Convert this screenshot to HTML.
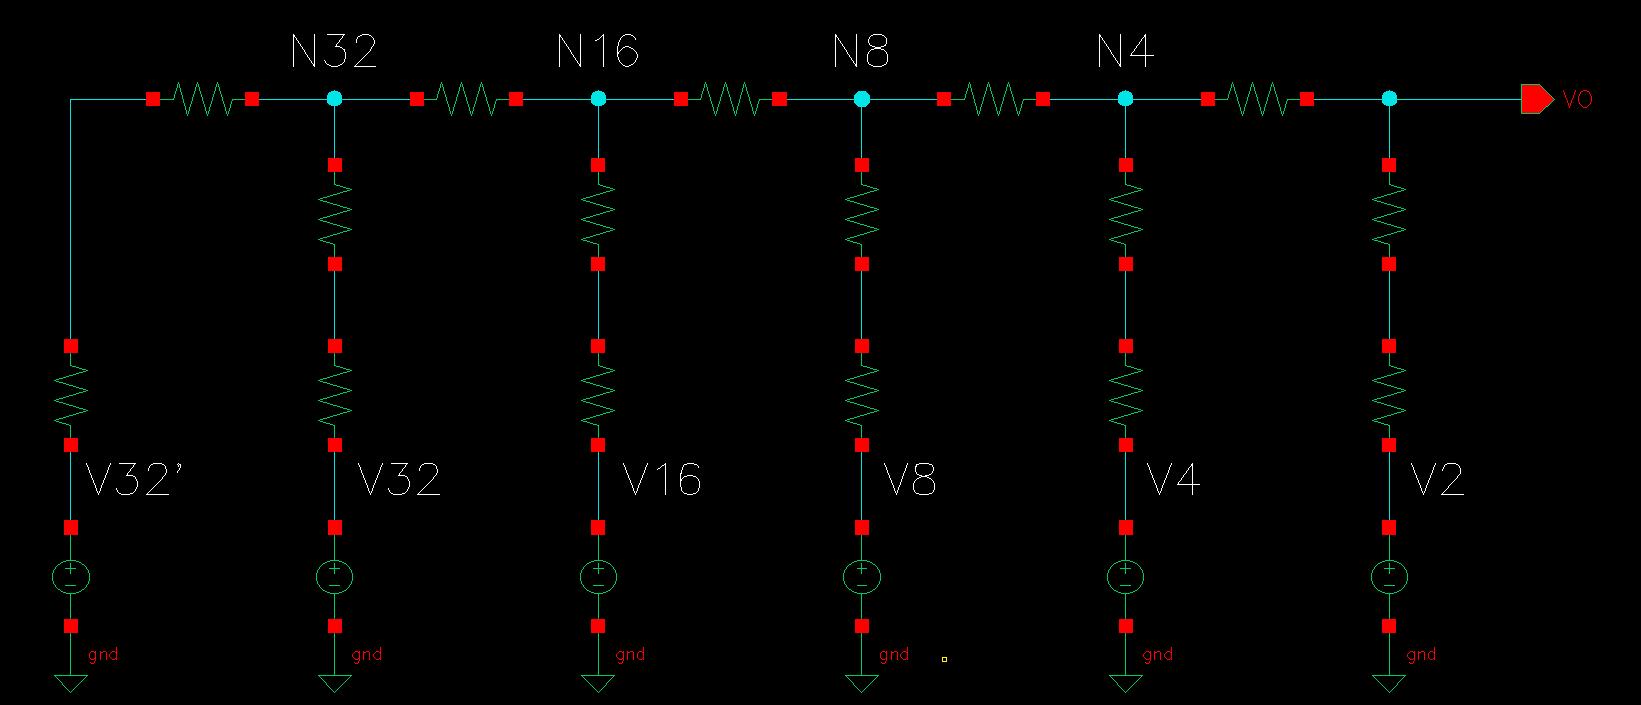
<!DOCTYPE html>
<html><head><meta charset="utf-8"><title>schematic</title>
<style>html,body{margin:0;padding:0;background:#000;overflow:hidden;width:1641px;height:705px}svg{display:block;position:absolute;left:0;top:0}</style></head><body>
<svg width="1641" height="705" viewBox="0 0 1641 705" shape-rendering="crispEdges">
<rect x="0" y="0" width="1641" height="705" fill="#000"/>
<path fill="#00e6e6" d="M334 90h1v1h-1zM598 90h1v1h-1zM1125 90h1v1h-1zM1389 90h1v1h-1zM331 91h7v1h-7zM595 91h7v1h-7zM858 91h8v1h-8zM1122 91h7v1h-7zM1386 91h7v1h-7zM329 92h11v1h-11zM593 92h11v1h-11zM857 92h10v1h-10zM1120 92h11v1h-11zM1384 92h11v1h-11zM328 93h13v1h-13zM592 93h13v1h-13zM856 93h12v1h-12zM1119 93h13v1h-13zM1383 93h13v1h-13zM328 94h13v1h-13zM592 94h13v1h-13zM855 94h14v1h-14zM1119 94h13v1h-13zM1383 94h13v1h-13zM327 95h15v1h-15zM591 95h15v1h-15zM854 95h16v1h-16zM1118 95h15v1h-15zM1382 95h15v1h-15zM327 96h15v1h-15zM591 96h15v1h-15zM854 96h16v1h-16zM1118 96h15v1h-15zM1382 96h15v1h-15zM327 97h15v1h-15zM591 97h15v1h-15zM854 97h16v1h-16zM1118 97h15v1h-15zM1382 97h15v1h-15zM327 98h15v1h-15zM591 98h15v1h-15zM854 98h16v1h-16zM1118 98h15v1h-15zM1382 98h15v1h-15zM70 99h76v1h-76zM259 99h151v1h-151zM523 99h151v1h-151zM787 99h150v1h-150zM1050 99h151v1h-151zM1314 99h207v1h-207zM70 100h1v1h-1zM327 100h15v1h-15zM591 100h15v1h-15zM854 100h16v1h-16zM1118 100h15v1h-15zM1382 100h15v1h-15zM70 101h1v1h-1zM327 101h15v1h-15zM591 101h15v1h-15zM854 101h16v1h-16zM1118 101h15v1h-15zM1382 101h15v1h-15zM70 102h1v1h-1zM327 102h15v1h-15zM591 102h15v1h-15zM854 102h16v1h-16zM1118 102h15v1h-15zM1382 102h15v1h-15zM70 103h1v1h-1zM328 103h13v1h-13zM592 103h13v1h-13zM855 103h14v1h-14zM1119 103h13v1h-13zM1383 103h13v1h-13zM70 104h1v1h-1zM329 104h11v1h-11zM593 104h11v1h-11zM856 104h12v1h-12zM1120 104h11v1h-11zM1384 104h11v1h-11zM70 105h1v1h-1zM331 105h7v1h-7zM595 105h7v1h-7zM857 105h10v1h-10zM1122 105h7v1h-7zM1386 105h7v1h-7zM70 106h1v1h-1zM334 106h1v1h-1zM598 106h1v1h-1zM858 106h8v1h-8zM1125 106h1v1h-1zM1389 106h1v1h-1zM70 107h1v1h-1zM334 107h1v1h-1zM598 107h1v1h-1zM861 107h1v1h-1zM1125 107h1v1h-1zM1389 107h1v1h-1zM70 108h1v1h-1zM334 108h1v1h-1zM598 108h1v1h-1zM861 108h1v1h-1zM1125 108h1v1h-1zM1389 108h1v1h-1zM70 109h1v1h-1zM334 109h1v1h-1zM598 109h1v1h-1zM861 109h1v1h-1zM1125 109h1v1h-1zM1389 109h1v1h-1zM70 110h1v1h-1zM334 110h1v1h-1zM598 110h1v1h-1zM861 110h1v1h-1zM1125 110h1v1h-1zM1389 110h1v1h-1zM70 111h1v1h-1zM334 111h1v1h-1zM598 111h1v1h-1zM861 111h1v1h-1zM1125 111h1v1h-1zM1389 111h1v1h-1zM70 112h1v1h-1zM334 112h1v1h-1zM598 112h1v1h-1zM861 112h1v1h-1zM1125 112h1v1h-1zM1389 112h1v1h-1zM70 113h1v1h-1zM334 113h1v1h-1zM598 113h1v1h-1zM861 113h1v1h-1zM1125 113h1v1h-1zM1389 113h1v1h-1zM70 114h1v1h-1zM334 114h1v1h-1zM598 114h1v1h-1zM861 114h1v1h-1zM1125 114h1v1h-1zM1389 114h1v1h-1zM70 115h1v1h-1zM334 115h1v1h-1zM598 115h1v1h-1zM861 115h1v1h-1zM1125 115h1v1h-1zM1389 115h1v1h-1zM70 116h1v1h-1zM334 116h1v1h-1zM598 116h1v1h-1zM861 116h1v1h-1zM1125 116h1v1h-1zM1389 116h1v1h-1zM70 117h1v1h-1zM334 117h1v1h-1zM598 117h1v1h-1zM861 117h1v1h-1zM1125 117h1v1h-1zM1389 117h1v1h-1zM70 118h1v1h-1zM334 118h1v1h-1zM598 118h1v1h-1zM861 118h1v1h-1zM1125 118h1v1h-1zM1389 118h1v1h-1zM70 119h1v1h-1zM334 119h1v1h-1zM598 119h1v1h-1zM861 119h1v1h-1zM1125 119h1v1h-1zM1389 119h1v1h-1zM70 120h1v1h-1zM334 120h1v1h-1zM598 120h1v1h-1zM861 120h1v1h-1zM1125 120h1v1h-1zM1389 120h1v1h-1zM70 121h1v1h-1zM334 121h1v1h-1zM598 121h1v1h-1zM861 121h1v1h-1zM1125 121h1v1h-1zM1389 121h1v1h-1zM70 122h1v1h-1zM334 122h1v1h-1zM598 122h1v1h-1zM861 122h1v1h-1zM1125 122h1v1h-1zM1389 122h1v1h-1zM70 123h1v1h-1zM334 123h1v1h-1zM598 123h1v1h-1zM861 123h1v1h-1zM1125 123h1v1h-1zM1389 123h1v1h-1zM70 124h1v1h-1zM334 124h1v1h-1zM598 124h1v1h-1zM861 124h1v1h-1zM1125 124h1v1h-1zM1389 124h1v1h-1zM70 125h1v1h-1zM334 125h1v1h-1zM598 125h1v1h-1zM861 125h1v1h-1zM1125 125h1v1h-1zM1389 125h1v1h-1zM70 126h1v1h-1zM334 126h1v1h-1zM598 126h1v1h-1zM861 126h1v1h-1zM1125 126h1v1h-1zM1389 126h1v1h-1zM70 127h1v1h-1zM334 127h1v1h-1zM598 127h1v1h-1zM861 127h1v1h-1zM1125 127h1v1h-1zM1389 127h1v1h-1zM70 128h1v1h-1zM334 128h1v1h-1zM598 128h1v1h-1zM861 128h1v1h-1zM1125 128h1v1h-1zM1389 128h1v1h-1zM70 129h1v1h-1zM334 129h1v1h-1zM598 129h1v1h-1zM861 129h1v1h-1zM1125 129h1v1h-1zM1389 129h1v1h-1zM70 130h1v1h-1zM334 130h1v1h-1zM598 130h1v1h-1zM861 130h1v1h-1zM1125 130h1v1h-1zM1389 130h1v1h-1zM70 131h1v1h-1zM334 131h1v1h-1zM598 131h1v1h-1zM861 131h1v1h-1zM1125 131h1v1h-1zM1389 131h1v1h-1zM70 132h1v1h-1zM334 132h1v1h-1zM598 132h1v1h-1zM861 132h1v1h-1zM1125 132h1v1h-1zM1389 132h1v1h-1zM70 133h1v1h-1zM334 133h1v1h-1zM598 133h1v1h-1zM861 133h1v1h-1zM1125 133h1v1h-1zM1389 133h1v1h-1zM70 134h1v1h-1zM334 134h1v1h-1zM598 134h1v1h-1zM861 134h1v1h-1zM1125 134h1v1h-1zM1389 134h1v1h-1zM70 135h1v1h-1zM334 135h1v1h-1zM598 135h1v1h-1zM861 135h1v1h-1zM1125 135h1v1h-1zM1389 135h1v1h-1zM70 136h1v1h-1zM334 136h1v1h-1zM598 136h1v1h-1zM861 136h1v1h-1zM1125 136h1v1h-1zM1389 136h1v1h-1zM70 137h1v1h-1zM334 137h1v1h-1zM598 137h1v1h-1zM861 137h1v1h-1zM1125 137h1v1h-1zM1389 137h1v1h-1zM70 138h1v1h-1zM334 138h1v1h-1zM598 138h1v1h-1zM861 138h1v1h-1zM1125 138h1v1h-1zM1389 138h1v1h-1zM70 139h1v1h-1zM334 139h1v1h-1zM598 139h1v1h-1zM861 139h1v1h-1zM1125 139h1v1h-1zM1389 139h1v1h-1zM70 140h1v1h-1zM334 140h1v1h-1zM598 140h1v1h-1zM861 140h1v1h-1zM1125 140h1v1h-1zM1389 140h1v1h-1zM70 141h1v1h-1zM334 141h1v1h-1zM598 141h1v1h-1zM861 141h1v1h-1zM1125 141h1v1h-1zM1389 141h1v1h-1zM70 142h1v1h-1zM334 142h1v1h-1zM598 142h1v1h-1zM861 142h1v1h-1zM1125 142h1v1h-1zM1389 142h1v1h-1zM70 143h1v1h-1zM334 143h1v1h-1zM598 143h1v1h-1zM861 143h1v1h-1zM1125 143h1v1h-1zM1389 143h1v1h-1zM70 144h1v1h-1zM334 144h1v1h-1zM598 144h1v1h-1zM861 144h1v1h-1zM1125 144h1v1h-1zM1389 144h1v1h-1zM70 145h1v1h-1zM334 145h1v1h-1zM598 145h1v1h-1zM861 145h1v1h-1zM1125 145h1v1h-1zM1389 145h1v1h-1zM70 146h1v1h-1zM334 146h1v1h-1zM598 146h1v1h-1zM861 146h1v1h-1zM1125 146h1v1h-1zM1389 146h1v1h-1zM70 147h1v1h-1zM334 147h1v1h-1zM598 147h1v1h-1zM861 147h1v1h-1zM1125 147h1v1h-1zM1389 147h1v1h-1zM70 148h1v1h-1zM334 148h1v1h-1zM598 148h1v1h-1zM861 148h1v1h-1zM1125 148h1v1h-1zM1389 148h1v1h-1zM70 149h1v1h-1zM334 149h1v1h-1zM598 149h1v1h-1zM861 149h1v1h-1zM1125 149h1v1h-1zM1389 149h1v1h-1zM70 150h1v1h-1zM334 150h1v1h-1zM598 150h1v1h-1zM861 150h1v1h-1zM1125 150h1v1h-1zM1389 150h1v1h-1zM70 151h1v1h-1zM334 151h1v1h-1zM598 151h1v1h-1zM861 151h1v1h-1zM1125 151h1v1h-1zM1389 151h1v1h-1zM70 152h1v1h-1zM334 152h1v1h-1zM598 152h1v1h-1zM861 152h1v1h-1zM1125 152h1v1h-1zM1389 152h1v1h-1zM70 153h1v1h-1zM334 153h1v1h-1zM598 153h1v1h-1zM861 153h1v1h-1zM1125 153h1v1h-1zM1389 153h1v1h-1zM70 154h1v1h-1zM334 154h1v1h-1zM598 154h1v1h-1zM861 154h1v1h-1zM1125 154h1v1h-1zM1389 154h1v1h-1zM70 155h1v1h-1zM334 155h1v1h-1zM598 155h1v1h-1zM861 155h1v1h-1zM1125 155h1v1h-1zM1389 155h1v1h-1zM70 156h1v1h-1zM334 156h1v1h-1zM598 156h1v1h-1zM861 156h1v1h-1zM1125 156h1v1h-1zM1389 156h1v1h-1zM70 157h1v1h-1zM334 157h1v1h-1zM598 157h1v1h-1zM861 157h1v1h-1zM1125 157h1v1h-1zM1389 157h1v1h-1zM70 158h1v1h-1zM70 159h1v1h-1zM70 160h1v1h-1zM70 161h1v1h-1zM70 162h1v1h-1zM70 163h1v1h-1zM70 164h1v1h-1zM70 165h1v1h-1zM70 166h1v1h-1zM70 167h1v1h-1zM70 168h1v1h-1zM70 169h1v1h-1zM70 170h1v1h-1zM70 171h1v1h-1zM70 172h1v1h-1zM70 173h1v1h-1zM70 174h1v1h-1zM70 175h1v1h-1zM70 176h1v1h-1zM70 177h1v1h-1zM70 178h1v1h-1zM70 179h1v1h-1zM70 180h1v1h-1zM70 181h1v1h-1zM70 182h1v1h-1zM70 183h1v1h-1zM70 184h1v1h-1zM70 185h1v1h-1zM70 186h1v1h-1zM70 187h1v1h-1zM70 188h1v1h-1zM70 189h1v1h-1zM70 190h1v1h-1zM70 191h1v1h-1zM70 192h1v1h-1zM70 193h1v1h-1zM70 194h1v1h-1zM70 195h1v1h-1zM70 196h1v1h-1zM70 197h1v1h-1zM70 198h1v1h-1zM70 199h1v1h-1zM70 200h1v1h-1zM70 201h1v1h-1zM70 202h1v1h-1zM70 203h1v1h-1zM70 204h1v1h-1zM70 205h1v1h-1zM70 206h1v1h-1zM70 207h1v1h-1zM70 208h1v1h-1zM70 209h1v1h-1zM70 210h1v1h-1zM70 211h1v1h-1zM70 212h1v1h-1zM70 213h1v1h-1zM70 214h1v1h-1zM70 215h1v1h-1zM70 216h1v1h-1zM70 217h1v1h-1zM70 218h1v1h-1zM70 219h1v1h-1zM70 220h1v1h-1zM70 221h1v1h-1zM70 222h1v1h-1zM70 223h1v1h-1zM70 224h1v1h-1zM70 225h1v1h-1zM70 226h1v1h-1zM70 227h1v1h-1zM70 228h1v1h-1zM70 229h1v1h-1zM70 230h1v1h-1zM70 231h1v1h-1zM70 232h1v1h-1zM70 233h1v1h-1zM70 234h1v1h-1zM70 235h1v1h-1zM70 236h1v1h-1zM70 237h1v1h-1zM70 238h1v1h-1zM70 239h1v1h-1zM70 240h1v1h-1zM70 241h1v1h-1zM70 242h1v1h-1zM70 243h1v1h-1zM70 244h1v1h-1zM70 245h1v1h-1zM70 246h1v1h-1zM70 247h1v1h-1zM70 248h1v1h-1zM70 249h1v1h-1zM70 250h1v1h-1zM70 251h1v1h-1zM70 252h1v1h-1zM70 253h1v1h-1zM70 254h1v1h-1zM70 255h1v1h-1zM70 256h1v1h-1zM70 257h1v1h-1zM70 258h1v1h-1zM70 259h1v1h-1zM70 260h1v1h-1zM70 261h1v1h-1zM70 262h1v1h-1zM70 263h1v1h-1zM70 264h1v1h-1zM70 265h1v1h-1zM70 266h1v1h-1zM70 267h1v1h-1zM70 268h1v1h-1zM70 269h1v1h-1zM70 270h1v1h-1zM70 271h1v1h-1zM334 271h1v1h-1zM598 271h1v1h-1zM861 271h1v1h-1zM1125 271h1v1h-1zM1389 271h1v1h-1zM70 272h1v1h-1zM334 272h1v1h-1zM598 272h1v1h-1zM861 272h1v1h-1zM1125 272h1v1h-1zM1389 272h1v1h-1zM70 273h1v1h-1zM334 273h1v1h-1zM598 273h1v1h-1zM861 273h1v1h-1zM1125 273h1v1h-1zM1389 273h1v1h-1zM70 274h1v1h-1zM334 274h1v1h-1zM598 274h1v1h-1zM861 274h1v1h-1zM1125 274h1v1h-1zM1389 274h1v1h-1zM70 275h1v1h-1zM334 275h1v1h-1zM598 275h1v1h-1zM861 275h1v1h-1zM1125 275h1v1h-1zM1389 275h1v1h-1zM70 276h1v1h-1zM334 276h1v1h-1zM598 276h1v1h-1zM861 276h1v1h-1zM1125 276h1v1h-1zM1389 276h1v1h-1zM70 277h1v1h-1zM334 277h1v1h-1zM598 277h1v1h-1zM861 277h1v1h-1zM1125 277h1v1h-1zM1389 277h1v1h-1zM70 278h1v1h-1zM334 278h1v1h-1zM598 278h1v1h-1zM861 278h1v1h-1zM1125 278h1v1h-1zM1389 278h1v1h-1zM70 279h1v1h-1zM334 279h1v1h-1zM598 279h1v1h-1zM861 279h1v1h-1zM1125 279h1v1h-1zM1389 279h1v1h-1zM70 280h1v1h-1zM334 280h1v1h-1zM598 280h1v1h-1zM861 280h1v1h-1zM1125 280h1v1h-1zM1389 280h1v1h-1zM70 281h1v1h-1zM334 281h1v1h-1zM598 281h1v1h-1zM861 281h1v1h-1zM1125 281h1v1h-1zM1389 281h1v1h-1zM70 282h1v1h-1zM334 282h1v1h-1zM598 282h1v1h-1zM861 282h1v1h-1zM1125 282h1v1h-1zM1389 282h1v1h-1zM70 283h1v1h-1zM334 283h1v1h-1zM598 283h1v1h-1zM861 283h1v1h-1zM1125 283h1v1h-1zM1389 283h1v1h-1zM70 284h1v1h-1zM334 284h1v1h-1zM598 284h1v1h-1zM861 284h1v1h-1zM1125 284h1v1h-1zM1389 284h1v1h-1zM70 285h1v1h-1zM334 285h1v1h-1zM598 285h1v1h-1zM861 285h1v1h-1zM1125 285h1v1h-1zM1389 285h1v1h-1zM70 286h1v1h-1zM334 286h1v1h-1zM598 286h1v1h-1zM861 286h1v1h-1zM1125 286h1v1h-1zM1389 286h1v1h-1zM70 287h1v1h-1zM334 287h1v1h-1zM598 287h1v1h-1zM861 287h1v1h-1zM1125 287h1v1h-1zM1389 287h1v1h-1zM70 288h1v1h-1zM334 288h1v1h-1zM598 288h1v1h-1zM861 288h1v1h-1zM1125 288h1v1h-1zM1389 288h1v1h-1zM70 289h1v1h-1zM334 289h1v1h-1zM598 289h1v1h-1zM861 289h1v1h-1zM1125 289h1v1h-1zM1389 289h1v1h-1zM70 290h1v1h-1zM334 290h1v1h-1zM598 290h1v1h-1zM861 290h1v1h-1zM1125 290h1v1h-1zM1389 290h1v1h-1zM70 291h1v1h-1zM334 291h1v1h-1zM598 291h1v1h-1zM861 291h1v1h-1zM1125 291h1v1h-1zM1389 291h1v1h-1zM70 292h1v1h-1zM334 292h1v1h-1zM598 292h1v1h-1zM861 292h1v1h-1zM1125 292h1v1h-1zM1389 292h1v1h-1zM70 293h1v1h-1zM334 293h1v1h-1zM598 293h1v1h-1zM861 293h1v1h-1zM1125 293h1v1h-1zM1389 293h1v1h-1zM70 294h1v1h-1zM334 294h1v1h-1zM598 294h1v1h-1zM861 294h1v1h-1zM1125 294h1v1h-1zM1389 294h1v1h-1zM70 295h1v1h-1zM334 295h1v1h-1zM598 295h1v1h-1zM861 295h1v1h-1zM1125 295h1v1h-1zM1389 295h1v1h-1zM70 296h1v1h-1zM334 296h1v1h-1zM598 296h1v1h-1zM861 296h1v1h-1zM1125 296h1v1h-1zM1389 296h1v1h-1zM70 297h1v1h-1zM334 297h1v1h-1zM598 297h1v1h-1zM861 297h1v1h-1zM1125 297h1v1h-1zM1389 297h1v1h-1zM70 298h1v1h-1zM334 298h1v1h-1zM598 298h1v1h-1zM861 298h1v1h-1zM1125 298h1v1h-1zM1389 298h1v1h-1zM70 299h1v1h-1zM334 299h1v1h-1zM598 299h1v1h-1zM861 299h1v1h-1zM1125 299h1v1h-1zM1389 299h1v1h-1zM70 300h1v1h-1zM334 300h1v1h-1zM598 300h1v1h-1zM861 300h1v1h-1zM1125 300h1v1h-1zM1389 300h1v1h-1zM70 301h1v1h-1zM334 301h1v1h-1zM598 301h1v1h-1zM861 301h1v1h-1zM1125 301h1v1h-1zM1389 301h1v1h-1zM70 302h1v1h-1zM334 302h1v1h-1zM598 302h1v1h-1zM861 302h1v1h-1zM1125 302h1v1h-1zM1389 302h1v1h-1zM70 303h1v1h-1zM334 303h1v1h-1zM598 303h1v1h-1zM861 303h1v1h-1zM1125 303h1v1h-1zM1389 303h1v1h-1zM70 304h1v1h-1zM334 304h1v1h-1zM598 304h1v1h-1zM861 304h1v1h-1zM1125 304h1v1h-1zM1389 304h1v1h-1zM70 305h1v1h-1zM334 305h1v1h-1zM598 305h1v1h-1zM861 305h1v1h-1zM1125 305h1v1h-1zM1389 305h1v1h-1zM70 306h1v1h-1zM334 306h1v1h-1zM598 306h1v1h-1zM861 306h1v1h-1zM1125 306h1v1h-1zM1389 306h1v1h-1zM70 307h1v1h-1zM334 307h1v1h-1zM598 307h1v1h-1zM861 307h1v1h-1zM1125 307h1v1h-1zM1389 307h1v1h-1zM70 308h1v1h-1zM334 308h1v1h-1zM598 308h1v1h-1zM861 308h1v1h-1zM1125 308h1v1h-1zM1389 308h1v1h-1zM70 309h1v1h-1zM334 309h1v1h-1zM598 309h1v1h-1zM861 309h1v1h-1zM1125 309h1v1h-1zM1389 309h1v1h-1zM70 310h1v1h-1zM334 310h1v1h-1zM598 310h1v1h-1zM861 310h1v1h-1zM1125 310h1v1h-1zM1389 310h1v1h-1zM70 311h1v1h-1zM334 311h1v1h-1zM598 311h1v1h-1zM861 311h1v1h-1zM1125 311h1v1h-1zM1389 311h1v1h-1zM70 312h1v1h-1zM334 312h1v1h-1zM598 312h1v1h-1zM861 312h1v1h-1zM1125 312h1v1h-1zM1389 312h1v1h-1zM70 313h1v1h-1zM334 313h1v1h-1zM598 313h1v1h-1zM861 313h1v1h-1zM1125 313h1v1h-1zM1389 313h1v1h-1zM70 314h1v1h-1zM334 314h1v1h-1zM598 314h1v1h-1zM861 314h1v1h-1zM1125 314h1v1h-1zM1389 314h1v1h-1zM70 315h1v1h-1zM334 315h1v1h-1zM598 315h1v1h-1zM861 315h1v1h-1zM1125 315h1v1h-1zM1389 315h1v1h-1zM70 316h1v1h-1zM334 316h1v1h-1zM598 316h1v1h-1zM861 316h1v1h-1zM1125 316h1v1h-1zM1389 316h1v1h-1zM70 317h1v1h-1zM334 317h1v1h-1zM598 317h1v1h-1zM861 317h1v1h-1zM1125 317h1v1h-1zM1389 317h1v1h-1zM70 318h1v1h-1zM334 318h1v1h-1zM598 318h1v1h-1zM861 318h1v1h-1zM1125 318h1v1h-1zM1389 318h1v1h-1zM70 319h1v1h-1zM334 319h1v1h-1zM598 319h1v1h-1zM861 319h1v1h-1zM1125 319h1v1h-1zM1389 319h1v1h-1zM70 320h1v1h-1zM334 320h1v1h-1zM598 320h1v1h-1zM861 320h1v1h-1zM1125 320h1v1h-1zM1389 320h1v1h-1zM70 321h1v1h-1zM334 321h1v1h-1zM598 321h1v1h-1zM861 321h1v1h-1zM1125 321h1v1h-1zM1389 321h1v1h-1zM70 322h1v1h-1zM334 322h1v1h-1zM598 322h1v1h-1zM861 322h1v1h-1zM1125 322h1v1h-1zM1389 322h1v1h-1zM70 323h1v1h-1zM334 323h1v1h-1zM598 323h1v1h-1zM861 323h1v1h-1zM1125 323h1v1h-1zM1389 323h1v1h-1zM70 324h1v1h-1zM334 324h1v1h-1zM598 324h1v1h-1zM861 324h1v1h-1zM1125 324h1v1h-1zM1389 324h1v1h-1zM70 325h1v1h-1zM334 325h1v1h-1zM598 325h1v1h-1zM861 325h1v1h-1zM1125 325h1v1h-1zM1389 325h1v1h-1zM70 326h1v1h-1zM334 326h1v1h-1zM598 326h1v1h-1zM861 326h1v1h-1zM1125 326h1v1h-1zM1389 326h1v1h-1zM70 327h1v1h-1zM334 327h1v1h-1zM598 327h1v1h-1zM861 327h1v1h-1zM1125 327h1v1h-1zM1389 327h1v1h-1zM70 328h1v1h-1zM334 328h1v1h-1zM598 328h1v1h-1zM861 328h1v1h-1zM1125 328h1v1h-1zM1389 328h1v1h-1zM70 329h1v1h-1zM334 329h1v1h-1zM598 329h1v1h-1zM861 329h1v1h-1zM1125 329h1v1h-1zM1389 329h1v1h-1zM70 330h1v1h-1zM334 330h1v1h-1zM598 330h1v1h-1zM861 330h1v1h-1zM1125 330h1v1h-1zM1389 330h1v1h-1zM70 331h1v1h-1zM334 331h1v1h-1zM598 331h1v1h-1zM861 331h1v1h-1zM1125 331h1v1h-1zM1389 331h1v1h-1zM70 332h1v1h-1zM334 332h1v1h-1zM598 332h1v1h-1zM861 332h1v1h-1zM1125 332h1v1h-1zM1389 332h1v1h-1zM70 333h1v1h-1zM334 333h1v1h-1zM598 333h1v1h-1zM861 333h1v1h-1zM1125 333h1v1h-1zM1389 333h1v1h-1zM70 334h1v1h-1zM334 334h1v1h-1zM598 334h1v1h-1zM861 334h1v1h-1zM1125 334h1v1h-1zM1389 334h1v1h-1zM70 335h1v1h-1zM334 335h1v1h-1zM598 335h1v1h-1zM861 335h1v1h-1zM1125 335h1v1h-1zM1389 335h1v1h-1zM70 336h1v1h-1zM334 336h1v1h-1zM598 336h1v1h-1zM861 336h1v1h-1zM1125 336h1v1h-1zM1389 336h1v1h-1zM70 337h1v1h-1zM334 337h1v1h-1zM598 337h1v1h-1zM861 337h1v1h-1zM1125 337h1v1h-1zM1389 337h1v1h-1zM70 338h1v1h-1zM334 338h1v1h-1zM598 338h1v1h-1zM861 338h1v1h-1zM1125 338h1v1h-1zM1389 338h1v1h-1zM70 452h1v1h-1zM334 452h1v1h-1zM598 452h1v1h-1zM861 452h1v1h-1zM1125 452h1v1h-1zM1389 452h1v1h-1zM70 453h1v1h-1zM334 453h1v1h-1zM598 453h1v1h-1zM861 453h1v1h-1zM1125 453h1v1h-1zM1389 453h1v1h-1zM70 454h1v1h-1zM334 454h1v1h-1zM598 454h1v1h-1zM861 454h1v1h-1zM1125 454h1v1h-1zM1389 454h1v1h-1zM70 455h1v1h-1zM334 455h1v1h-1zM598 455h1v1h-1zM861 455h1v1h-1zM1125 455h1v1h-1zM1389 455h1v1h-1zM70 456h1v1h-1zM334 456h1v1h-1zM598 456h1v1h-1zM861 456h1v1h-1zM1125 456h1v1h-1zM1389 456h1v1h-1zM70 457h1v1h-1zM334 457h1v1h-1zM598 457h1v1h-1zM861 457h1v1h-1zM1125 457h1v1h-1zM1389 457h1v1h-1zM70 458h1v1h-1zM334 458h1v1h-1zM598 458h1v1h-1zM861 458h1v1h-1zM1125 458h1v1h-1zM1389 458h1v1h-1zM70 459h1v1h-1zM334 459h1v1h-1zM598 459h1v1h-1zM861 459h1v1h-1zM1125 459h1v1h-1zM1389 459h1v1h-1zM70 460h1v1h-1zM334 460h1v1h-1zM598 460h1v1h-1zM861 460h1v1h-1zM1125 460h1v1h-1zM1389 460h1v1h-1zM70 461h1v1h-1zM334 461h1v1h-1zM598 461h1v1h-1zM861 461h1v1h-1zM1125 461h1v1h-1zM1389 461h1v1h-1zM70 462h1v1h-1zM334 462h1v1h-1zM598 462h1v1h-1zM861 462h1v1h-1zM1125 462h1v1h-1zM1389 462h1v1h-1zM70 463h1v1h-1zM334 463h1v1h-1zM598 463h1v1h-1zM861 463h1v1h-1zM1125 463h1v1h-1zM1389 463h1v1h-1zM70 464h1v1h-1zM334 464h1v1h-1zM598 464h1v1h-1zM861 464h1v1h-1zM1125 464h1v1h-1zM1389 464h1v1h-1zM70 465h1v1h-1zM334 465h1v1h-1zM598 465h1v1h-1zM861 465h1v1h-1zM1125 465h1v1h-1zM1389 465h1v1h-1zM70 466h1v1h-1zM334 466h1v1h-1zM598 466h1v1h-1zM861 466h1v1h-1zM1125 466h1v1h-1zM1389 466h1v1h-1zM70 467h1v1h-1zM334 467h1v1h-1zM598 467h1v1h-1zM861 467h1v1h-1zM1125 467h1v1h-1zM1389 467h1v1h-1zM70 468h1v1h-1zM334 468h1v1h-1zM598 468h1v1h-1zM861 468h1v1h-1zM1125 468h1v1h-1zM1389 468h1v1h-1zM70 469h1v1h-1zM334 469h1v1h-1zM598 469h1v1h-1zM861 469h1v1h-1zM1125 469h1v1h-1zM1389 469h1v1h-1zM70 470h1v1h-1zM334 470h1v1h-1zM598 470h1v1h-1zM861 470h1v1h-1zM1125 470h1v1h-1zM1389 470h1v1h-1zM70 471h1v1h-1zM334 471h1v1h-1zM598 471h1v1h-1zM861 471h1v1h-1zM1125 471h1v1h-1zM1389 471h1v1h-1zM70 472h1v1h-1zM334 472h1v1h-1zM598 472h1v1h-1zM861 472h1v1h-1zM1125 472h1v1h-1zM1389 472h1v1h-1zM70 473h1v1h-1zM334 473h1v1h-1zM598 473h1v1h-1zM861 473h1v1h-1zM1125 473h1v1h-1zM1389 473h1v1h-1zM70 474h1v1h-1zM334 474h1v1h-1zM598 474h1v1h-1zM861 474h1v1h-1zM1125 474h1v1h-1zM1389 474h1v1h-1zM70 475h1v1h-1zM334 475h1v1h-1zM598 475h1v1h-1zM861 475h1v1h-1zM1125 475h1v1h-1zM1389 475h1v1h-1zM70 476h1v1h-1zM334 476h1v1h-1zM598 476h1v1h-1zM861 476h1v1h-1zM1125 476h1v1h-1zM1389 476h1v1h-1zM70 477h1v1h-1zM334 477h1v1h-1zM598 477h1v1h-1zM861 477h1v1h-1zM1125 477h1v1h-1zM1389 477h1v1h-1zM70 478h1v1h-1zM334 478h1v1h-1zM598 478h1v1h-1zM861 478h1v1h-1zM1125 478h1v1h-1zM1389 478h1v1h-1zM70 479h1v1h-1zM334 479h1v1h-1zM598 479h1v1h-1zM861 479h1v1h-1zM1125 479h1v1h-1zM1389 479h1v1h-1zM70 480h1v1h-1zM334 480h1v1h-1zM598 480h1v1h-1zM861 480h1v1h-1zM1125 480h1v1h-1zM1389 480h1v1h-1zM70 481h1v1h-1zM334 481h1v1h-1zM598 481h1v1h-1zM861 481h1v1h-1zM1125 481h1v1h-1zM1389 481h1v1h-1zM70 482h1v1h-1zM334 482h1v1h-1zM598 482h1v1h-1zM861 482h1v1h-1zM1125 482h1v1h-1zM1389 482h1v1h-1zM70 483h1v1h-1zM334 483h1v1h-1zM598 483h1v1h-1zM861 483h1v1h-1zM1125 483h1v1h-1zM1389 483h1v1h-1zM70 484h1v1h-1zM334 484h1v1h-1zM598 484h1v1h-1zM861 484h1v1h-1zM1125 484h1v1h-1zM1389 484h1v1h-1zM70 485h1v1h-1zM334 485h1v1h-1zM598 485h1v1h-1zM861 485h1v1h-1zM1125 485h1v1h-1zM1389 485h1v1h-1zM70 486h1v1h-1zM334 486h1v1h-1zM598 486h1v1h-1zM861 486h1v1h-1zM1125 486h1v1h-1zM1389 486h1v1h-1zM70 487h1v1h-1zM334 487h1v1h-1zM598 487h1v1h-1zM861 487h1v1h-1zM1125 487h1v1h-1zM1389 487h1v1h-1zM70 488h1v1h-1zM334 488h1v1h-1zM598 488h1v1h-1zM861 488h1v1h-1zM1125 488h1v1h-1zM1389 488h1v1h-1zM70 489h1v1h-1zM334 489h1v1h-1zM598 489h1v1h-1zM861 489h1v1h-1zM1125 489h1v1h-1zM1389 489h1v1h-1zM70 490h1v1h-1zM334 490h1v1h-1zM598 490h1v1h-1zM861 490h1v1h-1zM1125 490h1v1h-1zM1389 490h1v1h-1zM70 491h1v1h-1zM334 491h1v1h-1zM598 491h1v1h-1zM861 491h1v1h-1zM1125 491h1v1h-1zM1389 491h1v1h-1zM70 492h1v1h-1zM334 492h1v1h-1zM598 492h1v1h-1zM861 492h1v1h-1zM1125 492h1v1h-1zM1389 492h1v1h-1zM70 493h1v1h-1zM334 493h1v1h-1zM598 493h1v1h-1zM861 493h1v1h-1zM1125 493h1v1h-1zM1389 493h1v1h-1zM70 494h1v1h-1zM334 494h1v1h-1zM598 494h1v1h-1zM861 494h1v1h-1zM1125 494h1v1h-1zM1389 494h1v1h-1zM70 495h1v1h-1zM334 495h1v1h-1zM598 495h1v1h-1zM861 495h1v1h-1zM1125 495h1v1h-1zM1389 495h1v1h-1zM70 496h1v1h-1zM334 496h1v1h-1zM598 496h1v1h-1zM861 496h1v1h-1zM1125 496h1v1h-1zM1389 496h1v1h-1zM70 497h1v1h-1zM334 497h1v1h-1zM598 497h1v1h-1zM861 497h1v1h-1zM1125 497h1v1h-1zM1389 497h1v1h-1zM70 498h1v1h-1zM334 498h1v1h-1zM598 498h1v1h-1zM861 498h1v1h-1zM1125 498h1v1h-1zM1389 498h1v1h-1zM70 499h1v1h-1zM334 499h1v1h-1zM598 499h1v1h-1zM861 499h1v1h-1zM1125 499h1v1h-1zM1389 499h1v1h-1zM70 500h1v1h-1zM334 500h1v1h-1zM598 500h1v1h-1zM861 500h1v1h-1zM1125 500h1v1h-1zM1389 500h1v1h-1zM70 501h1v1h-1zM334 501h1v1h-1zM598 501h1v1h-1zM861 501h1v1h-1zM1125 501h1v1h-1zM1389 501h1v1h-1zM70 502h1v1h-1zM334 502h1v1h-1zM598 502h1v1h-1zM861 502h1v1h-1zM1125 502h1v1h-1zM1389 502h1v1h-1zM70 503h1v1h-1zM334 503h1v1h-1zM598 503h1v1h-1zM861 503h1v1h-1zM1125 503h1v1h-1zM1389 503h1v1h-1zM70 504h1v1h-1zM334 504h1v1h-1zM598 504h1v1h-1zM861 504h1v1h-1zM1125 504h1v1h-1zM1389 504h1v1h-1zM70 505h1v1h-1zM334 505h1v1h-1zM598 505h1v1h-1zM861 505h1v1h-1zM1125 505h1v1h-1zM1389 505h1v1h-1zM70 506h1v1h-1zM334 506h1v1h-1zM598 506h1v1h-1zM861 506h1v1h-1zM1125 506h1v1h-1zM1389 506h1v1h-1zM70 507h1v1h-1zM334 507h1v1h-1zM598 507h1v1h-1zM861 507h1v1h-1zM1125 507h1v1h-1zM1389 507h1v1h-1zM70 508h1v1h-1zM334 508h1v1h-1zM598 508h1v1h-1zM861 508h1v1h-1zM1125 508h1v1h-1zM1389 508h1v1h-1zM70 509h1v1h-1zM334 509h1v1h-1zM598 509h1v1h-1zM861 509h1v1h-1zM1125 509h1v1h-1zM1389 509h1v1h-1zM70 510h1v1h-1zM334 510h1v1h-1zM598 510h1v1h-1zM861 510h1v1h-1zM1125 510h1v1h-1zM1389 510h1v1h-1zM70 511h1v1h-1zM334 511h1v1h-1zM598 511h1v1h-1zM861 511h1v1h-1zM1125 511h1v1h-1zM1389 511h1v1h-1zM70 512h1v1h-1zM334 512h1v1h-1zM598 512h1v1h-1zM861 512h1v1h-1zM1125 512h1v1h-1zM1389 512h1v1h-1zM70 513h1v1h-1zM334 513h1v1h-1zM598 513h1v1h-1zM861 513h1v1h-1zM1125 513h1v1h-1zM1389 513h1v1h-1zM70 514h1v1h-1zM334 514h1v1h-1zM598 514h1v1h-1zM861 514h1v1h-1zM1125 514h1v1h-1zM1389 514h1v1h-1zM70 515h1v1h-1zM334 515h1v1h-1zM598 515h1v1h-1zM861 515h1v1h-1zM1125 515h1v1h-1zM1389 515h1v1h-1zM70 516h1v1h-1zM334 516h1v1h-1zM598 516h1v1h-1zM861 516h1v1h-1zM1125 516h1v1h-1zM1389 516h1v1h-1zM70 517h1v1h-1zM334 517h1v1h-1zM598 517h1v1h-1zM861 517h1v1h-1zM1125 517h1v1h-1zM1389 517h1v1h-1zM70 518h1v1h-1zM334 518h1v1h-1zM598 518h1v1h-1zM861 518h1v1h-1zM1125 518h1v1h-1zM1389 518h1v1h-1zM70 519h1v1h-1zM334 519h1v1h-1zM598 519h1v1h-1zM861 519h1v1h-1zM1125 519h1v1h-1zM1389 519h1v1h-1z"/>
<path fill="#ff0000" d="M1522 85h18v1h-18zM1522 86h19v1h-19zM1522 87h20v1h-20zM1522 88h21v1h-21zM1522 89h22v1h-22zM1522 90h23v1h-23zM1563 90h1v1h-1zM1575 90h1v1h-1zM1583 90h4v1h-4zM1522 91h24v1h-24zM1563 91h1v1h-1zM1575 91h1v1h-1zM1581 91h2v1h-2zM1587 91h2v1h-2zM146 92h14v1h-14zM245 92h14v1h-14zM410 92h14v1h-14zM509 92h14v1h-14zM674 92h14v1h-14zM772 92h15v1h-15zM937 92h14v1h-14zM1036 92h14v1h-14zM1201 92h14v1h-14zM1300 92h14v1h-14zM1522 92h25v1h-25zM1564 92h1v1h-1zM1574 92h1v1h-1zM1580 92h1v1h-1zM1589 92h1v1h-1zM146 93h14v1h-14zM245 93h14v1h-14zM410 93h14v1h-14zM509 93h14v1h-14zM674 93h14v1h-14zM772 93h15v1h-15zM937 93h14v1h-14zM1036 93h14v1h-14zM1201 93h14v1h-14zM1300 93h14v1h-14zM1522 93h26v1h-26zM1564 93h1v1h-1zM1574 93h1v1h-1zM1580 93h1v1h-1zM1589 93h1v1h-1zM146 94h14v1h-14zM245 94h14v1h-14zM410 94h14v1h-14zM509 94h14v1h-14zM674 94h14v1h-14zM772 94h15v1h-15zM937 94h14v1h-14zM1036 94h14v1h-14zM1201 94h14v1h-14zM1300 94h14v1h-14zM1522 94h27v1h-27zM1564 94h1v1h-1zM1574 94h1v1h-1zM1579 94h1v1h-1zM1590 94h1v1h-1zM146 95h14v1h-14zM245 95h14v1h-14zM410 95h14v1h-14zM509 95h14v1h-14zM674 95h14v1h-14zM772 95h15v1h-15zM937 95h14v1h-14zM1036 95h14v1h-14zM1201 95h14v1h-14zM1300 95h14v1h-14zM1522 95h28v1h-28zM1565 95h1v1h-1zM1573 95h1v1h-1zM1579 95h1v1h-1zM1590 95h1v1h-1zM146 96h14v1h-14zM245 96h14v1h-14zM410 96h14v1h-14zM509 96h14v1h-14zM674 96h14v1h-14zM772 96h15v1h-15zM937 96h14v1h-14zM1036 96h14v1h-14zM1201 96h14v1h-14zM1300 96h14v1h-14zM1522 96h29v1h-29zM1565 96h1v1h-1zM1573 96h1v1h-1zM1578 96h1v1h-1zM1591 96h1v1h-1zM146 97h14v1h-14zM245 97h14v1h-14zM410 97h14v1h-14zM509 97h14v1h-14zM674 97h14v1h-14zM772 97h15v1h-15zM937 97h14v1h-14zM1036 97h14v1h-14zM1201 97h14v1h-14zM1300 97h14v1h-14zM1522 97h30v1h-30zM1565 97h1v1h-1zM1573 97h1v1h-1zM1578 97h1v1h-1zM1591 97h1v1h-1zM146 98h14v1h-14zM245 98h14v1h-14zM410 98h14v1h-14zM509 98h14v1h-14zM674 98h14v1h-14zM772 98h15v1h-15zM937 98h14v1h-14zM1036 98h14v1h-14zM1201 98h14v1h-14zM1300 98h14v1h-14zM1522 98h31v1h-31zM1566 98h1v1h-1zM1572 98h1v1h-1zM1578 98h1v1h-1zM1591 98h1v1h-1zM146 99h14v1h-14zM245 99h14v1h-14zM410 99h14v1h-14zM509 99h14v1h-14zM674 99h14v1h-14zM772 99h15v1h-15zM937 99h14v1h-14zM1036 99h14v1h-14zM1201 99h14v1h-14zM1300 99h14v1h-14zM1522 99h32v1h-32zM1566 99h1v1h-1zM1572 99h1v1h-1zM1578 99h1v1h-1zM1591 99h1v1h-1zM146 100h14v1h-14zM245 100h14v1h-14zM410 100h14v1h-14zM509 100h14v1h-14zM674 100h14v1h-14zM772 100h15v1h-15zM937 100h14v1h-14zM1036 100h14v1h-14zM1201 100h14v1h-14zM1300 100h14v1h-14zM1522 100h31v1h-31zM1567 100h1v1h-1zM1571 100h1v1h-1zM1578 100h1v1h-1zM1591 100h1v1h-1zM146 101h14v1h-14zM245 101h14v1h-14zM410 101h14v1h-14zM509 101h14v1h-14zM674 101h14v1h-14zM772 101h15v1h-15zM937 101h14v1h-14zM1036 101h14v1h-14zM1201 101h14v1h-14zM1300 101h14v1h-14zM1522 101h30v1h-30zM1567 101h1v1h-1zM1571 101h1v1h-1zM1578 101h1v1h-1zM1591 101h1v1h-1zM146 102h14v1h-14zM245 102h14v1h-14zM410 102h14v1h-14zM509 102h14v1h-14zM674 102h14v1h-14zM772 102h15v1h-15zM937 102h14v1h-14zM1036 102h14v1h-14zM1201 102h14v1h-14zM1300 102h14v1h-14zM1522 102h29v1h-29zM1567 102h1v1h-1zM1571 102h1v1h-1zM1579 102h1v1h-1zM1590 102h1v1h-1zM146 103h14v1h-14zM245 103h14v1h-14zM410 103h14v1h-14zM509 103h14v1h-14zM674 103h14v1h-14zM772 103h15v1h-15zM937 103h14v1h-14zM1036 103h14v1h-14zM1201 103h14v1h-14zM1300 103h14v1h-14zM1522 103h28v1h-28zM1568 103h1v1h-1zM1570 103h1v1h-1zM1579 103h1v1h-1zM1590 103h1v1h-1zM146 104h14v1h-14zM245 104h14v1h-14zM410 104h14v1h-14zM509 104h14v1h-14zM674 104h14v1h-14zM772 104h15v1h-15zM937 104h14v1h-14zM1036 104h14v1h-14zM1201 104h14v1h-14zM1300 104h14v1h-14zM1522 104h27v1h-27zM1568 104h1v1h-1zM1570 104h1v1h-1zM1580 104h1v1h-1zM1589 104h1v1h-1zM146 105h14v1h-14zM245 105h14v1h-14zM410 105h14v1h-14zM509 105h14v1h-14zM674 105h14v1h-14zM772 105h15v1h-15zM937 105h14v1h-14zM1036 105h14v1h-14zM1201 105h14v1h-14zM1300 105h14v1h-14zM1522 105h26v1h-26zM1568 105h1v1h-1zM1570 105h1v1h-1zM1581 105h1v1h-1zM1588 105h1v1h-1zM1522 106h24v1h-24zM1569 106h1v1h-1zM1582 106h1v1h-1zM1587 106h1v1h-1zM1522 107h23v1h-23zM1569 107h1v1h-1zM1583 107h4v1h-4zM1522 108h22v1h-22zM1522 109h21v1h-21zM1522 110h20v1h-20zM1522 111h19v1h-19zM1522 112h18v1h-18zM328 158h14v1h-14zM591 158h14v1h-14zM855 158h14v1h-14zM1119 158h14v1h-14zM1382 158h14v1h-14zM328 159h14v1h-14zM591 159h14v1h-14zM855 159h14v1h-14zM1119 159h14v1h-14zM1382 159h14v1h-14zM328 160h14v1h-14zM591 160h14v1h-14zM855 160h14v1h-14zM1119 160h14v1h-14zM1382 160h14v1h-14zM328 161h14v1h-14zM591 161h14v1h-14zM855 161h14v1h-14zM1119 161h14v1h-14zM1382 161h14v1h-14zM328 162h14v1h-14zM591 162h14v1h-14zM855 162h14v1h-14zM1119 162h14v1h-14zM1382 162h14v1h-14zM328 163h14v1h-14zM591 163h14v1h-14zM855 163h14v1h-14zM1119 163h14v1h-14zM1382 163h14v1h-14zM328 164h14v1h-14zM591 164h14v1h-14zM855 164h14v1h-14zM1119 164h14v1h-14zM1382 164h14v1h-14zM328 165h14v1h-14zM591 165h14v1h-14zM855 165h14v1h-14zM1119 165h14v1h-14zM1382 165h14v1h-14zM328 166h14v1h-14zM591 166h14v1h-14zM855 166h14v1h-14zM1119 166h14v1h-14zM1382 166h14v1h-14zM328 167h14v1h-14zM591 167h14v1h-14zM855 167h14v1h-14zM1119 167h14v1h-14zM1382 167h14v1h-14zM328 168h14v1h-14zM591 168h14v1h-14zM855 168h14v1h-14zM1119 168h14v1h-14zM1382 168h14v1h-14zM328 169h14v1h-14zM591 169h14v1h-14zM855 169h14v1h-14zM1119 169h14v1h-14zM1382 169h14v1h-14zM328 170h14v1h-14zM591 170h14v1h-14zM855 170h14v1h-14zM1119 170h14v1h-14zM1382 170h14v1h-14zM328 171h14v1h-14zM591 171h14v1h-14zM855 171h14v1h-14zM1119 171h14v1h-14zM1382 171h14v1h-14zM328 257h14v1h-14zM591 257h14v1h-14zM855 257h14v1h-14zM1119 257h14v1h-14zM1382 257h14v1h-14zM328 258h14v1h-14zM591 258h14v1h-14zM855 258h14v1h-14zM1119 258h14v1h-14zM1382 258h14v1h-14zM328 259h14v1h-14zM591 259h14v1h-14zM855 259h14v1h-14zM1119 259h14v1h-14zM1382 259h14v1h-14zM328 260h14v1h-14zM591 260h14v1h-14zM855 260h14v1h-14zM1119 260h14v1h-14zM1382 260h14v1h-14zM328 261h14v1h-14zM591 261h14v1h-14zM855 261h14v1h-14zM1119 261h14v1h-14zM1382 261h14v1h-14zM328 262h14v1h-14zM591 262h14v1h-14zM855 262h14v1h-14zM1119 262h14v1h-14zM1382 262h14v1h-14zM328 263h14v1h-14zM591 263h14v1h-14zM855 263h14v1h-14zM1119 263h14v1h-14zM1382 263h14v1h-14zM328 264h14v1h-14zM591 264h14v1h-14zM855 264h14v1h-14zM1119 264h14v1h-14zM1382 264h14v1h-14zM328 265h14v1h-14zM591 265h14v1h-14zM855 265h14v1h-14zM1119 265h14v1h-14zM1382 265h14v1h-14zM328 266h14v1h-14zM591 266h14v1h-14zM855 266h14v1h-14zM1119 266h14v1h-14zM1382 266h14v1h-14zM328 267h14v1h-14zM591 267h14v1h-14zM855 267h14v1h-14zM1119 267h14v1h-14zM1382 267h14v1h-14zM328 268h14v1h-14zM591 268h14v1h-14zM855 268h14v1h-14zM1119 268h14v1h-14zM1382 268h14v1h-14zM328 269h14v1h-14zM591 269h14v1h-14zM855 269h14v1h-14zM1119 269h14v1h-14zM1382 269h14v1h-14zM328 270h14v1h-14zM591 270h14v1h-14zM855 270h14v1h-14zM1119 270h14v1h-14zM1382 270h14v1h-14zM64 339h14v1h-14zM328 339h14v1h-14zM591 339h14v1h-14zM855 339h14v1h-14zM1119 339h14v1h-14zM1382 339h14v1h-14zM64 340h14v1h-14zM328 340h14v1h-14zM591 340h14v1h-14zM855 340h14v1h-14zM1119 340h14v1h-14zM1382 340h14v1h-14zM64 341h14v1h-14zM328 341h14v1h-14zM591 341h14v1h-14zM855 341h14v1h-14zM1119 341h14v1h-14zM1382 341h14v1h-14zM64 342h14v1h-14zM328 342h14v1h-14zM591 342h14v1h-14zM855 342h14v1h-14zM1119 342h14v1h-14zM1382 342h14v1h-14zM64 343h14v1h-14zM328 343h14v1h-14zM591 343h14v1h-14zM855 343h14v1h-14zM1119 343h14v1h-14zM1382 343h14v1h-14zM64 344h14v1h-14zM328 344h14v1h-14zM591 344h14v1h-14zM855 344h14v1h-14zM1119 344h14v1h-14zM1382 344h14v1h-14zM64 345h14v1h-14zM328 345h14v1h-14zM591 345h14v1h-14zM855 345h14v1h-14zM1119 345h14v1h-14zM1382 345h14v1h-14zM64 346h14v1h-14zM328 346h14v1h-14zM591 346h14v1h-14zM855 346h14v1h-14zM1119 346h14v1h-14zM1382 346h14v1h-14zM64 347h14v1h-14zM328 347h14v1h-14zM591 347h14v1h-14zM855 347h14v1h-14zM1119 347h14v1h-14zM1382 347h14v1h-14zM64 348h14v1h-14zM328 348h14v1h-14zM591 348h14v1h-14zM855 348h14v1h-14zM1119 348h14v1h-14zM1382 348h14v1h-14zM64 349h14v1h-14zM328 349h14v1h-14zM591 349h14v1h-14zM855 349h14v1h-14zM1119 349h14v1h-14zM1382 349h14v1h-14zM64 350h14v1h-14zM328 350h14v1h-14zM591 350h14v1h-14zM855 350h14v1h-14zM1119 350h14v1h-14zM1382 350h14v1h-14zM64 351h14v1h-14zM328 351h14v1h-14zM591 351h14v1h-14zM855 351h14v1h-14zM1119 351h14v1h-14zM1382 351h14v1h-14zM64 352h14v1h-14zM328 352h14v1h-14zM591 352h14v1h-14zM855 352h14v1h-14zM1119 352h14v1h-14zM1382 352h14v1h-14zM64 438h14v1h-14zM328 438h14v1h-14zM591 438h14v1h-14zM855 438h14v1h-14zM1119 438h14v1h-14zM1382 438h14v1h-14zM64 439h14v1h-14zM328 439h14v1h-14zM591 439h14v1h-14zM855 439h14v1h-14zM1119 439h14v1h-14zM1382 439h14v1h-14zM64 440h14v1h-14zM328 440h14v1h-14zM591 440h14v1h-14zM855 440h14v1h-14zM1119 440h14v1h-14zM1382 440h14v1h-14zM64 441h14v1h-14zM328 441h14v1h-14zM591 441h14v1h-14zM855 441h14v1h-14zM1119 441h14v1h-14zM1382 441h14v1h-14zM64 442h14v1h-14zM328 442h14v1h-14zM591 442h14v1h-14zM855 442h14v1h-14zM1119 442h14v1h-14zM1382 442h14v1h-14zM64 443h14v1h-14zM328 443h14v1h-14zM591 443h14v1h-14zM855 443h14v1h-14zM1119 443h14v1h-14zM1382 443h14v1h-14zM64 444h14v1h-14zM328 444h14v1h-14zM591 444h14v1h-14zM855 444h14v1h-14zM1119 444h14v1h-14zM1382 444h14v1h-14zM64 445h14v1h-14zM328 445h14v1h-14zM591 445h14v1h-14zM855 445h14v1h-14zM1119 445h14v1h-14zM1382 445h14v1h-14zM64 446h14v1h-14zM328 446h14v1h-14zM591 446h14v1h-14zM855 446h14v1h-14zM1119 446h14v1h-14zM1382 446h14v1h-14zM64 447h14v1h-14zM328 447h14v1h-14zM591 447h14v1h-14zM855 447h14v1h-14zM1119 447h14v1h-14zM1382 447h14v1h-14zM64 448h14v1h-14zM328 448h14v1h-14zM591 448h14v1h-14zM855 448h14v1h-14zM1119 448h14v1h-14zM1382 448h14v1h-14zM64 449h14v1h-14zM328 449h14v1h-14zM591 449h14v1h-14zM855 449h14v1h-14zM1119 449h14v1h-14zM1382 449h14v1h-14zM64 450h14v1h-14zM328 450h14v1h-14zM591 450h14v1h-14zM855 450h14v1h-14zM1119 450h14v1h-14zM1382 450h14v1h-14zM64 451h14v1h-14zM328 451h14v1h-14zM591 451h14v1h-14zM855 451h14v1h-14zM1119 451h14v1h-14zM1382 451h14v1h-14zM64 520h14v1h-14zM328 520h14v1h-14zM591 520h14v1h-14zM855 520h14v1h-14zM1119 520h14v1h-14zM1382 520h14v1h-14zM64 521h14v1h-14zM328 521h14v1h-14zM591 521h14v1h-14zM855 521h14v1h-14zM1119 521h14v1h-14zM1382 521h14v1h-14zM64 522h14v1h-14zM328 522h14v1h-14zM591 522h14v1h-14zM855 522h14v1h-14zM1119 522h14v1h-14zM1382 522h14v1h-14zM64 523h14v1h-14zM328 523h14v1h-14zM591 523h14v1h-14zM855 523h14v1h-14zM1119 523h14v1h-14zM1382 523h14v1h-14zM64 524h14v1h-14zM328 524h14v1h-14zM591 524h14v1h-14zM855 524h14v1h-14zM1119 524h14v1h-14zM1382 524h14v1h-14zM64 525h14v1h-14zM328 525h14v1h-14zM591 525h14v1h-14zM855 525h14v1h-14zM1119 525h14v1h-14zM1382 525h14v1h-14zM64 526h14v1h-14zM328 526h14v1h-14zM591 526h14v1h-14zM855 526h14v1h-14zM1119 526h14v1h-14zM1382 526h14v1h-14zM64 527h14v1h-14zM328 527h14v1h-14zM591 527h14v1h-14zM855 527h14v1h-14zM1119 527h14v1h-14zM1382 527h14v1h-14zM64 528h14v1h-14zM328 528h14v1h-14zM591 528h14v1h-14zM855 528h14v1h-14zM1119 528h14v1h-14zM1382 528h14v1h-14zM64 529h14v1h-14zM328 529h14v1h-14zM591 529h14v1h-14zM855 529h14v1h-14zM1119 529h14v1h-14zM1382 529h14v1h-14zM64 530h14v1h-14zM328 530h14v1h-14zM591 530h14v1h-14zM855 530h14v1h-14zM1119 530h14v1h-14zM1382 530h14v1h-14zM64 531h14v1h-14zM328 531h14v1h-14zM591 531h14v1h-14zM855 531h14v1h-14zM1119 531h14v1h-14zM1382 531h14v1h-14zM64 532h14v1h-14zM328 532h14v1h-14zM591 532h14v1h-14zM855 532h14v1h-14zM1119 532h14v1h-14zM1382 532h14v1h-14zM64 533h14v1h-14zM328 533h14v1h-14zM591 533h14v1h-14zM855 533h14v1h-14zM1119 533h14v1h-14zM1382 533h14v1h-14zM64 534h14v1h-14zM328 534h14v1h-14zM591 534h14v1h-14zM855 534h14v1h-14zM1119 534h14v1h-14zM1382 534h14v1h-14zM64 619h14v1h-14zM328 619h14v1h-14zM591 619h14v1h-14zM855 619h14v1h-14zM1119 619h14v1h-14zM1382 619h14v1h-14zM64 620h14v1h-14zM328 620h14v1h-14zM591 620h14v1h-14zM855 620h14v1h-14zM1119 620h14v1h-14zM1382 620h14v1h-14zM64 621h14v1h-14zM328 621h14v1h-14zM591 621h14v1h-14zM855 621h14v1h-14zM1119 621h14v1h-14zM1382 621h14v1h-14zM64 622h14v1h-14zM328 622h14v1h-14zM591 622h14v1h-14zM855 622h14v1h-14zM1119 622h14v1h-14zM1382 622h14v1h-14zM64 623h14v1h-14zM328 623h14v1h-14zM591 623h14v1h-14zM855 623h14v1h-14zM1119 623h14v1h-14zM1382 623h14v1h-14zM64 624h14v1h-14zM328 624h14v1h-14zM591 624h14v1h-14zM855 624h14v1h-14zM1119 624h14v1h-14zM1382 624h14v1h-14zM64 625h14v1h-14zM328 625h14v1h-14zM591 625h14v1h-14zM855 625h14v1h-14zM1119 625h14v1h-14zM1382 625h14v1h-14zM64 626h14v1h-14zM328 626h14v1h-14zM591 626h14v1h-14zM855 626h14v1h-14zM1119 626h14v1h-14zM1382 626h14v1h-14zM64 627h14v1h-14zM328 627h14v1h-14zM591 627h14v1h-14zM855 627h14v1h-14zM1119 627h14v1h-14zM1382 627h14v1h-14zM64 628h14v1h-14zM328 628h14v1h-14zM591 628h14v1h-14zM855 628h14v1h-14zM1119 628h14v1h-14zM1382 628h14v1h-14zM64 629h14v1h-14zM328 629h14v1h-14zM591 629h14v1h-14zM855 629h14v1h-14zM1119 629h14v1h-14zM1382 629h14v1h-14zM64 630h14v1h-14zM328 630h14v1h-14zM591 630h14v1h-14zM855 630h14v1h-14zM1119 630h14v1h-14zM1382 630h14v1h-14zM64 631h14v1h-14zM328 631h14v1h-14zM591 631h14v1h-14zM855 631h14v1h-14zM1119 631h14v1h-14zM1382 631h14v1h-14zM64 632h14v1h-14zM328 632h14v1h-14zM591 632h14v1h-14zM855 632h14v1h-14zM1119 632h14v1h-14zM1382 632h14v1h-14zM116 647h1v1h-1zM380 647h1v1h-1zM643 647h1v1h-1zM907 647h1v1h-1zM1171 647h1v1h-1zM1434 647h1v1h-1zM116 648h1v1h-1zM380 648h1v1h-1zM643 648h1v1h-1zM907 648h1v1h-1zM1171 648h1v1h-1zM1434 648h1v1h-1zM116 649h1v1h-1zM380 649h1v1h-1zM643 649h1v1h-1zM907 649h1v1h-1zM1171 649h1v1h-1zM1434 649h1v1h-1zM116 650h1v1h-1zM380 650h1v1h-1zM643 650h1v1h-1zM907 650h1v1h-1zM1171 650h1v1h-1zM1434 650h1v1h-1zM91 651h3v1h-3zM95 651h1v1h-1zM100 651h1v1h-1zM103 651h3v1h-3zM112 651h3v1h-3zM116 651h1v1h-1zM355 651h3v1h-3zM359 651h1v1h-1zM363 651h1v1h-1zM366 651h3v1h-3zM376 651h3v1h-3zM380 651h1v1h-1zM619 651h3v1h-3zM623 651h1v1h-1zM627 651h1v1h-1zM630 651h3v1h-3zM639 651h3v1h-3zM643 651h1v1h-1zM882 651h3v1h-3zM886 651h1v1h-1zM891 651h1v1h-1zM894 651h3v1h-3zM903 651h3v1h-3zM907 651h1v1h-1zM1146 651h3v1h-3zM1150 651h1v1h-1zM1154 651h1v1h-1zM1157 651h3v1h-3zM1167 651h3v1h-3zM1171 651h1v1h-1zM1410 651h3v1h-3zM1414 651h1v1h-1zM1418 651h1v1h-1zM1421 651h3v1h-3zM1430 651h3v1h-3zM1434 651h1v1h-1zM90 652h1v1h-1zM94 652h2v1h-2zM100 652h3v1h-3zM106 652h1v1h-1zM111 652h1v1h-1zM115 652h2v1h-2zM354 652h1v1h-1zM358 652h2v1h-2zM363 652h3v1h-3zM369 652h1v1h-1zM375 652h1v1h-1zM379 652h2v1h-2zM618 652h1v1h-1zM622 652h2v1h-2zM627 652h3v1h-3zM633 652h1v1h-1zM638 652h1v1h-1zM642 652h2v1h-2zM881 652h1v1h-1zM885 652h2v1h-2zM891 652h3v1h-3zM897 652h1v1h-1zM902 652h1v1h-1zM906 652h2v1h-2zM1145 652h1v1h-1zM1149 652h2v1h-2zM1154 652h3v1h-3zM1160 652h1v1h-1zM1166 652h1v1h-1zM1170 652h2v1h-2zM1409 652h1v1h-1zM1413 652h2v1h-2zM1418 652h3v1h-3zM1424 652h1v1h-1zM1429 652h1v1h-1zM1433 652h2v1h-2zM89 653h1v1h-1zM95 653h1v1h-1zM100 653h1v1h-1zM106 653h1v1h-1zM110 653h1v1h-1zM116 653h1v1h-1zM353 653h1v1h-1zM359 653h1v1h-1zM363 653h1v1h-1zM369 653h1v1h-1zM374 653h1v1h-1zM380 653h1v1h-1zM617 653h1v1h-1zM623 653h1v1h-1zM627 653h1v1h-1zM633 653h1v1h-1zM637 653h1v1h-1zM643 653h1v1h-1zM880 653h1v1h-1zM886 653h1v1h-1zM891 653h1v1h-1zM897 653h1v1h-1zM901 653h1v1h-1zM907 653h1v1h-1zM1144 653h1v1h-1zM1150 653h1v1h-1zM1154 653h1v1h-1zM1160 653h1v1h-1zM1165 653h1v1h-1zM1171 653h1v1h-1zM1408 653h1v1h-1zM1414 653h1v1h-1zM1418 653h1v1h-1zM1424 653h1v1h-1zM1428 653h1v1h-1zM1434 653h1v1h-1zM89 654h1v1h-1zM95 654h1v1h-1zM100 654h1v1h-1zM106 654h1v1h-1zM109 654h1v1h-1zM116 654h1v1h-1zM352 654h1v1h-1zM359 654h1v1h-1zM363 654h1v1h-1zM369 654h1v1h-1zM373 654h1v1h-1zM380 654h1v1h-1zM616 654h1v1h-1zM623 654h1v1h-1zM627 654h1v1h-1zM633 654h1v1h-1zM637 654h1v1h-1zM643 654h1v1h-1zM880 654h1v1h-1zM886 654h1v1h-1zM891 654h1v1h-1zM897 654h1v1h-1zM900 654h1v1h-1zM907 654h1v1h-1zM1143 654h1v1h-1zM1150 654h1v1h-1zM1154 654h1v1h-1zM1160 654h1v1h-1zM1164 654h1v1h-1zM1171 654h1v1h-1zM1407 654h1v1h-1zM1414 654h1v1h-1zM1418 654h1v1h-1zM1424 654h1v1h-1zM1428 654h1v1h-1zM1434 654h1v1h-1zM89 655h1v1h-1zM95 655h1v1h-1zM100 655h1v1h-1zM106 655h1v1h-1zM109 655h1v1h-1zM116 655h1v1h-1zM352 655h1v1h-1zM359 655h1v1h-1zM363 655h1v1h-1zM369 655h1v1h-1zM373 655h1v1h-1zM380 655h1v1h-1zM616 655h1v1h-1zM623 655h1v1h-1zM627 655h1v1h-1zM633 655h1v1h-1zM637 655h1v1h-1zM643 655h1v1h-1zM880 655h1v1h-1zM886 655h1v1h-1zM891 655h1v1h-1zM897 655h1v1h-1zM900 655h1v1h-1zM907 655h1v1h-1zM1143 655h1v1h-1zM1150 655h1v1h-1zM1154 655h1v1h-1zM1160 655h1v1h-1zM1164 655h1v1h-1zM1171 655h1v1h-1zM1407 655h1v1h-1zM1414 655h1v1h-1zM1418 655h1v1h-1zM1424 655h1v1h-1zM1428 655h1v1h-1zM1434 655h1v1h-1zM89 656h1v1h-1zM95 656h1v1h-1zM100 656h1v1h-1zM106 656h1v1h-1zM109 656h1v1h-1zM116 656h1v1h-1zM352 656h1v1h-1zM359 656h1v1h-1zM363 656h1v1h-1zM369 656h1v1h-1zM373 656h1v1h-1zM380 656h1v1h-1zM616 656h1v1h-1zM623 656h1v1h-1zM627 656h1v1h-1zM633 656h1v1h-1zM637 656h1v1h-1zM643 656h1v1h-1zM880 656h1v1h-1zM886 656h1v1h-1zM891 656h1v1h-1zM897 656h1v1h-1zM900 656h1v1h-1zM907 656h1v1h-1zM1143 656h1v1h-1zM1150 656h1v1h-1zM1154 656h1v1h-1zM1160 656h1v1h-1zM1164 656h1v1h-1zM1171 656h1v1h-1zM1407 656h1v1h-1zM1414 656h1v1h-1zM1418 656h1v1h-1zM1424 656h1v1h-1zM1428 656h1v1h-1zM1434 656h1v1h-1zM89 657h1v1h-1zM95 657h1v1h-1zM100 657h1v1h-1zM106 657h1v1h-1zM110 657h1v1h-1zM116 657h1v1h-1zM353 657h1v1h-1zM359 657h1v1h-1zM363 657h1v1h-1zM369 657h1v1h-1zM374 657h1v1h-1zM380 657h1v1h-1zM617 657h1v1h-1zM623 657h1v1h-1zM627 657h1v1h-1zM633 657h1v1h-1zM637 657h1v1h-1zM643 657h1v1h-1zM880 657h1v1h-1zM886 657h1v1h-1zM891 657h1v1h-1zM897 657h1v1h-1zM901 657h1v1h-1zM907 657h1v1h-1zM1144 657h1v1h-1zM1150 657h1v1h-1zM1154 657h1v1h-1zM1160 657h1v1h-1zM1165 657h1v1h-1zM1171 657h1v1h-1zM1408 657h1v1h-1zM1414 657h1v1h-1zM1418 657h1v1h-1zM1424 657h1v1h-1zM1428 657h1v1h-1zM1434 657h1v1h-1zM90 658h1v1h-1zM94 658h2v1h-2zM100 658h1v1h-1zM106 658h1v1h-1zM111 658h1v1h-1zM115 658h2v1h-2zM354 658h1v1h-1zM358 658h2v1h-2zM363 658h1v1h-1zM369 658h1v1h-1zM375 658h1v1h-1zM379 658h2v1h-2zM618 658h1v1h-1zM622 658h2v1h-2zM627 658h1v1h-1zM633 658h1v1h-1zM638 658h1v1h-1zM642 658h2v1h-2zM881 658h1v1h-1zM885 658h2v1h-2zM891 658h1v1h-1zM897 658h1v1h-1zM902 658h1v1h-1zM906 658h2v1h-2zM1145 658h1v1h-1zM1149 658h2v1h-2zM1154 658h1v1h-1zM1160 658h1v1h-1zM1166 658h1v1h-1zM1170 658h2v1h-2zM1409 658h1v1h-1zM1413 658h2v1h-2zM1418 658h1v1h-1zM1424 658h1v1h-1zM1429 658h1v1h-1zM1433 658h2v1h-2zM91 659h3v1h-3zM95 659h1v1h-1zM100 659h1v1h-1zM106 659h1v1h-1zM112 659h3v1h-3zM116 659h1v1h-1zM355 659h3v1h-3zM359 659h1v1h-1zM363 659h1v1h-1zM369 659h1v1h-1zM376 659h3v1h-3zM380 659h1v1h-1zM619 659h3v1h-3zM623 659h1v1h-1zM627 659h1v1h-1zM633 659h1v1h-1zM639 659h3v1h-3zM643 659h1v1h-1zM882 659h3v1h-3zM886 659h1v1h-1zM891 659h1v1h-1zM897 659h1v1h-1zM903 659h3v1h-3zM907 659h1v1h-1zM1146 659h3v1h-3zM1150 659h1v1h-1zM1154 659h1v1h-1zM1160 659h1v1h-1zM1167 659h3v1h-3zM1171 659h1v1h-1zM1410 659h3v1h-3zM1414 659h1v1h-1zM1418 659h1v1h-1zM1424 659h1v1h-1zM1430 659h3v1h-3zM1434 659h1v1h-1zM95 660h1v1h-1zM359 660h1v1h-1zM623 660h1v1h-1zM886 660h1v1h-1zM1150 660h1v1h-1zM1414 660h1v1h-1zM94 661h1v1h-1zM358 661h1v1h-1zM622 661h1v1h-1zM885 661h1v1h-1zM1149 661h1v1h-1zM1413 661h1v1h-1zM90 662h1v1h-1zM94 662h1v1h-1zM354 662h1v1h-1zM358 662h1v1h-1zM618 662h1v1h-1zM622 662h1v1h-1zM881 662h1v1h-1zM885 662h1v1h-1zM1145 662h1v1h-1zM1149 662h1v1h-1zM1409 662h1v1h-1zM1413 662h1v1h-1zM91 663h3v1h-3zM355 663h3v1h-3zM619 663h3v1h-3zM882 663h3v1h-3zM1146 663h3v1h-3zM1410 663h3v1h-3z"/>
<path fill="#00cc66" d="M178 82h1v1h-1zM197 82h1v1h-1zM217 82h1v1h-1zM441 82h1v1h-1zM461 82h1v1h-1zM481 82h1v1h-1zM705 82h1v1h-1zM725 82h1v1h-1zM744 82h1v1h-1zM969 82h1v1h-1zM988 82h1v1h-1zM1008 82h1v1h-1zM1232 82h1v1h-1zM1252 82h1v1h-1zM1272 82h1v1h-1zM178 83h1v1h-1zM197 83h1v1h-1zM217 83h1v1h-1zM441 83h1v1h-1zM461 83h1v1h-1zM481 83h1v1h-1zM705 83h1v1h-1zM725 83h1v1h-1zM744 83h1v1h-1zM969 83h1v1h-1zM988 83h1v1h-1zM1008 83h1v1h-1zM1232 83h1v1h-1zM1252 83h1v1h-1zM1272 83h1v1h-1zM177 84h1v1h-1zM179 84h1v1h-1zM196 84h1v1h-1zM198 84h1v1h-1zM216 84h1v1h-1zM218 84h1v1h-1zM440 84h1v1h-1zM442 84h1v1h-1zM460 84h1v1h-1zM462 84h1v1h-1zM480 84h1v1h-1zM482 84h1v1h-1zM704 84h1v1h-1zM706 84h1v1h-1zM724 84h1v1h-1zM726 84h1v1h-1zM743 84h1v1h-1zM745 84h1v1h-1zM968 84h1v1h-1zM970 84h1v1h-1zM987 84h1v1h-1zM989 84h1v1h-1zM1007 84h1v1h-1zM1009 84h1v1h-1zM1231 84h1v1h-1zM1233 84h1v1h-1zM1251 84h1v1h-1zM1253 84h1v1h-1zM1271 84h1v1h-1zM1273 84h1v1h-1zM1521 84h19v1h-19zM177 85h1v1h-1zM179 85h1v1h-1zM196 85h1v1h-1zM198 85h1v1h-1zM216 85h1v1h-1zM218 85h1v1h-1zM440 85h1v1h-1zM442 85h1v1h-1zM460 85h1v1h-1zM462 85h1v1h-1zM480 85h1v1h-1zM482 85h1v1h-1zM704 85h1v1h-1zM706 85h1v1h-1zM724 85h1v1h-1zM726 85h1v1h-1zM743 85h1v1h-1zM745 85h1v1h-1zM968 85h1v1h-1zM970 85h1v1h-1zM987 85h1v1h-1zM989 85h1v1h-1zM1007 85h1v1h-1zM1009 85h1v1h-1zM1231 85h1v1h-1zM1233 85h1v1h-1zM1251 85h1v1h-1zM1253 85h1v1h-1zM1271 85h1v1h-1zM1273 85h1v1h-1zM1521 85h1v1h-1zM1540 85h1v1h-1zM177 86h1v1h-1zM179 86h1v1h-1zM196 86h1v1h-1zM198 86h1v1h-1zM216 86h1v1h-1zM218 86h1v1h-1zM440 86h1v1h-1zM442 86h1v1h-1zM460 86h1v1h-1zM462 86h1v1h-1zM480 86h1v1h-1zM482 86h1v1h-1zM704 86h1v1h-1zM706 86h1v1h-1zM724 86h1v1h-1zM726 86h1v1h-1zM743 86h1v1h-1zM745 86h1v1h-1zM968 86h1v1h-1zM970 86h1v1h-1zM987 86h1v1h-1zM989 86h1v1h-1zM1007 86h1v1h-1zM1009 86h1v1h-1zM1231 86h1v1h-1zM1233 86h1v1h-1zM1251 86h1v1h-1zM1253 86h1v1h-1zM1271 86h1v1h-1zM1273 86h1v1h-1zM1521 86h1v1h-1zM1541 86h1v1h-1zM177 87h1v1h-1zM179 87h1v1h-1zM195 87h1v1h-1zM199 87h1v1h-1zM215 87h1v1h-1zM219 87h1v1h-1zM440 87h1v1h-1zM443 87h1v1h-1zM459 87h1v1h-1zM463 87h1v1h-1zM479 87h1v1h-1zM483 87h1v1h-1zM704 87h1v1h-1zM707 87h1v1h-1zM723 87h1v1h-1zM727 87h1v1h-1zM743 87h1v1h-1zM746 87h1v1h-1zM968 87h1v1h-1zM970 87h1v1h-1zM986 87h1v1h-1zM990 87h1v1h-1zM1006 87h1v1h-1zM1010 87h1v1h-1zM1231 87h1v1h-1zM1234 87h1v1h-1zM1250 87h1v1h-1zM1254 87h1v1h-1zM1270 87h1v1h-1zM1274 87h1v1h-1zM1521 87h1v1h-1zM1542 87h1v1h-1zM176 88h1v1h-1zM180 88h1v1h-1zM195 88h1v1h-1zM199 88h1v1h-1zM215 88h1v1h-1zM219 88h1v1h-1zM439 88h1v1h-1zM443 88h1v1h-1zM459 88h1v1h-1zM463 88h1v1h-1zM479 88h1v1h-1zM483 88h1v1h-1zM703 88h1v1h-1zM707 88h1v1h-1zM723 88h1v1h-1zM727 88h1v1h-1zM742 88h1v1h-1zM746 88h1v1h-1zM967 88h1v1h-1zM971 88h1v1h-1zM986 88h1v1h-1zM990 88h1v1h-1zM1006 88h1v1h-1zM1010 88h1v1h-1zM1230 88h1v1h-1zM1234 88h1v1h-1zM1250 88h1v1h-1zM1254 88h1v1h-1zM1270 88h1v1h-1zM1274 88h1v1h-1zM1521 88h1v1h-1zM1543 88h1v1h-1zM176 89h1v1h-1zM180 89h1v1h-1zM195 89h1v1h-1zM199 89h1v1h-1zM215 89h1v1h-1zM219 89h1v1h-1zM439 89h1v1h-1zM443 89h1v1h-1zM459 89h1v1h-1zM463 89h1v1h-1zM479 89h1v1h-1zM483 89h1v1h-1zM703 89h1v1h-1zM707 89h1v1h-1zM723 89h1v1h-1zM727 89h1v1h-1zM742 89h1v1h-1zM746 89h1v1h-1zM967 89h1v1h-1zM971 89h1v1h-1zM986 89h1v1h-1zM990 89h1v1h-1zM1006 89h1v1h-1zM1010 89h1v1h-1zM1230 89h1v1h-1zM1234 89h1v1h-1zM1250 89h1v1h-1zM1254 89h1v1h-1zM1270 89h1v1h-1zM1274 89h1v1h-1zM1521 89h1v1h-1zM1544 89h1v1h-1zM176 90h1v1h-1zM180 90h1v1h-1zM195 90h1v1h-1zM199 90h1v1h-1zM215 90h1v1h-1zM219 90h1v1h-1zM439 90h1v1h-1zM443 90h1v1h-1zM459 90h1v1h-1zM463 90h1v1h-1zM479 90h1v1h-1zM483 90h1v1h-1zM703 90h1v1h-1zM707 90h1v1h-1zM723 90h1v1h-1zM727 90h1v1h-1zM742 90h1v1h-1zM746 90h1v1h-1zM967 90h1v1h-1zM971 90h1v1h-1zM986 90h1v1h-1zM990 90h1v1h-1zM1006 90h1v1h-1zM1010 90h1v1h-1zM1230 90h1v1h-1zM1234 90h1v1h-1zM1250 90h1v1h-1zM1254 90h1v1h-1zM1270 90h1v1h-1zM1274 90h1v1h-1zM1521 90h1v1h-1zM1545 90h1v1h-1zM175 91h1v1h-1zM180 91h1v1h-1zM194 91h1v1h-1zM200 91h1v1h-1zM214 91h1v1h-1zM220 91h1v1h-1zM438 91h1v1h-1zM444 91h1v1h-1zM458 91h1v1h-1zM464 91h1v1h-1zM478 91h1v1h-1zM484 91h1v1h-1zM702 91h1v1h-1zM708 91h1v1h-1zM722 91h1v1h-1zM728 91h1v1h-1zM742 91h1v1h-1zM747 91h1v1h-1zM966 91h1v1h-1zM971 91h1v1h-1zM985 91h1v1h-1zM991 91h1v1h-1zM1005 91h1v1h-1zM1011 91h1v1h-1zM1229 91h1v1h-1zM1235 91h1v1h-1zM1249 91h1v1h-1zM1255 91h1v1h-1zM1269 91h1v1h-1zM1275 91h1v1h-1zM1521 91h1v1h-1zM1546 91h1v1h-1zM175 92h1v1h-1zM181 92h1v1h-1zM194 92h1v1h-1zM200 92h1v1h-1zM214 92h1v1h-1zM220 92h1v1h-1zM438 92h1v1h-1zM444 92h1v1h-1zM458 92h1v1h-1zM464 92h1v1h-1zM478 92h1v1h-1zM484 92h1v1h-1zM702 92h1v1h-1zM708 92h1v1h-1zM722 92h1v1h-1zM728 92h1v1h-1zM741 92h1v1h-1zM747 92h1v1h-1zM966 92h1v1h-1zM972 92h1v1h-1zM985 92h1v1h-1zM991 92h1v1h-1zM1005 92h1v1h-1zM1011 92h1v1h-1zM1229 92h1v1h-1zM1235 92h1v1h-1zM1249 92h1v1h-1zM1255 92h1v1h-1zM1269 92h1v1h-1zM1275 92h1v1h-1zM1521 92h1v1h-1zM1547 92h1v1h-1zM175 93h1v1h-1zM181 93h1v1h-1zM194 93h1v1h-1zM200 93h1v1h-1zM214 93h1v1h-1zM220 93h1v1h-1zM438 93h1v1h-1zM444 93h1v1h-1zM458 93h1v1h-1zM464 93h1v1h-1zM478 93h1v1h-1zM484 93h1v1h-1zM702 93h1v1h-1zM708 93h1v1h-1zM722 93h1v1h-1zM728 93h1v1h-1zM741 93h1v1h-1zM747 93h1v1h-1zM966 93h1v1h-1zM972 93h1v1h-1zM985 93h1v1h-1zM991 93h1v1h-1zM1005 93h1v1h-1zM1011 93h1v1h-1zM1229 93h1v1h-1zM1235 93h1v1h-1zM1249 93h1v1h-1zM1255 93h1v1h-1zM1269 93h1v1h-1zM1275 93h1v1h-1zM1521 93h1v1h-1zM1548 93h1v1h-1zM174 94h1v1h-1zM181 94h1v1h-1zM193 94h1v1h-1zM201 94h1v1h-1zM213 94h1v1h-1zM221 94h1v1h-1zM437 94h1v1h-1zM445 94h1v1h-1zM457 94h1v1h-1zM465 94h1v1h-1zM477 94h1v1h-1zM485 94h1v1h-1zM701 94h1v1h-1zM709 94h1v1h-1zM721 94h1v1h-1zM729 94h1v1h-1zM741 94h1v1h-1zM748 94h1v1h-1zM965 94h1v1h-1zM972 94h1v1h-1zM984 94h1v1h-1zM992 94h1v1h-1zM1004 94h1v1h-1zM1012 94h1v1h-1zM1228 94h1v1h-1zM1236 94h1v1h-1zM1248 94h1v1h-1zM1256 94h1v1h-1zM1268 94h1v1h-1zM1276 94h1v1h-1zM1521 94h1v1h-1zM1549 94h1v1h-1zM174 95h1v1h-1zM182 95h1v1h-1zM193 95h1v1h-1zM201 95h1v1h-1zM213 95h1v1h-1zM221 95h1v1h-1zM437 95h1v1h-1zM445 95h1v1h-1zM457 95h1v1h-1zM465 95h1v1h-1zM477 95h1v1h-1zM485 95h1v1h-1zM701 95h1v1h-1zM709 95h1v1h-1zM721 95h1v1h-1zM729 95h1v1h-1zM740 95h1v1h-1zM748 95h1v1h-1zM965 95h1v1h-1zM973 95h1v1h-1zM984 95h1v1h-1zM992 95h1v1h-1zM1004 95h1v1h-1zM1012 95h1v1h-1zM1228 95h1v1h-1zM1236 95h1v1h-1zM1248 95h1v1h-1zM1256 95h1v1h-1zM1268 95h1v1h-1zM1276 95h1v1h-1zM1521 95h1v1h-1zM1550 95h1v1h-1zM174 96h1v1h-1zM182 96h1v1h-1zM193 96h1v1h-1zM201 96h1v1h-1zM213 96h1v1h-1zM221 96h1v1h-1zM437 96h1v1h-1zM445 96h1v1h-1zM457 96h1v1h-1zM465 96h1v1h-1zM477 96h1v1h-1zM485 96h1v1h-1zM701 96h1v1h-1zM709 96h1v1h-1zM721 96h1v1h-1zM729 96h1v1h-1zM740 96h1v1h-1zM748 96h1v1h-1zM965 96h1v1h-1zM973 96h1v1h-1zM984 96h1v1h-1zM992 96h1v1h-1zM1004 96h1v1h-1zM1012 96h1v1h-1zM1228 96h1v1h-1zM1236 96h1v1h-1zM1248 96h1v1h-1zM1256 96h1v1h-1zM1268 96h1v1h-1zM1276 96h1v1h-1zM1521 96h1v1h-1zM1551 96h1v1h-1zM174 97h1v1h-1zM182 97h1v1h-1zM192 97h1v1h-1zM202 97h1v1h-1zM212 97h1v1h-1zM222 97h1v1h-1zM437 97h1v1h-1zM446 97h1v1h-1zM456 97h1v1h-1zM466 97h1v1h-1zM476 97h1v1h-1zM486 97h1v1h-1zM701 97h1v1h-1zM710 97h1v1h-1zM720 97h1v1h-1zM730 97h1v1h-1zM740 97h1v1h-1zM749 97h1v1h-1zM965 97h1v1h-1zM973 97h1v1h-1zM983 97h1v1h-1zM993 97h1v1h-1zM1003 97h1v1h-1zM1013 97h1v1h-1zM1228 97h1v1h-1zM1237 97h1v1h-1zM1247 97h1v1h-1zM1257 97h1v1h-1zM1267 97h1v1h-1zM1277 97h1v1h-1zM1521 97h1v1h-1zM1552 97h1v1h-1zM173 98h1v1h-1zM182 98h1v1h-1zM192 98h1v1h-1zM202 98h1v1h-1zM212 98h1v1h-1zM222 98h1v1h-1zM436 98h1v1h-1zM446 98h1v1h-1zM456 98h1v1h-1zM466 98h1v1h-1zM476 98h1v1h-1zM486 98h1v1h-1zM700 98h1v1h-1zM710 98h1v1h-1zM720 98h1v1h-1zM730 98h1v1h-1zM740 98h1v1h-1zM749 98h1v1h-1zM964 98h1v1h-1zM973 98h1v1h-1zM983 98h1v1h-1zM993 98h1v1h-1zM1003 98h1v1h-1zM1013 98h1v1h-1zM1227 98h1v1h-1zM1237 98h1v1h-1zM1247 98h1v1h-1zM1257 98h1v1h-1zM1267 98h1v1h-1zM1277 98h1v1h-1zM1521 98h1v1h-1zM1553 98h1v1h-1zM160 99h14v1h-14zM183 99h1v1h-1zM192 99h1v1h-1zM202 99h1v1h-1zM212 99h1v1h-1zM222 99h1v1h-1zM232 99h13v1h-13zM424 99h13v1h-13zM446 99h1v1h-1zM456 99h1v1h-1zM466 99h1v1h-1zM476 99h1v1h-1zM486 99h1v1h-1zM496 99h13v1h-13zM688 99h13v1h-13zM710 99h1v1h-1zM720 99h1v1h-1zM730 99h1v1h-1zM739 99h1v1h-1zM749 99h1v1h-1zM759 99h13v1h-13zM951 99h14v1h-14zM974 99h1v1h-1zM983 99h1v1h-1zM993 99h1v1h-1zM1003 99h1v1h-1zM1013 99h1v1h-1zM1023 99h13v1h-13zM1215 99h13v1h-13zM1237 99h1v1h-1zM1247 99h1v1h-1zM1257 99h1v1h-1zM1267 99h1v1h-1zM1277 99h1v1h-1zM1287 99h13v1h-13zM1521 99h1v1h-1zM1554 99h1v1h-1zM183 100h1v1h-1zM192 100h1v1h-1zM202 100h1v1h-1zM212 100h1v1h-1zM222 100h1v1h-1zM232 100h1v1h-1zM446 100h1v1h-1zM456 100h1v1h-1zM466 100h1v1h-1zM476 100h1v1h-1zM486 100h1v1h-1zM496 100h1v1h-1zM710 100h1v1h-1zM720 100h1v1h-1zM730 100h1v1h-1zM739 100h1v1h-1zM749 100h1v1h-1zM759 100h1v1h-1zM974 100h1v1h-1zM983 100h1v1h-1zM993 100h1v1h-1zM1003 100h1v1h-1zM1013 100h1v1h-1zM1023 100h1v1h-1zM1237 100h1v1h-1zM1247 100h1v1h-1zM1257 100h1v1h-1zM1267 100h1v1h-1zM1277 100h1v1h-1zM1287 100h1v1h-1zM1521 100h1v1h-1zM1553 100h1v1h-1zM183 101h1v1h-1zM191 101h1v1h-1zM203 101h1v1h-1zM211 101h1v1h-1zM223 101h1v1h-1zM231 101h1v1h-1zM447 101h1v1h-1zM455 101h1v1h-1zM467 101h1v1h-1zM475 101h1v1h-1zM487 101h1v1h-1zM495 101h1v1h-1zM711 101h1v1h-1zM719 101h1v1h-1zM731 101h1v1h-1zM739 101h1v1h-1zM750 101h1v1h-1zM758 101h1v1h-1zM974 101h1v1h-1zM982 101h1v1h-1zM994 101h1v1h-1zM1002 101h1v1h-1zM1014 101h1v1h-1zM1022 101h1v1h-1zM1238 101h1v1h-1zM1246 101h1v1h-1zM1258 101h1v1h-1zM1266 101h1v1h-1zM1278 101h1v1h-1zM1286 101h1v1h-1zM1521 101h1v1h-1zM1552 101h1v1h-1zM183 102h1v1h-1zM191 102h1v1h-1zM203 102h1v1h-1zM211 102h1v1h-1zM223 102h1v1h-1zM231 102h1v1h-1zM447 102h1v1h-1zM455 102h1v1h-1zM467 102h1v1h-1zM475 102h1v1h-1zM487 102h1v1h-1zM495 102h1v1h-1zM711 102h1v1h-1zM719 102h1v1h-1zM731 102h1v1h-1zM739 102h1v1h-1zM750 102h1v1h-1zM758 102h1v1h-1zM974 102h1v1h-1zM982 102h1v1h-1zM994 102h1v1h-1zM1002 102h1v1h-1zM1014 102h1v1h-1zM1022 102h1v1h-1zM1238 102h1v1h-1zM1246 102h1v1h-1zM1258 102h1v1h-1zM1266 102h1v1h-1zM1278 102h1v1h-1zM1286 102h1v1h-1zM1521 102h1v1h-1zM1551 102h1v1h-1zM184 103h1v1h-1zM191 103h1v1h-1zM203 103h1v1h-1zM211 103h1v1h-1zM223 103h1v1h-1zM231 103h1v1h-1zM447 103h1v1h-1zM455 103h1v1h-1zM467 103h1v1h-1zM475 103h1v1h-1zM487 103h1v1h-1zM495 103h1v1h-1zM711 103h1v1h-1zM719 103h1v1h-1zM731 103h1v1h-1zM738 103h1v1h-1zM750 103h1v1h-1zM758 103h1v1h-1zM975 103h1v1h-1zM982 103h1v1h-1zM994 103h1v1h-1zM1002 103h1v1h-1zM1014 103h1v1h-1zM1022 103h1v1h-1zM1238 103h1v1h-1zM1246 103h1v1h-1zM1258 103h1v1h-1zM1266 103h1v1h-1zM1278 103h1v1h-1zM1286 103h1v1h-1zM1521 103h1v1h-1zM1550 103h1v1h-1zM184 104h1v1h-1zM190 104h1v1h-1zM204 104h1v1h-1zM210 104h1v1h-1zM224 104h1v1h-1zM230 104h1v1h-1zM448 104h1v1h-1zM454 104h1v1h-1zM468 104h1v1h-1zM474 104h1v1h-1zM488 104h1v1h-1zM494 104h1v1h-1zM712 104h1v1h-1zM718 104h1v1h-1zM732 104h1v1h-1zM738 104h1v1h-1zM751 104h1v1h-1zM757 104h1v1h-1zM975 104h1v1h-1zM981 104h1v1h-1zM995 104h1v1h-1zM1001 104h1v1h-1zM1015 104h1v1h-1zM1021 104h1v1h-1zM1239 104h1v1h-1zM1245 104h1v1h-1zM1259 104h1v1h-1zM1265 104h1v1h-1zM1279 104h1v1h-1zM1285 104h1v1h-1zM1521 104h1v1h-1zM1549 104h1v1h-1zM184 105h1v1h-1zM190 105h1v1h-1zM204 105h1v1h-1zM210 105h1v1h-1zM224 105h1v1h-1zM230 105h1v1h-1zM448 105h1v1h-1zM454 105h1v1h-1zM468 105h1v1h-1zM474 105h1v1h-1zM488 105h1v1h-1zM494 105h1v1h-1zM712 105h1v1h-1zM718 105h1v1h-1zM732 105h1v1h-1zM738 105h1v1h-1zM751 105h1v1h-1zM757 105h1v1h-1zM975 105h1v1h-1zM981 105h1v1h-1zM995 105h1v1h-1zM1001 105h1v1h-1zM1015 105h1v1h-1zM1021 105h1v1h-1zM1239 105h1v1h-1zM1245 105h1v1h-1zM1259 105h1v1h-1zM1265 105h1v1h-1zM1279 105h1v1h-1zM1285 105h1v1h-1zM1521 105h1v1h-1zM1548 105h1v1h-1zM185 106h1v1h-1zM190 106h1v1h-1zM204 106h1v1h-1zM210 106h1v1h-1zM224 106h1v1h-1zM230 106h1v1h-1zM448 106h1v1h-1zM454 106h1v1h-1zM468 106h1v1h-1zM474 106h1v1h-1zM488 106h1v1h-1zM494 106h1v1h-1zM712 106h1v1h-1zM718 106h1v1h-1zM732 106h1v1h-1zM737 106h1v1h-1zM751 106h1v1h-1zM757 106h1v1h-1zM976 106h1v1h-1zM981 106h1v1h-1zM995 106h1v1h-1zM1001 106h1v1h-1zM1015 106h1v1h-1zM1021 106h1v1h-1zM1239 106h1v1h-1zM1245 106h1v1h-1zM1259 106h1v1h-1zM1265 106h1v1h-1zM1279 106h1v1h-1zM1285 106h1v1h-1zM1521 106h1v1h-1zM1546 106h2v1h-2zM185 107h1v1h-1zM189 107h1v1h-1zM205 107h1v1h-1zM209 107h1v1h-1zM225 107h1v1h-1zM230 107h1v1h-1zM449 107h1v1h-1zM453 107h1v1h-1zM469 107h1v1h-1zM473 107h1v1h-1zM489 107h1v1h-1zM494 107h1v1h-1zM713 107h1v1h-1zM717 107h1v1h-1zM733 107h1v1h-1zM737 107h1v1h-1zM752 107h1v1h-1zM757 107h1v1h-1zM976 107h1v1h-1zM980 107h1v1h-1zM996 107h1v1h-1zM1000 107h1v1h-1zM1016 107h1v1h-1zM1021 107h1v1h-1zM1240 107h1v1h-1zM1244 107h1v1h-1zM1260 107h1v1h-1zM1264 107h1v1h-1zM1280 107h1v1h-1zM1285 107h1v1h-1zM1521 107h1v1h-1zM1545 107h1v1h-1zM185 108h1v1h-1zM189 108h1v1h-1zM205 108h1v1h-1zM209 108h1v1h-1zM225 108h1v1h-1zM229 108h1v1h-1zM449 108h1v1h-1zM453 108h1v1h-1zM469 108h1v1h-1zM473 108h1v1h-1zM489 108h1v1h-1zM493 108h1v1h-1zM713 108h1v1h-1zM717 108h1v1h-1zM733 108h1v1h-1zM737 108h1v1h-1zM752 108h1v1h-1zM756 108h1v1h-1zM976 108h1v1h-1zM980 108h1v1h-1zM996 108h1v1h-1zM1000 108h1v1h-1zM1016 108h1v1h-1zM1020 108h1v1h-1zM1240 108h1v1h-1zM1244 108h1v1h-1zM1260 108h1v1h-1zM1264 108h1v1h-1zM1280 108h1v1h-1zM1284 108h1v1h-1zM1521 108h1v1h-1zM1544 108h1v1h-1zM185 109h1v1h-1zM189 109h1v1h-1zM205 109h1v1h-1zM209 109h1v1h-1zM225 109h1v1h-1zM229 109h1v1h-1zM449 109h1v1h-1zM453 109h1v1h-1zM469 109h1v1h-1zM473 109h1v1h-1zM489 109h1v1h-1zM493 109h1v1h-1zM713 109h1v1h-1zM717 109h1v1h-1zM733 109h1v1h-1zM737 109h1v1h-1zM752 109h1v1h-1zM756 109h1v1h-1zM976 109h1v1h-1zM980 109h1v1h-1zM996 109h1v1h-1zM1000 109h1v1h-1zM1016 109h1v1h-1zM1020 109h1v1h-1zM1240 109h1v1h-1zM1244 109h1v1h-1zM1260 109h1v1h-1zM1264 109h1v1h-1zM1280 109h1v1h-1zM1284 109h1v1h-1zM1521 109h1v1h-1zM1543 109h1v1h-1zM186 110h1v1h-1zM189 110h1v1h-1zM205 110h1v1h-1zM209 110h1v1h-1zM225 110h1v1h-1zM229 110h1v1h-1zM449 110h1v1h-1zM453 110h1v1h-1zM469 110h1v1h-1zM473 110h1v1h-1zM489 110h1v1h-1zM493 110h1v1h-1zM713 110h1v1h-1zM717 110h1v1h-1zM733 110h1v1h-1zM736 110h1v1h-1zM752 110h1v1h-1zM756 110h1v1h-1zM977 110h1v1h-1zM980 110h1v1h-1zM996 110h1v1h-1zM1000 110h1v1h-1zM1016 110h1v1h-1zM1020 110h1v1h-1zM1240 110h1v1h-1zM1244 110h1v1h-1zM1260 110h1v1h-1zM1264 110h1v1h-1zM1280 110h1v1h-1zM1284 110h1v1h-1zM1521 110h1v1h-1zM1542 110h1v1h-1zM186 111h1v1h-1zM188 111h1v1h-1zM206 111h1v1h-1zM208 111h1v1h-1zM226 111h1v1h-1zM228 111h1v1h-1zM450 111h1v1h-1zM452 111h1v1h-1zM470 111h1v1h-1zM472 111h1v1h-1zM490 111h1v1h-1zM492 111h1v1h-1zM714 111h1v1h-1zM716 111h1v1h-1zM734 111h1v1h-1zM736 111h1v1h-1zM753 111h1v1h-1zM755 111h1v1h-1zM977 111h1v1h-1zM979 111h1v1h-1zM997 111h1v1h-1zM999 111h1v1h-1zM1017 111h1v1h-1zM1019 111h1v1h-1zM1241 111h1v1h-1zM1243 111h1v1h-1zM1261 111h1v1h-1zM1263 111h1v1h-1zM1281 111h1v1h-1zM1283 111h1v1h-1zM1521 111h1v1h-1zM1541 111h1v1h-1zM186 112h1v1h-1zM188 112h1v1h-1zM206 112h1v1h-1zM208 112h1v1h-1zM226 112h1v1h-1zM228 112h1v1h-1zM450 112h1v1h-1zM452 112h1v1h-1zM470 112h1v1h-1zM472 112h1v1h-1zM490 112h1v1h-1zM492 112h1v1h-1zM714 112h1v1h-1zM716 112h1v1h-1zM734 112h1v1h-1zM736 112h1v1h-1zM753 112h1v1h-1zM755 112h1v1h-1zM977 112h1v1h-1zM979 112h1v1h-1zM997 112h1v1h-1zM999 112h1v1h-1zM1017 112h1v1h-1zM1019 112h1v1h-1zM1241 112h1v1h-1zM1243 112h1v1h-1zM1261 112h1v1h-1zM1263 112h1v1h-1zM1281 112h1v1h-1zM1283 112h1v1h-1zM1521 112h1v1h-1zM1540 112h1v1h-1zM186 113h1v1h-1zM188 113h1v1h-1zM206 113h1v1h-1zM208 113h1v1h-1zM226 113h1v1h-1zM228 113h1v1h-1zM450 113h1v1h-1zM452 113h1v1h-1zM470 113h1v1h-1zM472 113h1v1h-1zM490 113h1v1h-1zM492 113h1v1h-1zM714 113h1v1h-1zM716 113h1v1h-1zM734 113h1v1h-1zM736 113h1v1h-1zM753 113h1v1h-1zM755 113h1v1h-1zM977 113h1v1h-1zM979 113h1v1h-1zM997 113h1v1h-1zM999 113h1v1h-1zM1017 113h1v1h-1zM1019 113h1v1h-1zM1241 113h1v1h-1zM1243 113h1v1h-1zM1261 113h1v1h-1zM1263 113h1v1h-1zM1281 113h1v1h-1zM1283 113h1v1h-1zM1521 113h19v1h-19zM187 114h1v1h-1zM207 114h1v1h-1zM227 114h1v1h-1zM451 114h1v1h-1zM471 114h1v1h-1zM491 114h1v1h-1zM715 114h1v1h-1zM735 114h1v1h-1zM754 114h1v1h-1zM978 114h1v1h-1zM998 114h1v1h-1zM1018 114h1v1h-1zM1242 114h1v1h-1zM1262 114h1v1h-1zM1282 114h1v1h-1zM187 115h1v1h-1zM207 115h1v1h-1zM227 115h1v1h-1zM451 115h1v1h-1zM471 115h1v1h-1zM491 115h1v1h-1zM715 115h1v1h-1zM735 115h1v1h-1zM754 115h1v1h-1zM978 115h1v1h-1zM998 115h1v1h-1zM1018 115h1v1h-1zM1242 115h1v1h-1zM1262 115h1v1h-1zM1282 115h1v1h-1zM334 172h1v1h-1zM598 172h1v1h-1zM861 172h1v1h-1zM1125 172h1v1h-1zM1389 172h1v1h-1zM334 173h1v1h-1zM598 173h1v1h-1zM861 173h1v1h-1zM1125 173h1v1h-1zM1389 173h1v1h-1zM334 174h1v1h-1zM598 174h1v1h-1zM861 174h1v1h-1zM1125 174h1v1h-1zM1389 174h1v1h-1zM334 175h1v1h-1zM598 175h1v1h-1zM861 175h1v1h-1zM1125 175h1v1h-1zM1389 175h1v1h-1zM334 176h1v1h-1zM598 176h1v1h-1zM861 176h1v1h-1zM1125 176h1v1h-1zM1389 176h1v1h-1zM334 177h1v1h-1zM598 177h1v1h-1zM861 177h1v1h-1zM1125 177h1v1h-1zM1389 177h1v1h-1zM334 178h1v1h-1zM598 178h1v1h-1zM861 178h1v1h-1zM1125 178h1v1h-1zM1389 178h1v1h-1zM334 179h1v1h-1zM598 179h1v1h-1zM861 179h1v1h-1zM1125 179h1v1h-1zM1389 179h1v1h-1zM334 180h1v1h-1zM598 180h1v1h-1zM861 180h1v1h-1zM1125 180h1v1h-1zM1389 180h1v1h-1zM334 181h1v1h-1zM598 181h1v1h-1zM861 181h1v1h-1zM1125 181h1v1h-1zM1389 181h1v1h-1zM334 182h1v1h-1zM598 182h1v1h-1zM861 182h1v1h-1zM1125 182h1v1h-1zM1389 182h1v1h-1zM334 183h1v1h-1zM598 183h1v1h-1zM861 183h1v1h-1zM1125 183h1v1h-1zM1389 183h1v1h-1zM334 184h2v1h-2zM598 184h2v1h-2zM861 184h2v1h-2zM1125 184h2v1h-2zM1389 184h2v1h-2zM336 185h4v1h-4zM600 185h3v1h-3zM863 185h4v1h-4zM1127 185h4v1h-4zM1391 185h3v1h-3zM340 186h3v1h-3zM603 186h3v1h-3zM867 186h3v1h-3zM1131 186h3v1h-3zM1394 186h3v1h-3zM343 187h3v1h-3zM606 187h4v1h-4zM870 187h3v1h-3zM1134 187h3v1h-3zM1397 187h4v1h-4zM346 188h4v1h-4zM610 188h3v1h-3zM873 188h4v1h-4zM1137 188h4v1h-4zM1401 188h3v1h-3zM350 189h2v1h-2zM613 189h2v1h-2zM877 189h2v1h-2zM1141 189h2v1h-2zM1404 189h2v1h-2zM347 190h3v1h-3zM610 190h3v1h-3zM874 190h3v1h-3zM1138 190h3v1h-3zM1401 190h3v1h-3zM343 191h4v1h-4zM606 191h4v1h-4zM870 191h4v1h-4zM1134 191h4v1h-4zM1397 191h4v1h-4zM340 192h3v1h-3zM603 192h3v1h-3zM867 192h3v1h-3zM1131 192h3v1h-3zM1394 192h3v1h-3zM337 193h3v1h-3zM600 193h3v1h-3zM864 193h3v1h-3zM1128 193h3v1h-3zM1391 193h3v1h-3zM333 194h4v1h-4zM596 194h4v1h-4zM860 194h4v1h-4zM1124 194h4v1h-4zM1387 194h4v1h-4zM330 195h3v1h-3zM593 195h3v1h-3zM857 195h3v1h-3zM1121 195h3v1h-3zM1384 195h3v1h-3zM327 196h3v1h-3zM590 196h3v1h-3zM854 196h3v1h-3zM1118 196h3v1h-3zM1381 196h3v1h-3zM323 197h4v1h-4zM586 197h4v1h-4zM850 197h4v1h-4zM1114 197h4v1h-4zM1377 197h4v1h-4zM320 198h3v1h-3zM583 198h3v1h-3zM847 198h3v1h-3zM1111 198h3v1h-3zM1374 198h3v1h-3zM318 199h2v1h-2zM581 199h2v1h-2zM845 199h2v1h-2zM1109 199h2v1h-2zM1372 199h2v1h-2zM320 200h3v1h-3zM583 200h3v1h-3zM847 200h3v1h-3zM1111 200h3v1h-3zM1374 200h3v1h-3zM323 201h4v1h-4zM586 201h4v1h-4zM850 201h4v1h-4zM1114 201h4v1h-4zM1377 201h4v1h-4zM327 202h3v1h-3zM590 202h3v1h-3zM854 202h3v1h-3zM1118 202h3v1h-3zM1381 202h3v1h-3zM330 203h3v1h-3zM593 203h3v1h-3zM857 203h3v1h-3zM1121 203h3v1h-3zM1384 203h3v1h-3zM333 204h4v1h-4zM596 204h4v1h-4zM860 204h4v1h-4zM1124 204h4v1h-4zM1387 204h4v1h-4zM337 205h3v1h-3zM600 205h3v1h-3zM864 205h3v1h-3zM1128 205h3v1h-3zM1391 205h3v1h-3zM340 206h3v1h-3zM603 206h3v1h-3zM867 206h3v1h-3zM1131 206h3v1h-3zM1394 206h3v1h-3zM343 207h4v1h-4zM606 207h4v1h-4zM870 207h4v1h-4zM1134 207h4v1h-4zM1397 207h4v1h-4zM347 208h3v1h-3zM610 208h3v1h-3zM874 208h3v1h-3zM1138 208h3v1h-3zM1401 208h3v1h-3zM350 209h2v1h-2zM613 209h2v1h-2zM877 209h2v1h-2zM1141 209h2v1h-2zM1404 209h2v1h-2zM347 210h3v1h-3zM610 210h3v1h-3zM874 210h3v1h-3zM1138 210h3v1h-3zM1401 210h3v1h-3zM343 211h4v1h-4zM606 211h4v1h-4zM870 211h4v1h-4zM1134 211h4v1h-4zM1397 211h4v1h-4zM340 212h3v1h-3zM603 212h3v1h-3zM867 212h3v1h-3zM1131 212h3v1h-3zM1394 212h3v1h-3zM337 213h3v1h-3zM600 213h3v1h-3zM864 213h3v1h-3zM1128 213h3v1h-3zM1391 213h3v1h-3zM333 214h4v1h-4zM596 214h4v1h-4zM860 214h4v1h-4zM1124 214h4v1h-4zM1387 214h4v1h-4zM330 215h3v1h-3zM593 215h3v1h-3zM857 215h3v1h-3zM1121 215h3v1h-3zM1384 215h3v1h-3zM327 216h3v1h-3zM590 216h3v1h-3zM854 216h3v1h-3zM1118 216h3v1h-3zM1381 216h3v1h-3zM323 217h4v1h-4zM586 217h4v1h-4zM850 217h4v1h-4zM1114 217h4v1h-4zM1377 217h4v1h-4zM320 218h3v1h-3zM583 218h3v1h-3zM847 218h3v1h-3zM1111 218h3v1h-3zM1374 218h3v1h-3zM318 219h2v1h-2zM581 219h2v1h-2zM845 219h2v1h-2zM1109 219h2v1h-2zM1372 219h2v1h-2zM320 220h3v1h-3zM583 220h3v1h-3zM847 220h3v1h-3zM1111 220h3v1h-3zM1374 220h3v1h-3zM323 221h4v1h-4zM586 221h4v1h-4zM850 221h4v1h-4zM1114 221h4v1h-4zM1377 221h4v1h-4zM327 222h3v1h-3zM590 222h3v1h-3zM854 222h3v1h-3zM1118 222h3v1h-3zM1381 222h3v1h-3zM330 223h3v1h-3zM593 223h3v1h-3zM857 223h3v1h-3zM1121 223h3v1h-3zM1384 223h3v1h-3zM333 224h4v1h-4zM596 224h4v1h-4zM860 224h4v1h-4zM1124 224h4v1h-4zM1387 224h4v1h-4zM337 225h3v1h-3zM600 225h3v1h-3zM864 225h3v1h-3zM1128 225h3v1h-3zM1391 225h3v1h-3zM340 226h3v1h-3zM603 226h3v1h-3zM867 226h3v1h-3zM1131 226h3v1h-3zM1394 226h3v1h-3zM343 227h4v1h-4zM606 227h4v1h-4zM870 227h4v1h-4zM1134 227h4v1h-4zM1397 227h4v1h-4zM347 228h3v1h-3zM610 228h3v1h-3zM874 228h3v1h-3zM1138 228h3v1h-3zM1401 228h3v1h-3zM350 229h2v1h-2zM613 229h2v1h-2zM877 229h2v1h-2zM1141 229h2v1h-2zM1404 229h2v1h-2zM347 230h3v1h-3zM610 230h3v1h-3zM874 230h3v1h-3zM1138 230h3v1h-3zM1401 230h3v1h-3zM343 231h4v1h-4zM606 231h4v1h-4zM870 231h4v1h-4zM1134 231h4v1h-4zM1397 231h4v1h-4zM340 232h3v1h-3zM603 232h3v1h-3zM867 232h3v1h-3zM1131 232h3v1h-3zM1394 232h3v1h-3zM337 233h3v1h-3zM600 233h3v1h-3zM864 233h3v1h-3zM1128 233h3v1h-3zM1391 233h3v1h-3zM333 234h4v1h-4zM596 234h4v1h-4zM860 234h4v1h-4zM1124 234h4v1h-4zM1387 234h4v1h-4zM330 235h3v1h-3zM593 235h3v1h-3zM857 235h3v1h-3zM1121 235h3v1h-3zM1384 235h3v1h-3zM327 236h3v1h-3zM590 236h3v1h-3zM854 236h3v1h-3zM1118 236h3v1h-3zM1381 236h3v1h-3zM323 237h4v1h-4zM586 237h4v1h-4zM850 237h4v1h-4zM1114 237h4v1h-4zM1377 237h4v1h-4zM320 238h3v1h-3zM583 238h3v1h-3zM847 238h3v1h-3zM1111 238h3v1h-3zM1374 238h3v1h-3zM318 239h2v1h-2zM581 239h2v1h-2zM845 239h2v1h-2zM1109 239h2v1h-2zM1372 239h2v1h-2zM320 240h3v1h-3zM583 240h4v1h-4zM847 240h3v1h-3zM1111 240h3v1h-3zM1374 240h4v1h-4zM323 241h3v1h-3zM587 241h3v1h-3zM850 241h3v1h-3zM1114 241h3v1h-3zM1378 241h3v1h-3zM326 242h4v1h-4zM590 242h3v1h-3zM853 242h4v1h-4zM1117 242h4v1h-4zM1381 242h3v1h-3zM330 243h3v1h-3zM593 243h4v1h-4zM857 243h3v1h-3zM1121 243h3v1h-3zM1384 243h4v1h-4zM333 244h2v1h-2zM597 244h2v1h-2zM860 244h2v1h-2zM1124 244h2v1h-2zM1388 244h2v1h-2zM334 245h1v1h-1zM598 245h1v1h-1zM861 245h1v1h-1zM1125 245h1v1h-1zM1389 245h1v1h-1zM334 246h1v1h-1zM598 246h1v1h-1zM861 246h1v1h-1zM1125 246h1v1h-1zM1389 246h1v1h-1zM334 247h1v1h-1zM598 247h1v1h-1zM861 247h1v1h-1zM1125 247h1v1h-1zM1389 247h1v1h-1zM334 248h1v1h-1zM598 248h1v1h-1zM861 248h1v1h-1zM1125 248h1v1h-1zM1389 248h1v1h-1zM334 249h1v1h-1zM598 249h1v1h-1zM861 249h1v1h-1zM1125 249h1v1h-1zM1389 249h1v1h-1zM334 250h1v1h-1zM598 250h1v1h-1zM861 250h1v1h-1zM1125 250h1v1h-1zM1389 250h1v1h-1zM334 251h1v1h-1zM598 251h1v1h-1zM861 251h1v1h-1zM1125 251h1v1h-1zM1389 251h1v1h-1zM334 252h1v1h-1zM598 252h1v1h-1zM861 252h1v1h-1zM1125 252h1v1h-1zM1389 252h1v1h-1zM334 253h1v1h-1zM598 253h1v1h-1zM861 253h1v1h-1zM1125 253h1v1h-1zM1389 253h1v1h-1zM334 254h1v1h-1zM598 254h1v1h-1zM861 254h1v1h-1zM1125 254h1v1h-1zM1389 254h1v1h-1zM334 255h1v1h-1zM598 255h1v1h-1zM861 255h1v1h-1zM1125 255h1v1h-1zM1389 255h1v1h-1zM334 256h1v1h-1zM598 256h1v1h-1zM861 256h1v1h-1zM1125 256h1v1h-1zM1389 256h1v1h-1zM70 353h1v1h-1zM334 353h1v1h-1zM598 353h1v1h-1zM861 353h1v1h-1zM1125 353h1v1h-1zM1389 353h1v1h-1zM70 354h1v1h-1zM334 354h1v1h-1zM598 354h1v1h-1zM861 354h1v1h-1zM1125 354h1v1h-1zM1389 354h1v1h-1zM70 355h1v1h-1zM334 355h1v1h-1zM598 355h1v1h-1zM861 355h1v1h-1zM1125 355h1v1h-1zM1389 355h1v1h-1zM70 356h1v1h-1zM334 356h1v1h-1zM598 356h1v1h-1zM861 356h1v1h-1zM1125 356h1v1h-1zM1389 356h1v1h-1zM70 357h1v1h-1zM334 357h1v1h-1zM598 357h1v1h-1zM861 357h1v1h-1zM1125 357h1v1h-1zM1389 357h1v1h-1zM70 358h1v1h-1zM334 358h1v1h-1zM598 358h1v1h-1zM861 358h1v1h-1zM1125 358h1v1h-1zM1389 358h1v1h-1zM70 359h1v1h-1zM334 359h1v1h-1zM598 359h1v1h-1zM861 359h1v1h-1zM1125 359h1v1h-1zM1389 359h1v1h-1zM70 360h1v1h-1zM334 360h1v1h-1zM598 360h1v1h-1zM861 360h1v1h-1zM1125 360h1v1h-1zM1389 360h1v1h-1zM70 361h1v1h-1zM334 361h1v1h-1zM598 361h1v1h-1zM861 361h1v1h-1zM1125 361h1v1h-1zM1389 361h1v1h-1zM70 362h1v1h-1zM334 362h1v1h-1zM598 362h1v1h-1zM861 362h1v1h-1zM1125 362h1v1h-1zM1389 362h1v1h-1zM70 363h1v1h-1zM334 363h1v1h-1zM598 363h1v1h-1zM861 363h1v1h-1zM1125 363h1v1h-1zM1389 363h1v1h-1zM70 364h1v1h-1zM334 364h1v1h-1zM598 364h1v1h-1zM861 364h1v1h-1zM1125 364h1v1h-1zM1389 364h1v1h-1zM70 365h2v1h-2zM334 365h2v1h-2zM598 365h2v1h-2zM861 365h2v1h-2zM1125 365h2v1h-2zM1389 365h2v1h-2zM72 366h4v1h-4zM336 366h4v1h-4zM600 366h3v1h-3zM863 366h4v1h-4zM1127 366h4v1h-4zM1391 366h3v1h-3zM76 367h3v1h-3zM340 367h3v1h-3zM603 367h3v1h-3zM867 367h3v1h-3zM1131 367h3v1h-3zM1394 367h3v1h-3zM79 368h3v1h-3zM343 368h3v1h-3zM606 368h4v1h-4zM870 368h3v1h-3zM1134 368h3v1h-3zM1397 368h4v1h-4zM82 369h4v1h-4zM346 369h4v1h-4zM610 369h3v1h-3zM873 369h4v1h-4zM1137 369h4v1h-4zM1401 369h3v1h-3zM86 370h2v1h-2zM350 370h2v1h-2zM613 370h2v1h-2zM877 370h2v1h-2zM1141 370h2v1h-2zM1404 370h2v1h-2zM83 371h3v1h-3zM347 371h3v1h-3zM610 371h3v1h-3zM874 371h3v1h-3zM1138 371h3v1h-3zM1401 371h3v1h-3zM79 372h4v1h-4zM343 372h4v1h-4zM606 372h4v1h-4zM870 372h4v1h-4zM1134 372h4v1h-4zM1397 372h4v1h-4zM76 373h3v1h-3zM340 373h3v1h-3zM603 373h3v1h-3zM867 373h3v1h-3zM1131 373h3v1h-3zM1394 373h3v1h-3zM73 374h3v1h-3zM337 374h3v1h-3zM600 374h3v1h-3zM864 374h3v1h-3zM1128 374h3v1h-3zM1391 374h3v1h-3zM69 375h4v1h-4zM333 375h4v1h-4zM596 375h4v1h-4zM860 375h4v1h-4zM1124 375h4v1h-4zM1387 375h4v1h-4zM66 376h3v1h-3zM330 376h3v1h-3zM593 376h3v1h-3zM857 376h3v1h-3zM1121 376h3v1h-3zM1384 376h3v1h-3zM63 377h3v1h-3zM327 377h3v1h-3zM590 377h3v1h-3zM854 377h3v1h-3zM1118 377h3v1h-3zM1381 377h3v1h-3zM59 378h4v1h-4zM323 378h4v1h-4zM586 378h4v1h-4zM850 378h4v1h-4zM1114 378h4v1h-4zM1377 378h4v1h-4zM56 379h3v1h-3zM320 379h3v1h-3zM583 379h3v1h-3zM847 379h3v1h-3zM1111 379h3v1h-3zM1374 379h3v1h-3zM54 380h2v1h-2zM318 380h2v1h-2zM581 380h2v1h-2zM845 380h2v1h-2zM1109 380h2v1h-2zM1372 380h2v1h-2zM56 381h3v1h-3zM320 381h3v1h-3zM583 381h3v1h-3zM847 381h3v1h-3zM1111 381h3v1h-3zM1374 381h3v1h-3zM59 382h4v1h-4zM323 382h4v1h-4zM586 382h4v1h-4zM850 382h4v1h-4zM1114 382h4v1h-4zM1377 382h4v1h-4zM63 383h3v1h-3zM327 383h3v1h-3zM590 383h3v1h-3zM854 383h3v1h-3zM1118 383h3v1h-3zM1381 383h3v1h-3zM66 384h3v1h-3zM330 384h3v1h-3zM593 384h3v1h-3zM857 384h3v1h-3zM1121 384h3v1h-3zM1384 384h3v1h-3zM69 385h4v1h-4zM333 385h4v1h-4zM596 385h4v1h-4zM860 385h4v1h-4zM1124 385h4v1h-4zM1387 385h4v1h-4zM73 386h3v1h-3zM337 386h3v1h-3zM600 386h3v1h-3zM864 386h3v1h-3zM1128 386h3v1h-3zM1391 386h3v1h-3zM76 387h3v1h-3zM340 387h3v1h-3zM603 387h3v1h-3zM867 387h3v1h-3zM1131 387h3v1h-3zM1394 387h3v1h-3zM79 388h4v1h-4zM343 388h4v1h-4zM606 388h4v1h-4zM870 388h4v1h-4zM1134 388h4v1h-4zM1397 388h4v1h-4zM83 389h3v1h-3zM347 389h3v1h-3zM610 389h3v1h-3zM874 389h3v1h-3zM1138 389h3v1h-3zM1401 389h3v1h-3zM86 390h2v1h-2zM350 390h2v1h-2zM613 390h2v1h-2zM877 390h2v1h-2zM1141 390h2v1h-2zM1404 390h2v1h-2zM83 391h3v1h-3zM347 391h3v1h-3zM610 391h3v1h-3zM874 391h3v1h-3zM1138 391h3v1h-3zM1401 391h3v1h-3zM79 392h4v1h-4zM343 392h4v1h-4zM606 392h4v1h-4zM870 392h4v1h-4zM1134 392h4v1h-4zM1397 392h4v1h-4zM76 393h3v1h-3zM340 393h3v1h-3zM603 393h3v1h-3zM867 393h3v1h-3zM1131 393h3v1h-3zM1394 393h3v1h-3zM73 394h3v1h-3zM337 394h3v1h-3zM600 394h3v1h-3zM864 394h3v1h-3zM1128 394h3v1h-3zM1391 394h3v1h-3zM69 395h4v1h-4zM333 395h4v1h-4zM596 395h4v1h-4zM860 395h4v1h-4zM1124 395h4v1h-4zM1387 395h4v1h-4zM66 396h3v1h-3zM330 396h3v1h-3zM593 396h3v1h-3zM857 396h3v1h-3zM1121 396h3v1h-3zM1384 396h3v1h-3zM63 397h3v1h-3zM327 397h3v1h-3zM590 397h3v1h-3zM854 397h3v1h-3zM1118 397h3v1h-3zM1381 397h3v1h-3zM59 398h4v1h-4zM323 398h4v1h-4zM586 398h4v1h-4zM850 398h4v1h-4zM1114 398h4v1h-4zM1377 398h4v1h-4zM56 399h3v1h-3zM320 399h3v1h-3zM583 399h3v1h-3zM847 399h3v1h-3zM1111 399h3v1h-3zM1374 399h3v1h-3zM54 400h2v1h-2zM318 400h2v1h-2zM581 400h2v1h-2zM845 400h2v1h-2zM1109 400h2v1h-2zM1372 400h2v1h-2zM56 401h3v1h-3zM320 401h3v1h-3zM583 401h3v1h-3zM847 401h3v1h-3zM1111 401h3v1h-3zM1374 401h3v1h-3zM59 402h4v1h-4zM323 402h4v1h-4zM586 402h4v1h-4zM850 402h4v1h-4zM1114 402h4v1h-4zM1377 402h4v1h-4zM63 403h3v1h-3zM327 403h3v1h-3zM590 403h3v1h-3zM854 403h3v1h-3zM1118 403h3v1h-3zM1381 403h3v1h-3zM66 404h3v1h-3zM330 404h3v1h-3zM593 404h3v1h-3zM857 404h3v1h-3zM1121 404h3v1h-3zM1384 404h3v1h-3zM69 405h4v1h-4zM333 405h4v1h-4zM596 405h4v1h-4zM860 405h4v1h-4zM1124 405h4v1h-4zM1387 405h4v1h-4zM73 406h3v1h-3zM337 406h3v1h-3zM600 406h3v1h-3zM864 406h3v1h-3zM1128 406h3v1h-3zM1391 406h3v1h-3zM76 407h3v1h-3zM340 407h3v1h-3zM603 407h3v1h-3zM867 407h3v1h-3zM1131 407h3v1h-3zM1394 407h3v1h-3zM79 408h4v1h-4zM343 408h4v1h-4zM606 408h4v1h-4zM870 408h4v1h-4zM1134 408h4v1h-4zM1397 408h4v1h-4zM83 409h3v1h-3zM347 409h3v1h-3zM610 409h3v1h-3zM874 409h3v1h-3zM1138 409h3v1h-3zM1401 409h3v1h-3zM86 410h2v1h-2zM350 410h2v1h-2zM613 410h2v1h-2zM877 410h2v1h-2zM1141 410h2v1h-2zM1404 410h2v1h-2zM83 411h3v1h-3zM347 411h3v1h-3zM610 411h3v1h-3zM874 411h3v1h-3zM1138 411h3v1h-3zM1401 411h3v1h-3zM79 412h4v1h-4zM343 412h4v1h-4zM606 412h4v1h-4zM870 412h4v1h-4zM1134 412h4v1h-4zM1397 412h4v1h-4zM76 413h3v1h-3zM340 413h3v1h-3zM603 413h3v1h-3zM867 413h3v1h-3zM1131 413h3v1h-3zM1394 413h3v1h-3zM73 414h3v1h-3zM337 414h3v1h-3zM600 414h3v1h-3zM864 414h3v1h-3zM1128 414h3v1h-3zM1391 414h3v1h-3zM69 415h4v1h-4zM333 415h4v1h-4zM596 415h4v1h-4zM860 415h4v1h-4zM1124 415h4v1h-4zM1387 415h4v1h-4zM66 416h3v1h-3zM330 416h3v1h-3zM593 416h3v1h-3zM857 416h3v1h-3zM1121 416h3v1h-3zM1384 416h3v1h-3zM63 417h3v1h-3zM327 417h3v1h-3zM590 417h3v1h-3zM854 417h3v1h-3zM1118 417h3v1h-3zM1381 417h3v1h-3zM59 418h4v1h-4zM323 418h4v1h-4zM586 418h4v1h-4zM850 418h4v1h-4zM1114 418h4v1h-4zM1377 418h4v1h-4zM56 419h3v1h-3zM320 419h3v1h-3zM583 419h3v1h-3zM847 419h3v1h-3zM1111 419h3v1h-3zM1374 419h3v1h-3zM54 420h2v1h-2zM318 420h2v1h-2zM581 420h2v1h-2zM845 420h2v1h-2zM1109 420h2v1h-2zM1372 420h2v1h-2zM56 421h3v1h-3zM320 421h3v1h-3zM583 421h4v1h-4zM847 421h3v1h-3zM1111 421h3v1h-3zM1374 421h4v1h-4zM59 422h3v1h-3zM323 422h3v1h-3zM587 422h3v1h-3zM850 422h3v1h-3zM1114 422h3v1h-3zM1378 422h3v1h-3zM62 423h4v1h-4zM326 423h4v1h-4zM590 423h3v1h-3zM853 423h4v1h-4zM1117 423h4v1h-4zM1381 423h3v1h-3zM66 424h3v1h-3zM330 424h3v1h-3zM593 424h4v1h-4zM857 424h3v1h-3zM1121 424h3v1h-3zM1384 424h4v1h-4zM69 425h2v1h-2zM333 425h2v1h-2zM597 425h2v1h-2zM860 425h2v1h-2zM1124 425h2v1h-2zM1388 425h2v1h-2zM70 426h1v1h-1zM334 426h1v1h-1zM598 426h1v1h-1zM861 426h1v1h-1zM1125 426h1v1h-1zM1389 426h1v1h-1zM70 427h1v1h-1zM334 427h1v1h-1zM598 427h1v1h-1zM861 427h1v1h-1zM1125 427h1v1h-1zM1389 427h1v1h-1zM70 428h1v1h-1zM334 428h1v1h-1zM598 428h1v1h-1zM861 428h1v1h-1zM1125 428h1v1h-1zM1389 428h1v1h-1zM70 429h1v1h-1zM334 429h1v1h-1zM598 429h1v1h-1zM861 429h1v1h-1zM1125 429h1v1h-1zM1389 429h1v1h-1zM70 430h1v1h-1zM334 430h1v1h-1zM598 430h1v1h-1zM861 430h1v1h-1zM1125 430h1v1h-1zM1389 430h1v1h-1zM70 431h1v1h-1zM334 431h1v1h-1zM598 431h1v1h-1zM861 431h1v1h-1zM1125 431h1v1h-1zM1389 431h1v1h-1zM70 432h1v1h-1zM334 432h1v1h-1zM598 432h1v1h-1zM861 432h1v1h-1zM1125 432h1v1h-1zM1389 432h1v1h-1zM70 433h1v1h-1zM334 433h1v1h-1zM598 433h1v1h-1zM861 433h1v1h-1zM1125 433h1v1h-1zM1389 433h1v1h-1zM70 434h1v1h-1zM334 434h1v1h-1zM598 434h1v1h-1zM861 434h1v1h-1zM1125 434h1v1h-1zM1389 434h1v1h-1zM70 435h1v1h-1zM334 435h1v1h-1zM598 435h1v1h-1zM861 435h1v1h-1zM1125 435h1v1h-1zM1389 435h1v1h-1zM70 436h1v1h-1zM334 436h1v1h-1zM598 436h1v1h-1zM861 436h1v1h-1zM1125 436h1v1h-1zM1389 436h1v1h-1zM70 437h1v1h-1zM334 437h1v1h-1zM598 437h1v1h-1zM861 437h1v1h-1zM1125 437h1v1h-1zM1389 437h1v1h-1zM70 535h1v1h-1zM334 535h1v1h-1zM598 535h1v1h-1zM861 535h1v1h-1zM1125 535h1v1h-1zM1389 535h1v1h-1zM70 536h1v1h-1zM334 536h1v1h-1zM598 536h1v1h-1zM861 536h1v1h-1zM1125 536h1v1h-1zM1389 536h1v1h-1zM70 537h1v1h-1zM334 537h1v1h-1zM598 537h1v1h-1zM861 537h1v1h-1zM1125 537h1v1h-1zM1389 537h1v1h-1zM70 538h1v1h-1zM334 538h1v1h-1zM598 538h1v1h-1zM861 538h1v1h-1zM1125 538h1v1h-1zM1389 538h1v1h-1zM70 539h1v1h-1zM334 539h1v1h-1zM598 539h1v1h-1zM861 539h1v1h-1zM1125 539h1v1h-1zM1389 539h1v1h-1zM70 540h1v1h-1zM334 540h1v1h-1zM598 540h1v1h-1zM861 540h1v1h-1zM1125 540h1v1h-1zM1389 540h1v1h-1zM70 541h1v1h-1zM334 541h1v1h-1zM598 541h1v1h-1zM861 541h1v1h-1zM1125 541h1v1h-1zM1389 541h1v1h-1zM70 542h1v1h-1zM334 542h1v1h-1zM598 542h1v1h-1zM861 542h1v1h-1zM1125 542h1v1h-1zM1389 542h1v1h-1zM70 543h1v1h-1zM334 543h1v1h-1zM598 543h1v1h-1zM861 543h1v1h-1zM1125 543h1v1h-1zM1389 543h1v1h-1zM70 544h1v1h-1zM334 544h1v1h-1zM598 544h1v1h-1zM861 544h1v1h-1zM1125 544h1v1h-1zM1389 544h1v1h-1zM70 545h1v1h-1zM334 545h1v1h-1zM598 545h1v1h-1zM861 545h1v1h-1zM1125 545h1v1h-1zM1389 545h1v1h-1zM70 546h1v1h-1zM334 546h1v1h-1zM598 546h1v1h-1zM861 546h1v1h-1zM1125 546h1v1h-1zM1389 546h1v1h-1zM70 547h1v1h-1zM334 547h1v1h-1zM598 547h1v1h-1zM861 547h1v1h-1zM1125 547h1v1h-1zM1389 547h1v1h-1zM70 548h1v1h-1zM334 548h1v1h-1zM598 548h1v1h-1zM861 548h1v1h-1zM1125 548h1v1h-1zM1389 548h1v1h-1zM70 549h1v1h-1zM334 549h1v1h-1zM598 549h1v1h-1zM861 549h1v1h-1zM1125 549h1v1h-1zM1389 549h1v1h-1zM70 550h1v1h-1zM334 550h1v1h-1zM598 550h1v1h-1zM861 550h1v1h-1zM1125 550h1v1h-1zM1389 550h1v1h-1zM70 551h1v1h-1zM334 551h1v1h-1zM598 551h1v1h-1zM861 551h1v1h-1zM1125 551h1v1h-1zM1389 551h1v1h-1zM70 552h1v1h-1zM334 552h1v1h-1zM598 552h1v1h-1zM861 552h1v1h-1zM1125 552h1v1h-1zM1389 552h1v1h-1zM70 553h1v1h-1zM334 553h1v1h-1zM598 553h1v1h-1zM861 553h1v1h-1zM1125 553h1v1h-1zM1389 553h1v1h-1zM70 554h1v1h-1zM334 554h1v1h-1zM598 554h1v1h-1zM861 554h1v1h-1zM1125 554h1v1h-1zM1389 554h1v1h-1zM70 555h1v1h-1zM334 555h1v1h-1zM598 555h1v1h-1zM861 555h1v1h-1zM1125 555h1v1h-1zM1389 555h1v1h-1zM70 556h1v1h-1zM334 556h1v1h-1zM598 556h1v1h-1zM861 556h1v1h-1zM1125 556h1v1h-1zM1389 556h1v1h-1zM70 557h1v1h-1zM334 557h1v1h-1zM598 557h1v1h-1zM861 557h1v1h-1zM1125 557h1v1h-1zM1389 557h1v1h-1zM70 558h1v1h-1zM334 558h1v1h-1zM598 558h1v1h-1zM861 558h1v1h-1zM1125 558h1v1h-1zM1389 558h1v1h-1zM70 559h1v1h-1zM334 559h1v1h-1zM598 559h1v1h-1zM861 559h1v1h-1zM1125 559h1v1h-1zM1389 559h1v1h-1zM66 560h10v1h-10zM330 560h9v1h-9zM594 560h9v1h-9zM857 560h10v1h-10zM1121 560h9v1h-9zM1385 560h9v1h-9zM63 561h3v1h-3zM76 561h3v1h-3zM327 561h3v1h-3zM339 561h3v1h-3zM591 561h3v1h-3zM603 561h3v1h-3zM854 561h3v1h-3zM867 561h3v1h-3zM1118 561h3v1h-3zM1130 561h3v1h-3zM1382 561h3v1h-3zM1394 561h3v1h-3zM61 562h2v1h-2zM79 562h2v1h-2zM325 562h2v1h-2zM342 562h2v1h-2zM589 562h2v1h-2zM606 562h2v1h-2zM852 562h2v1h-2zM870 562h2v1h-2zM1116 562h2v1h-2zM1133 562h2v1h-2zM1380 562h2v1h-2zM1397 562h2v1h-2zM60 563h1v1h-1zM70 563h1v1h-1zM81 563h1v1h-1zM323 563h2v1h-2zM334 563h1v1h-1zM344 563h2v1h-2zM587 563h2v1h-2zM598 563h1v1h-1zM608 563h2v1h-2zM851 563h1v1h-1zM861 563h1v1h-1zM872 563h1v1h-1zM1114 563h2v1h-2zM1125 563h1v1h-1zM1135 563h2v1h-2zM1378 563h2v1h-2zM1389 563h1v1h-1zM1399 563h2v1h-2zM58 564h2v1h-2zM70 564h1v1h-1zM82 564h2v1h-2zM322 564h1v1h-1zM334 564h1v1h-1zM346 564h1v1h-1zM586 564h1v1h-1zM598 564h1v1h-1zM610 564h1v1h-1zM849 564h2v1h-2zM861 564h1v1h-1zM873 564h2v1h-2zM1113 564h1v1h-1zM1125 564h1v1h-1zM1137 564h1v1h-1zM1377 564h1v1h-1zM1389 564h1v1h-1zM1401 564h1v1h-1zM57 565h1v1h-1zM70 565h1v1h-1zM84 565h1v1h-1zM321 565h1v1h-1zM334 565h1v1h-1zM347 565h1v1h-1zM585 565h1v1h-1zM598 565h1v1h-1zM611 565h1v1h-1zM848 565h1v1h-1zM861 565h1v1h-1zM875 565h1v1h-1zM1112 565h1v1h-1zM1125 565h1v1h-1zM1138 565h1v1h-1zM1376 565h1v1h-1zM1389 565h1v1h-1zM1402 565h1v1h-1zM56 566h1v1h-1zM70 566h1v1h-1zM85 566h1v1h-1zM320 566h1v1h-1zM334 566h1v1h-1zM348 566h1v1h-1zM584 566h1v1h-1zM598 566h1v1h-1zM612 566h1v1h-1zM847 566h1v1h-1zM861 566h1v1h-1zM876 566h1v1h-1zM1111 566h1v1h-1zM1125 566h1v1h-1zM1139 566h1v1h-1zM1375 566h1v1h-1zM1389 566h1v1h-1zM1403 566h1v1h-1zM55 567h1v1h-1zM70 567h1v1h-1zM86 567h1v1h-1zM319 567h1v1h-1zM334 567h1v1h-1zM349 567h1v1h-1zM583 567h1v1h-1zM598 567h1v1h-1zM613 567h1v1h-1zM846 567h1v1h-1zM861 567h1v1h-1zM877 567h1v1h-1zM1110 567h1v1h-1zM1125 567h1v1h-1zM1140 567h1v1h-1zM1374 567h1v1h-1zM1389 567h1v1h-1zM1404 567h1v1h-1zM55 568h1v1h-1zM65 568h11v1h-11zM86 568h1v1h-1zM319 568h1v1h-1zM329 568h11v1h-11zM349 568h1v1h-1zM583 568h1v1h-1zM593 568h11v1h-11zM613 568h1v1h-1zM846 568h1v1h-1zM857 568h10v1h-10zM877 568h1v1h-1zM1110 568h1v1h-1zM1120 568h11v1h-11zM1140 568h1v1h-1zM1374 568h1v1h-1zM1384 568h11v1h-11zM1404 568h1v1h-1zM54 569h1v1h-1zM70 569h1v1h-1zM87 569h1v1h-1zM318 569h1v1h-1zM334 569h1v1h-1zM350 569h1v1h-1zM582 569h1v1h-1zM598 569h1v1h-1zM614 569h1v1h-1zM845 569h1v1h-1zM861 569h1v1h-1zM878 569h1v1h-1zM1109 569h1v1h-1zM1125 569h1v1h-1zM1141 569h1v1h-1zM1373 569h1v1h-1zM1389 569h1v1h-1zM1405 569h1v1h-1zM53 570h1v1h-1zM70 570h1v1h-1zM88 570h1v1h-1zM317 570h1v1h-1zM334 570h1v1h-1zM351 570h1v1h-1zM581 570h1v1h-1zM598 570h1v1h-1zM615 570h1v1h-1zM844 570h1v1h-1zM861 570h1v1h-1zM879 570h1v1h-1zM1108 570h1v1h-1zM1125 570h1v1h-1zM1142 570h1v1h-1zM1372 570h1v1h-1zM1389 570h1v1h-1zM1406 570h1v1h-1zM53 571h1v1h-1zM70 571h1v1h-1zM88 571h1v1h-1zM317 571h1v1h-1zM334 571h1v1h-1zM351 571h1v1h-1zM581 571h1v1h-1zM598 571h1v1h-1zM615 571h1v1h-1zM844 571h1v1h-1zM861 571h1v1h-1zM879 571h1v1h-1zM1108 571h1v1h-1zM1125 571h1v1h-1zM1142 571h1v1h-1zM1372 571h1v1h-1zM1389 571h1v1h-1zM1406 571h1v1h-1zM53 572h1v1h-1zM70 572h1v1h-1zM88 572h1v1h-1zM317 572h1v1h-1zM334 572h1v1h-1zM351 572h1v1h-1zM581 572h1v1h-1zM598 572h1v1h-1zM615 572h1v1h-1zM844 572h1v1h-1zM861 572h1v1h-1zM879 572h1v1h-1zM1108 572h1v1h-1zM1125 572h1v1h-1zM1142 572h1v1h-1zM1372 572h1v1h-1zM1389 572h1v1h-1zM1406 572h1v1h-1zM52 573h1v1h-1zM70 573h1v1h-1zM89 573h1v1h-1zM316 573h1v1h-1zM334 573h1v1h-1zM352 573h1v1h-1zM580 573h1v1h-1zM598 573h1v1h-1zM616 573h1v1h-1zM843 573h1v1h-1zM861 573h1v1h-1zM880 573h1v1h-1zM1107 573h1v1h-1zM1125 573h1v1h-1zM1143 573h1v1h-1zM1371 573h1v1h-1zM1389 573h1v1h-1zM1407 573h1v1h-1zM52 574h1v1h-1zM89 574h1v1h-1zM316 574h1v1h-1zM352 574h1v1h-1zM580 574h1v1h-1zM616 574h1v1h-1zM843 574h1v1h-1zM880 574h1v1h-1zM1107 574h1v1h-1zM1143 574h1v1h-1zM1371 574h1v1h-1zM1407 574h1v1h-1zM52 575h1v1h-1zM89 575h1v1h-1zM316 575h1v1h-1zM352 575h1v1h-1zM580 575h1v1h-1zM616 575h1v1h-1zM843 575h1v1h-1zM880 575h1v1h-1zM1107 575h1v1h-1zM1143 575h1v1h-1zM1371 575h1v1h-1zM1407 575h1v1h-1zM52 576h1v1h-1zM89 576h1v1h-1zM316 576h1v1h-1zM352 576h1v1h-1zM580 576h1v1h-1zM616 576h1v1h-1zM843 576h1v1h-1zM880 576h1v1h-1zM1107 576h1v1h-1zM1143 576h1v1h-1zM1371 576h1v1h-1zM1407 576h1v1h-1zM52 577h1v1h-1zM89 577h1v1h-1zM316 577h1v1h-1zM352 577h1v1h-1zM580 577h1v1h-1zM616 577h1v1h-1zM843 577h1v1h-1zM880 577h1v1h-1zM1107 577h1v1h-1zM1143 577h1v1h-1zM1371 577h1v1h-1zM1407 577h1v1h-1zM52 578h1v1h-1zM89 578h1v1h-1zM316 578h1v1h-1zM352 578h1v1h-1zM580 578h1v1h-1zM616 578h1v1h-1zM843 578h1v1h-1zM880 578h1v1h-1zM1107 578h1v1h-1zM1143 578h1v1h-1zM1371 578h1v1h-1zM1407 578h1v1h-1zM52 579h1v1h-1zM89 579h1v1h-1zM316 579h1v1h-1zM352 579h1v1h-1zM580 579h1v1h-1zM616 579h1v1h-1zM843 579h1v1h-1zM880 579h1v1h-1zM1107 579h1v1h-1zM1143 579h1v1h-1zM1371 579h1v1h-1zM1407 579h1v1h-1zM52 580h1v1h-1zM89 580h1v1h-1zM316 580h1v1h-1zM352 580h1v1h-1zM580 580h1v1h-1zM616 580h1v1h-1zM843 580h1v1h-1zM880 580h1v1h-1zM1107 580h1v1h-1zM1143 580h1v1h-1zM1371 580h1v1h-1zM1407 580h1v1h-1zM53 581h1v1h-1zM88 581h1v1h-1zM317 581h1v1h-1zM351 581h1v1h-1zM581 581h1v1h-1zM615 581h1v1h-1zM844 581h1v1h-1zM879 581h1v1h-1zM1108 581h1v1h-1zM1142 581h1v1h-1zM1372 581h1v1h-1zM1406 581h1v1h-1zM53 582h1v1h-1zM88 582h1v1h-1zM317 582h1v1h-1zM351 582h1v1h-1zM581 582h1v1h-1zM615 582h1v1h-1zM844 582h1v1h-1zM879 582h1v1h-1zM1108 582h1v1h-1zM1142 582h1v1h-1zM1372 582h1v1h-1zM1406 582h1v1h-1zM53 583h1v1h-1zM88 583h1v1h-1zM317 583h1v1h-1zM351 583h1v1h-1zM581 583h1v1h-1zM615 583h1v1h-1zM844 583h1v1h-1zM879 583h1v1h-1zM1108 583h1v1h-1zM1142 583h1v1h-1zM1372 583h1v1h-1zM1406 583h1v1h-1zM54 584h1v1h-1zM87 584h1v1h-1zM318 584h1v1h-1zM350 584h1v1h-1zM582 584h1v1h-1zM614 584h1v1h-1zM845 584h1v1h-1zM878 584h1v1h-1zM1109 584h1v1h-1zM1141 584h1v1h-1zM1373 584h1v1h-1zM1405 584h1v1h-1zM55 585h1v1h-1zM65 585h11v1h-11zM86 585h1v1h-1zM319 585h1v1h-1zM329 585h11v1h-11zM349 585h1v1h-1zM583 585h1v1h-1zM593 585h11v1h-11zM613 585h1v1h-1zM846 585h1v1h-1zM857 585h10v1h-10zM877 585h1v1h-1zM1110 585h1v1h-1zM1120 585h11v1h-11zM1140 585h1v1h-1zM1374 585h1v1h-1zM1384 585h11v1h-11zM1404 585h1v1h-1zM55 586h1v1h-1zM86 586h1v1h-1zM319 586h1v1h-1zM349 586h1v1h-1zM583 586h1v1h-1zM613 586h1v1h-1zM846 586h1v1h-1zM877 586h1v1h-1zM1110 586h1v1h-1zM1140 586h1v1h-1zM1374 586h1v1h-1zM1404 586h1v1h-1zM56 587h1v1h-1zM85 587h1v1h-1zM320 587h1v1h-1zM348 587h1v1h-1zM584 587h1v1h-1zM612 587h1v1h-1zM847 587h1v1h-1zM876 587h1v1h-1zM1111 587h1v1h-1zM1139 587h1v1h-1zM1375 587h1v1h-1zM1403 587h1v1h-1zM57 588h1v1h-1zM84 588h1v1h-1zM321 588h1v1h-1zM347 588h1v1h-1zM585 588h1v1h-1zM611 588h1v1h-1zM848 588h1v1h-1zM875 588h1v1h-1zM1112 588h1v1h-1zM1138 588h1v1h-1zM1376 588h1v1h-1zM1402 588h1v1h-1zM58 589h2v1h-2zM82 589h2v1h-2zM322 589h1v1h-1zM346 589h1v1h-1zM586 589h1v1h-1zM610 589h1v1h-1zM849 589h2v1h-2zM873 589h2v1h-2zM1113 589h1v1h-1zM1137 589h1v1h-1zM1377 589h1v1h-1zM1401 589h1v1h-1zM60 590h1v1h-1zM81 590h1v1h-1zM323 590h2v1h-2zM344 590h2v1h-2zM587 590h2v1h-2zM608 590h2v1h-2zM851 590h1v1h-1zM872 590h1v1h-1zM1114 590h2v1h-2zM1135 590h2v1h-2zM1378 590h2v1h-2zM1399 590h2v1h-2zM61 591h2v1h-2zM79 591h2v1h-2zM325 591h2v1h-2zM342 591h2v1h-2zM589 591h2v1h-2zM606 591h2v1h-2zM852 591h2v1h-2zM870 591h2v1h-2zM1116 591h2v1h-2zM1133 591h2v1h-2zM1380 591h2v1h-2zM1397 591h2v1h-2zM63 592h3v1h-3zM76 592h3v1h-3zM327 592h3v1h-3zM339 592h3v1h-3zM591 592h3v1h-3zM603 592h3v1h-3zM854 592h3v1h-3zM867 592h3v1h-3zM1118 592h3v1h-3zM1130 592h3v1h-3zM1382 592h3v1h-3zM1394 592h3v1h-3zM66 593h10v1h-10zM330 593h9v1h-9zM594 593h9v1h-9zM857 593h10v1h-10zM1121 593h9v1h-9zM1385 593h9v1h-9zM70 594h1v1h-1zM334 594h1v1h-1zM598 594h1v1h-1zM861 594h1v1h-1zM1125 594h1v1h-1zM1389 594h1v1h-1zM70 595h1v1h-1zM334 595h1v1h-1zM598 595h1v1h-1zM861 595h1v1h-1zM1125 595h1v1h-1zM1389 595h1v1h-1zM70 596h1v1h-1zM334 596h1v1h-1zM598 596h1v1h-1zM861 596h1v1h-1zM1125 596h1v1h-1zM1389 596h1v1h-1zM70 597h1v1h-1zM334 597h1v1h-1zM598 597h1v1h-1zM861 597h1v1h-1zM1125 597h1v1h-1zM1389 597h1v1h-1zM70 598h1v1h-1zM334 598h1v1h-1zM598 598h1v1h-1zM861 598h1v1h-1zM1125 598h1v1h-1zM1389 598h1v1h-1zM70 599h1v1h-1zM334 599h1v1h-1zM598 599h1v1h-1zM861 599h1v1h-1zM1125 599h1v1h-1zM1389 599h1v1h-1zM70 600h1v1h-1zM334 600h1v1h-1zM598 600h1v1h-1zM861 600h1v1h-1zM1125 600h1v1h-1zM1389 600h1v1h-1zM70 601h1v1h-1zM334 601h1v1h-1zM598 601h1v1h-1zM861 601h1v1h-1zM1125 601h1v1h-1zM1389 601h1v1h-1zM70 602h1v1h-1zM334 602h1v1h-1zM598 602h1v1h-1zM861 602h1v1h-1zM1125 602h1v1h-1zM1389 602h1v1h-1zM70 603h1v1h-1zM334 603h1v1h-1zM598 603h1v1h-1zM861 603h1v1h-1zM1125 603h1v1h-1zM1389 603h1v1h-1zM70 604h1v1h-1zM334 604h1v1h-1zM598 604h1v1h-1zM861 604h1v1h-1zM1125 604h1v1h-1zM1389 604h1v1h-1zM70 605h1v1h-1zM334 605h1v1h-1zM598 605h1v1h-1zM861 605h1v1h-1zM1125 605h1v1h-1zM1389 605h1v1h-1zM70 606h1v1h-1zM334 606h1v1h-1zM598 606h1v1h-1zM861 606h1v1h-1zM1125 606h1v1h-1zM1389 606h1v1h-1zM70 607h1v1h-1zM334 607h1v1h-1zM598 607h1v1h-1zM861 607h1v1h-1zM1125 607h1v1h-1zM1389 607h1v1h-1zM70 608h1v1h-1zM334 608h1v1h-1zM598 608h1v1h-1zM861 608h1v1h-1zM1125 608h1v1h-1zM1389 608h1v1h-1zM70 609h1v1h-1zM334 609h1v1h-1zM598 609h1v1h-1zM861 609h1v1h-1zM1125 609h1v1h-1zM1389 609h1v1h-1zM70 610h1v1h-1zM334 610h1v1h-1zM598 610h1v1h-1zM861 610h1v1h-1zM1125 610h1v1h-1zM1389 610h1v1h-1zM70 611h1v1h-1zM334 611h1v1h-1zM598 611h1v1h-1zM861 611h1v1h-1zM1125 611h1v1h-1zM1389 611h1v1h-1zM70 612h1v1h-1zM334 612h1v1h-1zM598 612h1v1h-1zM861 612h1v1h-1zM1125 612h1v1h-1zM1389 612h1v1h-1zM70 613h1v1h-1zM334 613h1v1h-1zM598 613h1v1h-1zM861 613h1v1h-1zM1125 613h1v1h-1zM1389 613h1v1h-1zM70 614h1v1h-1zM334 614h1v1h-1zM598 614h1v1h-1zM861 614h1v1h-1zM1125 614h1v1h-1zM1389 614h1v1h-1zM70 615h1v1h-1zM334 615h1v1h-1zM598 615h1v1h-1zM861 615h1v1h-1zM1125 615h1v1h-1zM1389 615h1v1h-1zM70 616h1v1h-1zM334 616h1v1h-1zM598 616h1v1h-1zM861 616h1v1h-1zM1125 616h1v1h-1zM1389 616h1v1h-1zM70 617h1v1h-1zM334 617h1v1h-1zM598 617h1v1h-1zM861 617h1v1h-1zM1125 617h1v1h-1zM1389 617h1v1h-1zM70 618h1v1h-1zM334 618h1v1h-1zM598 618h1v1h-1zM861 618h1v1h-1zM1125 618h1v1h-1zM1389 618h1v1h-1zM70 633h1v1h-1zM334 633h1v1h-1zM598 633h1v1h-1zM861 633h1v1h-1zM1125 633h1v1h-1zM1389 633h1v1h-1zM70 634h1v1h-1zM334 634h1v1h-1zM598 634h1v1h-1zM861 634h1v1h-1zM1125 634h1v1h-1zM1389 634h1v1h-1zM70 635h1v1h-1zM334 635h1v1h-1zM598 635h1v1h-1zM861 635h1v1h-1zM1125 635h1v1h-1zM1389 635h1v1h-1zM70 636h1v1h-1zM334 636h1v1h-1zM598 636h1v1h-1zM861 636h1v1h-1zM1125 636h1v1h-1zM1389 636h1v1h-1zM70 637h1v1h-1zM334 637h1v1h-1zM598 637h1v1h-1zM861 637h1v1h-1zM1125 637h1v1h-1zM1389 637h1v1h-1zM70 638h1v1h-1zM334 638h1v1h-1zM598 638h1v1h-1zM861 638h1v1h-1zM1125 638h1v1h-1zM1389 638h1v1h-1zM70 639h1v1h-1zM334 639h1v1h-1zM598 639h1v1h-1zM861 639h1v1h-1zM1125 639h1v1h-1zM1389 639h1v1h-1zM70 640h1v1h-1zM334 640h1v1h-1zM598 640h1v1h-1zM861 640h1v1h-1zM1125 640h1v1h-1zM1389 640h1v1h-1zM70 641h1v1h-1zM334 641h1v1h-1zM598 641h1v1h-1zM861 641h1v1h-1zM1125 641h1v1h-1zM1389 641h1v1h-1zM70 642h1v1h-1zM334 642h1v1h-1zM598 642h1v1h-1zM861 642h1v1h-1zM1125 642h1v1h-1zM1389 642h1v1h-1zM70 643h1v1h-1zM334 643h1v1h-1zM598 643h1v1h-1zM861 643h1v1h-1zM1125 643h1v1h-1zM1389 643h1v1h-1zM70 644h1v1h-1zM334 644h1v1h-1zM598 644h1v1h-1zM861 644h1v1h-1zM1125 644h1v1h-1zM1389 644h1v1h-1zM70 645h1v1h-1zM334 645h1v1h-1zM598 645h1v1h-1zM861 645h1v1h-1zM1125 645h1v1h-1zM1389 645h1v1h-1zM70 646h1v1h-1zM334 646h1v1h-1zM598 646h1v1h-1zM861 646h1v1h-1zM1125 646h1v1h-1zM1389 646h1v1h-1zM70 647h1v1h-1zM334 647h1v1h-1zM598 647h1v1h-1zM861 647h1v1h-1zM1125 647h1v1h-1zM1389 647h1v1h-1zM70 648h1v1h-1zM334 648h1v1h-1zM598 648h1v1h-1zM861 648h1v1h-1zM1125 648h1v1h-1zM1389 648h1v1h-1zM70 649h1v1h-1zM334 649h1v1h-1zM598 649h1v1h-1zM861 649h1v1h-1zM1125 649h1v1h-1zM1389 649h1v1h-1zM70 650h1v1h-1zM334 650h1v1h-1zM598 650h1v1h-1zM861 650h1v1h-1zM1125 650h1v1h-1zM1389 650h1v1h-1zM70 651h1v1h-1zM334 651h1v1h-1zM598 651h1v1h-1zM861 651h1v1h-1zM1125 651h1v1h-1zM1389 651h1v1h-1zM70 652h1v1h-1zM334 652h1v1h-1zM598 652h1v1h-1zM861 652h1v1h-1zM1125 652h1v1h-1zM1389 652h1v1h-1zM70 653h1v1h-1zM334 653h1v1h-1zM598 653h1v1h-1zM861 653h1v1h-1zM1125 653h1v1h-1zM1389 653h1v1h-1zM70 654h1v1h-1zM334 654h1v1h-1zM598 654h1v1h-1zM861 654h1v1h-1zM1125 654h1v1h-1zM1389 654h1v1h-1zM70 655h1v1h-1zM334 655h1v1h-1zM598 655h1v1h-1zM861 655h1v1h-1zM1125 655h1v1h-1zM1389 655h1v1h-1zM70 656h1v1h-1zM334 656h1v1h-1zM598 656h1v1h-1zM861 656h1v1h-1zM1125 656h1v1h-1zM1389 656h1v1h-1zM70 657h1v1h-1zM334 657h1v1h-1zM598 657h1v1h-1zM861 657h1v1h-1zM1125 657h1v1h-1zM1389 657h1v1h-1zM70 658h1v1h-1zM334 658h1v1h-1zM598 658h1v1h-1zM861 658h1v1h-1zM1125 658h1v1h-1zM1389 658h1v1h-1zM70 659h1v1h-1zM334 659h1v1h-1zM598 659h1v1h-1zM861 659h1v1h-1zM1125 659h1v1h-1zM1389 659h1v1h-1zM70 660h1v1h-1zM334 660h1v1h-1zM598 660h1v1h-1zM861 660h1v1h-1zM1125 660h1v1h-1zM1389 660h1v1h-1zM70 661h1v1h-1zM334 661h1v1h-1zM598 661h1v1h-1zM861 661h1v1h-1zM1125 661h1v1h-1zM1389 661h1v1h-1zM70 662h1v1h-1zM334 662h1v1h-1zM598 662h1v1h-1zM861 662h1v1h-1zM1125 662h1v1h-1zM1389 662h1v1h-1zM70 663h1v1h-1zM334 663h1v1h-1zM598 663h1v1h-1zM861 663h1v1h-1zM1125 663h1v1h-1zM1389 663h1v1h-1zM70 664h1v1h-1zM334 664h1v1h-1zM598 664h1v1h-1zM861 664h1v1h-1zM1125 664h1v1h-1zM1389 664h1v1h-1zM70 665h1v1h-1zM334 665h1v1h-1zM598 665h1v1h-1zM861 665h1v1h-1zM1125 665h1v1h-1zM1389 665h1v1h-1zM70 666h1v1h-1zM334 666h1v1h-1zM598 666h1v1h-1zM861 666h1v1h-1zM1125 666h1v1h-1zM1389 666h1v1h-1zM70 667h1v1h-1zM334 667h1v1h-1zM598 667h1v1h-1zM861 667h1v1h-1zM1125 667h1v1h-1zM1389 667h1v1h-1zM70 668h1v1h-1zM334 668h1v1h-1zM598 668h1v1h-1zM861 668h1v1h-1zM1125 668h1v1h-1zM1389 668h1v1h-1zM70 669h1v1h-1zM334 669h1v1h-1zM598 669h1v1h-1zM861 669h1v1h-1zM1125 669h1v1h-1zM1389 669h1v1h-1zM70 670h1v1h-1zM334 670h1v1h-1zM598 670h1v1h-1zM861 670h1v1h-1zM1125 670h1v1h-1zM1389 670h1v1h-1zM70 671h1v1h-1zM334 671h1v1h-1zM598 671h1v1h-1zM861 671h1v1h-1zM1125 671h1v1h-1zM1389 671h1v1h-1zM70 672h1v1h-1zM334 672h1v1h-1zM598 672h1v1h-1zM861 672h1v1h-1zM1125 672h1v1h-1zM1389 672h1v1h-1zM70 673h1v1h-1zM334 673h1v1h-1zM598 673h1v1h-1zM861 673h1v1h-1zM1125 673h1v1h-1zM1389 673h1v1h-1zM70 674h1v1h-1zM334 674h1v1h-1zM598 674h1v1h-1zM861 674h1v1h-1zM1125 674h1v1h-1zM1389 674h1v1h-1zM54 675h34v1h-34zM318 675h34v1h-34zM581 675h34v1h-34zM845 675h34v1h-34zM1109 675h34v1h-34zM1372 675h34v1h-34zM55 676h1v1h-1zM86 676h1v1h-1zM319 676h1v1h-1zM350 676h1v1h-1zM582 676h1v1h-1zM613 676h1v1h-1zM846 676h1v1h-1zM877 676h1v1h-1zM1110 676h1v1h-1zM1141 676h1v1h-1zM1373 676h1v1h-1zM1404 676h1v1h-1zM56 677h1v1h-1zM85 677h1v1h-1zM320 677h1v1h-1zM349 677h1v1h-1zM583 677h1v1h-1zM612 677h1v1h-1zM847 677h1v1h-1zM876 677h1v1h-1zM1111 677h1v1h-1zM1140 677h1v1h-1zM1374 677h1v1h-1zM1403 677h1v1h-1zM57 678h1v1h-1zM84 678h1v1h-1zM321 678h1v1h-1zM348 678h1v1h-1zM584 678h1v1h-1zM611 678h1v1h-1zM848 678h1v1h-1zM875 678h1v1h-1zM1112 678h1v1h-1zM1139 678h1v1h-1zM1375 678h1v1h-1zM1402 678h1v1h-1zM58 679h1v1h-1zM83 679h1v1h-1zM322 679h1v1h-1zM347 679h1v1h-1zM585 679h1v1h-1zM610 679h1v1h-1zM849 679h1v1h-1zM874 679h1v1h-1zM1113 679h1v1h-1zM1138 679h1v1h-1zM1376 679h1v1h-1zM1401 679h1v1h-1zM59 680h1v1h-1zM82 680h1v1h-1zM323 680h1v1h-1zM346 680h1v1h-1zM586 680h1v1h-1zM609 680h1v1h-1zM850 680h1v1h-1zM873 680h1v1h-1zM1114 680h1v1h-1zM1137 680h1v1h-1zM1377 680h1v1h-1zM1400 680h1v1h-1zM60 681h1v1h-1zM81 681h1v1h-1zM324 681h1v1h-1zM345 681h1v1h-1zM587 681h1v1h-1zM608 681h1v1h-1zM851 681h1v1h-1zM872 681h1v1h-1zM1115 681h1v1h-1zM1136 681h1v1h-1zM1378 681h1v1h-1zM1399 681h1v1h-1zM61 682h1v1h-1zM80 682h1v1h-1zM325 682h1v1h-1zM344 682h1v1h-1zM588 682h1v1h-1zM607 682h1v1h-1zM852 682h1v1h-1zM871 682h1v1h-1zM1116 682h1v1h-1zM1135 682h1v1h-1zM1379 682h1v1h-1zM1398 682h1v1h-1zM62 683h1v1h-1zM79 683h1v1h-1zM326 683h1v1h-1zM343 683h1v1h-1zM589 683h1v1h-1zM606 683h1v1h-1zM853 683h1v1h-1zM870 683h1v1h-1zM1117 683h1v1h-1zM1134 683h1v1h-1zM1380 683h1v1h-1zM1397 683h1v1h-1zM62 684h1v1h-1zM78 684h1v1h-1zM326 684h1v1h-1zM342 684h1v1h-1zM590 684h1v1h-1zM606 684h1v1h-1zM853 684h1v1h-1zM869 684h1v1h-1zM1117 684h1v1h-1zM1133 684h1v1h-1zM1381 684h1v1h-1zM1397 684h1v1h-1zM63 685h1v1h-1zM77 685h1v1h-1zM327 685h1v1h-1zM341 685h1v1h-1zM591 685h1v1h-1zM605 685h1v1h-1zM854 685h1v1h-1zM868 685h1v1h-1zM1118 685h1v1h-1zM1132 685h1v1h-1zM1382 685h1v1h-1zM1396 685h1v1h-1zM64 686h1v1h-1zM76 686h1v1h-1zM328 686h1v1h-1zM340 686h1v1h-1zM592 686h1v1h-1zM604 686h1v1h-1zM855 686h1v1h-1zM867 686h1v1h-1zM1119 686h1v1h-1zM1131 686h1v1h-1zM1383 686h1v1h-1zM1395 686h1v1h-1zM65 687h1v1h-1zM75 687h1v1h-1zM329 687h1v1h-1zM339 687h1v1h-1zM593 687h1v1h-1zM603 687h1v1h-1zM856 687h1v1h-1zM866 687h1v1h-1zM1120 687h1v1h-1zM1130 687h1v1h-1zM1384 687h1v1h-1zM1394 687h1v1h-1zM66 688h1v1h-1zM74 688h1v1h-1zM330 688h1v1h-1zM338 688h1v1h-1zM594 688h1v1h-1zM602 688h1v1h-1zM857 688h1v1h-1zM865 688h1v1h-1zM1121 688h1v1h-1zM1129 688h1v1h-1zM1385 688h1v1h-1zM1393 688h1v1h-1zM67 689h1v1h-1zM73 689h1v1h-1zM331 689h1v1h-1zM337 689h1v1h-1zM595 689h1v1h-1zM601 689h1v1h-1zM858 689h1v1h-1zM864 689h1v1h-1zM1122 689h1v1h-1zM1128 689h1v1h-1zM1386 689h1v1h-1zM1392 689h1v1h-1zM68 690h1v1h-1zM72 690h1v1h-1zM332 690h1v1h-1zM336 690h1v1h-1zM596 690h1v1h-1zM600 690h1v1h-1zM859 690h1v1h-1zM863 690h1v1h-1zM1123 690h1v1h-1zM1127 690h1v1h-1zM1387 690h1v1h-1zM1391 690h1v1h-1zM69 691h1v1h-1zM71 691h1v1h-1zM333 691h1v1h-1zM335 691h1v1h-1zM597 691h1v1h-1zM599 691h1v1h-1zM860 691h1v1h-1zM862 691h1v1h-1zM1124 691h1v1h-1zM1126 691h1v1h-1zM1388 691h1v1h-1zM1390 691h1v1h-1zM70 692h1v1h-1zM334 692h1v1h-1zM598 692h1v1h-1zM861 692h1v1h-1zM1125 692h1v1h-1zM1389 692h1v1h-1z"/>
<path fill="#ffff00" d="M942 657h5v1h-5zM942 658h1v1h-1zM946 658h1v1h-1zM942 659h1v1h-1zM946 659h1v1h-1zM942 660h1v1h-1zM946 660h1v1h-1zM942 661h5v1h-5z"/>
<path fill="#ffffff" d="M293 34h1v1h-1zM314 34h1v1h-1zM327 34h18v1h-18zM362 34h7v1h-7zM559 34h1v1h-1zM580 34h1v1h-1zM603 34h1v1h-1zM625 34h6v1h-6zM835 34h1v1h-1zM856 34h1v1h-1zM873 34h9v1h-9zM1099 34h1v1h-1zM1120 34h1v1h-1zM1145 34h1v1h-1zM293 35h2v1h-2zM314 35h1v1h-1zM343 35h1v1h-1zM360 35h2v1h-2zM369 35h2v1h-2zM559 35h2v1h-2zM580 35h1v1h-1zM602 35h2v1h-2zM623 35h2v1h-2zM631 35h2v1h-2zM835 35h2v1h-2zM856 35h1v1h-1zM871 35h2v1h-2zM882 35h2v1h-2zM1099 35h2v1h-2zM1120 35h1v1h-1zM1144 35h2v1h-2zM293 36h2v1h-2zM314 36h1v1h-1zM342 36h1v1h-1zM358 36h2v1h-2zM371 36h1v1h-1zM559 36h2v1h-2zM580 36h1v1h-1zM601 36h1v1h-1zM603 36h1v1h-1zM622 36h1v1h-1zM633 36h1v1h-1zM835 36h2v1h-2zM856 36h1v1h-1zM870 36h1v1h-1zM884 36h1v1h-1zM1099 36h2v1h-2zM1120 36h1v1h-1zM1144 36h2v1h-2zM293 37h1v1h-1zM295 37h1v1h-1zM314 37h1v1h-1zM342 37h1v1h-1zM357 37h1v1h-1zM372 37h1v1h-1zM559 37h1v1h-1zM561 37h1v1h-1zM580 37h1v1h-1zM600 37h1v1h-1zM603 37h1v1h-1zM621 37h1v1h-1zM634 37h1v1h-1zM835 37h1v1h-1zM837 37h1v1h-1zM856 37h1v1h-1zM869 37h1v1h-1zM885 37h1v1h-1zM1099 37h1v1h-1zM1101 37h1v1h-1zM1120 37h1v1h-1zM1143 37h1v1h-1zM1145 37h1v1h-1zM293 38h1v1h-1zM296 38h1v1h-1zM314 38h1v1h-1zM341 38h1v1h-1zM357 38h1v1h-1zM373 38h1v1h-1zM559 38h1v1h-1zM562 38h1v1h-1zM580 38h1v1h-1zM599 38h1v1h-1zM603 38h1v1h-1zM620 38h1v1h-1zM635 38h1v1h-1zM835 38h1v1h-1zM838 38h1v1h-1zM856 38h1v1h-1zM869 38h1v1h-1zM886 38h1v1h-1zM1099 38h1v1h-1zM1102 38h1v1h-1zM1120 38h1v1h-1zM1142 38h1v1h-1zM1145 38h1v1h-1zM293 39h1v1h-1zM296 39h1v1h-1zM314 39h1v1h-1zM340 39h1v1h-1zM356 39h1v1h-1zM373 39h1v1h-1zM559 39h1v1h-1zM562 39h1v1h-1zM580 39h1v1h-1zM597 39h2v1h-2zM603 39h1v1h-1zM620 39h1v1h-1zM635 39h1v1h-1zM835 39h1v1h-1zM838 39h1v1h-1zM856 39h1v1h-1zM868 39h1v1h-1zM886 39h1v1h-1zM1099 39h1v1h-1zM1102 39h1v1h-1zM1120 39h1v1h-1zM1141 39h1v1h-1zM1145 39h1v1h-1zM293 40h1v1h-1zM297 40h1v1h-1zM314 40h1v1h-1zM339 40h1v1h-1zM356 40h1v1h-1zM374 40h1v1h-1zM559 40h1v1h-1zM563 40h1v1h-1zM580 40h1v1h-1zM595 40h2v1h-2zM603 40h1v1h-1zM619 40h1v1h-1zM835 40h1v1h-1zM839 40h1v1h-1zM856 40h1v1h-1zM868 40h1v1h-1zM886 40h1v1h-1zM1099 40h1v1h-1zM1103 40h1v1h-1zM1120 40h1v1h-1zM1141 40h1v1h-1zM1145 40h1v1h-1zM293 41h1v1h-1zM298 41h1v1h-1zM314 41h1v1h-1zM339 41h1v1h-1zM356 41h1v1h-1zM374 41h1v1h-1zM559 41h1v1h-1zM564 41h1v1h-1zM580 41h1v1h-1zM603 41h1v1h-1zM619 41h1v1h-1zM835 41h1v1h-1zM840 41h1v1h-1zM856 41h1v1h-1zM868 41h1v1h-1zM886 41h1v1h-1zM1099 41h1v1h-1zM1104 41h1v1h-1zM1120 41h1v1h-1zM1140 41h1v1h-1zM1145 41h1v1h-1zM293 42h1v1h-1zM298 42h1v1h-1zM314 42h1v1h-1zM338 42h1v1h-1zM356 42h1v1h-1zM374 42h1v1h-1zM559 42h1v1h-1zM564 42h1v1h-1zM580 42h1v1h-1zM603 42h1v1h-1zM618 42h1v1h-1zM835 42h1v1h-1zM840 42h1v1h-1zM856 42h1v1h-1zM868 42h1v1h-1zM886 42h1v1h-1zM1099 42h1v1h-1zM1104 42h1v1h-1zM1120 42h1v1h-1zM1139 42h1v1h-1zM1145 42h1v1h-1zM293 43h1v1h-1zM299 43h1v1h-1zM314 43h1v1h-1zM337 43h1v1h-1zM374 43h1v1h-1zM559 43h1v1h-1zM565 43h1v1h-1zM580 43h1v1h-1zM603 43h1v1h-1zM618 43h1v1h-1zM835 43h1v1h-1zM841 43h1v1h-1zM856 43h1v1h-1zM869 43h1v1h-1zM886 43h1v1h-1zM1099 43h1v1h-1zM1105 43h1v1h-1zM1120 43h1v1h-1zM1139 43h1v1h-1zM1145 43h1v1h-1zM293 44h1v1h-1zM300 44h1v1h-1zM314 44h1v1h-1zM336 44h1v1h-1zM373 44h1v1h-1zM559 44h1v1h-1zM566 44h1v1h-1zM580 44h1v1h-1zM603 44h1v1h-1zM618 44h1v1h-1zM835 44h1v1h-1zM842 44h1v1h-1zM856 44h1v1h-1zM869 44h1v1h-1zM885 44h1v1h-1zM1099 44h1v1h-1zM1106 44h1v1h-1zM1120 44h1v1h-1zM1138 44h1v1h-1zM1145 44h1v1h-1zM293 45h1v1h-1zM300 45h1v1h-1zM314 45h1v1h-1zM336 45h1v1h-1zM373 45h1v1h-1zM559 45h1v1h-1zM566 45h1v1h-1zM580 45h1v1h-1zM603 45h1v1h-1zM618 45h1v1h-1zM835 45h1v1h-1zM842 45h1v1h-1zM856 45h1v1h-1zM870 45h2v1h-2zM884 45h2v1h-2zM1099 45h1v1h-1zM1106 45h1v1h-1zM1120 45h1v1h-1zM1137 45h1v1h-1zM1145 45h1v1h-1zM293 46h1v1h-1zM301 46h1v1h-1zM314 46h1v1h-1zM335 46h5v1h-5zM372 46h1v1h-1zM559 46h1v1h-1zM567 46h1v1h-1zM580 46h1v1h-1zM603 46h1v1h-1zM617 46h1v1h-1zM625 46h4v1h-4zM835 46h1v1h-1zM843 46h1v1h-1zM856 46h1v1h-1zM872 46h3v1h-3zM881 46h3v1h-3zM1099 46h1v1h-1zM1107 46h1v1h-1zM1120 46h1v1h-1zM1136 46h1v1h-1zM1145 46h1v1h-1zM293 47h1v1h-1zM302 47h1v1h-1zM314 47h1v1h-1zM340 47h2v1h-2zM371 47h1v1h-1zM559 47h1v1h-1zM568 47h1v1h-1zM580 47h1v1h-1zM603 47h1v1h-1zM617 47h1v1h-1zM623 47h2v1h-2zM629 47h2v1h-2zM835 47h1v1h-1zM844 47h1v1h-1zM856 47h1v1h-1zM875 47h6v1h-6zM1099 47h1v1h-1zM1108 47h1v1h-1zM1120 47h1v1h-1zM1136 47h1v1h-1zM1145 47h1v1h-1zM293 48h1v1h-1zM302 48h1v1h-1zM314 48h1v1h-1zM342 48h1v1h-1zM371 48h1v1h-1zM559 48h1v1h-1zM568 48h1v1h-1zM580 48h1v1h-1zM603 48h1v1h-1zM617 48h1v1h-1zM622 48h1v1h-1zM631 48h2v1h-2zM835 48h1v1h-1zM844 48h1v1h-1zM856 48h1v1h-1zM874 48h7v1h-7zM1099 48h1v1h-1zM1108 48h1v1h-1zM1120 48h1v1h-1zM1135 48h1v1h-1zM1145 48h1v1h-1zM293 49h1v1h-1zM303 49h1v1h-1zM314 49h1v1h-1zM343 49h2v1h-2zM370 49h1v1h-1zM559 49h1v1h-1zM569 49h1v1h-1zM580 49h1v1h-1zM603 49h1v1h-1zM617 49h1v1h-1zM621 49h1v1h-1zM633 49h1v1h-1zM835 49h1v1h-1zM845 49h1v1h-1zM856 49h1v1h-1zM871 49h3v1h-3zM881 49h3v1h-3zM1099 49h1v1h-1zM1109 49h1v1h-1zM1120 49h1v1h-1zM1134 49h1v1h-1zM1145 49h1v1h-1zM293 50h1v1h-1zM304 50h1v1h-1zM314 50h1v1h-1zM344 50h1v1h-1zM370 50h1v1h-1zM559 50h1v1h-1zM570 50h1v1h-1zM580 50h1v1h-1zM603 50h1v1h-1zM617 50h1v1h-1zM620 50h1v1h-1zM634 50h1v1h-1zM835 50h1v1h-1zM846 50h1v1h-1zM856 50h1v1h-1zM870 50h1v1h-1zM884 50h1v1h-1zM1099 50h1v1h-1zM1110 50h1v1h-1zM1120 50h1v1h-1zM1134 50h1v1h-1zM1145 50h1v1h-1zM293 51h1v1h-1zM304 51h1v1h-1zM314 51h1v1h-1zM344 51h1v1h-1zM369 51h1v1h-1zM559 51h1v1h-1zM570 51h1v1h-1zM580 51h1v1h-1zM603 51h1v1h-1zM617 51h1v1h-1zM619 51h1v1h-1zM635 51h1v1h-1zM835 51h1v1h-1zM846 51h1v1h-1zM856 51h1v1h-1zM869 51h1v1h-1zM885 51h1v1h-1zM1099 51h1v1h-1zM1110 51h1v1h-1zM1120 51h1v1h-1zM1133 51h1v1h-1zM1145 51h1v1h-1zM293 52h1v1h-1zM305 52h1v1h-1zM314 52h1v1h-1zM345 52h1v1h-1zM368 52h1v1h-1zM559 52h1v1h-1zM571 52h1v1h-1zM580 52h1v1h-1zM603 52h1v1h-1zM617 52h2v1h-2zM636 52h1v1h-1zM835 52h1v1h-1zM847 52h1v1h-1zM856 52h1v1h-1zM868 52h1v1h-1zM886 52h1v1h-1zM1099 52h1v1h-1zM1111 52h1v1h-1zM1120 52h1v1h-1zM1132 52h1v1h-1zM1145 52h1v1h-1zM293 53h1v1h-1zM305 53h1v1h-1zM314 53h1v1h-1zM345 53h1v1h-1zM367 53h1v1h-1zM559 53h1v1h-1zM571 53h1v1h-1zM580 53h1v1h-1zM603 53h1v1h-1zM617 53h2v1h-2zM636 53h1v1h-1zM835 53h1v1h-1zM847 53h1v1h-1zM856 53h1v1h-1zM868 53h1v1h-1zM886 53h1v1h-1zM1099 53h1v1h-1zM1111 53h1v1h-1zM1120 53h1v1h-1zM1131 53h1v1h-1zM1145 53h1v1h-1zM293 54h1v1h-1zM306 54h1v1h-1zM314 54h1v1h-1zM345 54h1v1h-1zM366 54h1v1h-1zM559 54h1v1h-1zM572 54h1v1h-1zM580 54h1v1h-1zM603 54h1v1h-1zM617 54h1v1h-1zM637 54h1v1h-1zM835 54h1v1h-1zM848 54h1v1h-1zM856 54h1v1h-1zM867 54h1v1h-1zM887 54h1v1h-1zM1099 54h1v1h-1zM1112 54h1v1h-1zM1120 54h1v1h-1zM1131 54h1v1h-1zM1145 54h1v1h-1zM293 55h1v1h-1zM307 55h1v1h-1zM314 55h1v1h-1zM345 55h1v1h-1zM365 55h1v1h-1zM559 55h1v1h-1zM573 55h1v1h-1zM580 55h1v1h-1zM603 55h1v1h-1zM617 55h1v1h-1zM637 55h1v1h-1zM835 55h1v1h-1zM849 55h1v1h-1zM856 55h1v1h-1zM867 55h1v1h-1zM887 55h1v1h-1zM1099 55h1v1h-1zM1113 55h1v1h-1zM1120 55h1v1h-1zM1130 55h24v1h-24zM293 56h1v1h-1zM307 56h1v1h-1zM314 56h1v1h-1zM345 56h1v1h-1zM364 56h1v1h-1zM559 56h1v1h-1zM573 56h1v1h-1zM580 56h1v1h-1zM603 56h1v1h-1zM617 56h1v1h-1zM637 56h1v1h-1zM835 56h1v1h-1zM849 56h1v1h-1zM856 56h1v1h-1zM867 56h1v1h-1zM887 56h1v1h-1zM1099 56h1v1h-1zM1113 56h1v1h-1zM1120 56h1v1h-1zM1145 56h1v1h-1zM293 57h1v1h-1zM308 57h1v1h-1zM314 57h1v1h-1zM345 57h1v1h-1zM363 57h1v1h-1zM559 57h1v1h-1zM574 57h1v1h-1zM580 57h1v1h-1zM603 57h1v1h-1zM618 57h1v1h-1zM637 57h1v1h-1zM835 57h1v1h-1zM850 57h1v1h-1zM856 57h1v1h-1zM867 57h1v1h-1zM887 57h1v1h-1zM1099 57h1v1h-1zM1114 57h1v1h-1zM1120 57h1v1h-1zM1145 57h1v1h-1zM293 58h1v1h-1zM309 58h1v1h-1zM314 58h1v1h-1zM345 58h1v1h-1zM362 58h1v1h-1zM559 58h1v1h-1zM575 58h1v1h-1zM580 58h1v1h-1zM603 58h1v1h-1zM618 58h1v1h-1zM636 58h1v1h-1zM835 58h1v1h-1zM851 58h1v1h-1zM856 58h1v1h-1zM867 58h1v1h-1zM887 58h1v1h-1zM1099 58h1v1h-1zM1115 58h1v1h-1zM1120 58h1v1h-1zM1145 58h1v1h-1zM293 59h1v1h-1zM309 59h1v1h-1zM314 59h1v1h-1zM344 59h1v1h-1zM361 59h1v1h-1zM559 59h1v1h-1zM575 59h1v1h-1zM580 59h1v1h-1zM603 59h1v1h-1zM618 59h1v1h-1zM636 59h1v1h-1zM835 59h1v1h-1zM851 59h1v1h-1zM856 59h1v1h-1zM867 59h1v1h-1zM887 59h1v1h-1zM1099 59h1v1h-1zM1115 59h1v1h-1zM1120 59h1v1h-1zM1145 59h1v1h-1zM293 60h1v1h-1zM310 60h1v1h-1zM314 60h1v1h-1zM324 60h1v1h-1zM344 60h1v1h-1zM360 60h1v1h-1zM559 60h1v1h-1zM576 60h1v1h-1zM580 60h1v1h-1zM603 60h1v1h-1zM619 60h1v1h-1zM635 60h1v1h-1zM835 60h1v1h-1zM852 60h1v1h-1zM856 60h1v1h-1zM867 60h1v1h-1zM887 60h1v1h-1zM1099 60h1v1h-1zM1116 60h1v1h-1zM1120 60h1v1h-1zM1145 60h1v1h-1zM293 61h1v1h-1zM311 61h1v1h-1zM314 61h1v1h-1zM325 61h1v1h-1zM344 61h1v1h-1zM359 61h1v1h-1zM559 61h1v1h-1zM577 61h1v1h-1zM580 61h1v1h-1zM603 61h1v1h-1zM619 61h1v1h-1zM635 61h1v1h-1zM835 61h1v1h-1zM853 61h1v1h-1zM856 61h1v1h-1zM867 61h1v1h-1zM887 61h1v1h-1zM1099 61h1v1h-1zM1117 61h1v1h-1zM1120 61h1v1h-1zM1145 61h1v1h-1zM293 62h1v1h-1zM311 62h1v1h-1zM314 62h1v1h-1zM325 62h1v1h-1zM343 62h1v1h-1zM358 62h1v1h-1zM559 62h1v1h-1zM577 62h1v1h-1zM580 62h1v1h-1zM603 62h1v1h-1zM620 62h1v1h-1zM634 62h1v1h-1zM835 62h1v1h-1zM853 62h1v1h-1zM856 62h1v1h-1zM868 62h1v1h-1zM886 62h1v1h-1zM1099 62h1v1h-1zM1117 62h1v1h-1zM1120 62h1v1h-1zM1145 62h1v1h-1zM293 63h1v1h-1zM312 63h1v1h-1zM314 63h1v1h-1zM326 63h1v1h-1zM342 63h1v1h-1zM357 63h1v1h-1zM559 63h1v1h-1zM578 63h1v1h-1zM580 63h1v1h-1zM603 63h1v1h-1zM621 63h1v1h-1zM633 63h1v1h-1zM835 63h1v1h-1zM854 63h1v1h-1zM856 63h1v1h-1zM868 63h1v1h-1zM886 63h1v1h-1zM1099 63h1v1h-1zM1118 63h1v1h-1zM1120 63h1v1h-1zM1145 63h1v1h-1zM293 64h1v1h-1zM313 64h2v1h-2zM327 64h2v1h-2zM340 64h2v1h-2zM356 64h1v1h-1zM559 64h1v1h-1zM579 64h2v1h-2zM603 64h1v1h-1zM622 64h1v1h-1zM631 64h2v1h-2zM835 64h1v1h-1zM855 64h2v1h-2zM869 64h2v1h-2zM884 64h2v1h-2zM1099 64h1v1h-1zM1119 64h2v1h-2zM1145 64h1v1h-1zM293 65h1v1h-1zM313 65h2v1h-2zM329 65h2v1h-2zM338 65h2v1h-2zM355 65h1v1h-1zM559 65h1v1h-1zM579 65h2v1h-2zM603 65h1v1h-1zM623 65h2v1h-2zM629 65h2v1h-2zM835 65h1v1h-1zM855 65h2v1h-2zM871 65h2v1h-2zM882 65h2v1h-2zM1099 65h1v1h-1zM1119 65h2v1h-2zM1145 65h1v1h-1zM293 66h1v1h-1zM314 66h1v1h-1zM331 66h7v1h-7zM354 66h22v1h-22zM559 66h1v1h-1zM580 66h1v1h-1zM603 66h1v1h-1zM625 66h4v1h-4zM835 66h1v1h-1zM856 66h1v1h-1zM873 66h9v1h-9zM1099 66h1v1h-1zM1120 66h1v1h-1zM1145 66h1v1h-1zM86 463h1v1h-1zM110 463h1v1h-1zM119 463h17v1h-17zM153 463h9v1h-9zM178 463h1v1h-1zM358 463h1v1h-1zM382 463h1v1h-1zM391 463h17v1h-17zM424 463h9v1h-9zM623 463h1v1h-1zM647 463h1v1h-1zM665 463h1v1h-1zM687 463h7v1h-7zM884 463h1v1h-1zM907 463h1v1h-1zM919 463h10v1h-10zM1147 463h1v1h-1zM1171 463h1v1h-1zM1192 463h1v1h-1zM1411 463h1v1h-1zM1435 463h1v1h-1zM1447 463h9v1h-9zM86 464h1v1h-1zM110 464h1v1h-1zM134 464h1v1h-1zM151 464h2v1h-2zM162 464h2v1h-2zM177 464h1v1h-1zM179 464h2v1h-2zM358 464h1v1h-1zM382 464h1v1h-1zM406 464h1v1h-1zM422 464h2v1h-2zM433 464h2v1h-2zM623 464h1v1h-1zM647 464h1v1h-1zM664 464h2v1h-2zM684 464h3v1h-3zM694 464h3v1h-3zM884 464h1v1h-1zM907 464h1v1h-1zM916 464h3v1h-3zM929 464h3v1h-3zM1147 464h1v1h-1zM1171 464h1v1h-1zM1191 464h2v1h-2zM1411 464h1v1h-1zM1435 464h1v1h-1zM1445 464h2v1h-2zM1456 464h2v1h-2zM87 465h1v1h-1zM109 465h1v1h-1zM133 465h1v1h-1zM150 465h1v1h-1zM164 465h1v1h-1zM178 465h1v1h-1zM180 465h1v1h-1zM359 465h1v1h-1zM381 465h1v1h-1zM405 465h1v1h-1zM421 465h1v1h-1zM435 465h1v1h-1zM624 465h1v1h-1zM646 465h1v1h-1zM662 465h2v1h-2zM665 465h1v1h-1zM683 465h1v1h-1zM697 465h1v1h-1zM885 465h1v1h-1zM906 465h1v1h-1zM916 465h1v1h-1zM932 465h1v1h-1zM1148 465h1v1h-1zM1170 465h1v1h-1zM1191 465h2v1h-2zM1412 465h1v1h-1zM1434 465h1v1h-1zM1444 465h1v1h-1zM1458 465h1v1h-1zM87 466h1v1h-1zM109 466h1v1h-1zM133 466h1v1h-1zM149 466h1v1h-1zM165 466h1v1h-1zM178 466h1v1h-1zM180 466h1v1h-1zM359 466h1v1h-1zM381 466h1v1h-1zM405 466h1v1h-1zM420 466h1v1h-1zM436 466h1v1h-1zM624 466h1v1h-1zM646 466h1v1h-1zM661 466h1v1h-1zM665 466h1v1h-1zM683 466h1v1h-1zM698 466h1v1h-1zM885 466h1v1h-1zM906 466h1v1h-1zM915 466h2v1h-2zM932 466h1v1h-1zM1148 466h1v1h-1zM1170 466h1v1h-1zM1190 466h1v1h-1zM1192 466h1v1h-1zM1412 466h1v1h-1zM1434 466h1v1h-1zM1444 466h1v1h-1zM1459 466h1v1h-1zM88 467h1v1h-1zM108 467h1v1h-1zM132 467h1v1h-1zM149 467h1v1h-1zM165 467h1v1h-1zM180 467h1v1h-1zM360 467h1v1h-1zM380 467h1v1h-1zM404 467h1v1h-1zM420 467h1v1h-1zM436 467h1v1h-1zM625 467h1v1h-1zM645 467h1v1h-1zM660 467h1v1h-1zM665 467h1v1h-1zM682 467h1v1h-1zM698 467h1v1h-1zM886 467h1v1h-1zM906 467h1v1h-1zM915 467h1v1h-1zM933 467h1v1h-1zM1149 467h1v1h-1zM1169 467h1v1h-1zM1189 467h1v1h-1zM1192 467h1v1h-1zM1413 467h1v1h-1zM1433 467h1v1h-1zM1443 467h1v1h-1zM1459 467h1v1h-1zM88 468h1v1h-1zM108 468h1v1h-1zM131 468h1v1h-1zM148 468h1v1h-1zM165 468h1v1h-1zM179 468h1v1h-1zM360 468h1v1h-1zM380 468h1v1h-1zM403 468h1v1h-1zM419 468h1v1h-1zM436 468h1v1h-1zM625 468h1v1h-1zM645 468h1v1h-1zM658 468h2v1h-2zM665 468h1v1h-1zM682 468h1v1h-1zM886 468h1v1h-1zM905 468h1v1h-1zM915 468h1v1h-1zM933 468h1v1h-1zM1149 468h1v1h-1zM1169 468h1v1h-1zM1188 468h1v1h-1zM1192 468h1v1h-1zM1413 468h1v1h-1zM1433 468h1v1h-1zM1443 468h1v1h-1zM1460 468h1v1h-1zM88 469h1v1h-1zM108 469h1v1h-1zM130 469h1v1h-1zM148 469h1v1h-1zM166 469h1v1h-1zM179 469h1v1h-1zM360 469h1v1h-1zM380 469h1v1h-1zM402 469h1v1h-1zM419 469h1v1h-1zM437 469h1v1h-1zM625 469h1v1h-1zM645 469h1v1h-1zM657 469h1v1h-1zM665 469h1v1h-1zM682 469h1v1h-1zM886 469h1v1h-1zM905 469h1v1h-1zM915 469h1v1h-1zM933 469h1v1h-1zM1149 469h1v1h-1zM1169 469h1v1h-1zM1188 469h1v1h-1zM1192 469h1v1h-1zM1413 469h1v1h-1zM1433 469h1v1h-1zM1442 469h1v1h-1zM1460 469h1v1h-1zM89 470h1v1h-1zM107 470h1v1h-1zM130 470h1v1h-1zM148 470h1v1h-1zM166 470h1v1h-1zM178 470h1v1h-1zM361 470h1v1h-1zM379 470h1v1h-1zM402 470h1v1h-1zM419 470h1v1h-1zM437 470h1v1h-1zM626 470h1v1h-1zM644 470h1v1h-1zM665 470h1v1h-1zM681 470h1v1h-1zM887 470h1v1h-1zM905 470h1v1h-1zM915 470h1v1h-1zM933 470h1v1h-1zM1150 470h1v1h-1zM1168 470h1v1h-1zM1187 470h1v1h-1zM1192 470h1v1h-1zM1414 470h1v1h-1zM1432 470h1v1h-1zM1442 470h1v1h-1zM1460 470h1v1h-1zM89 471h1v1h-1zM107 471h1v1h-1zM129 471h1v1h-1zM166 471h1v1h-1zM177 471h1v1h-1zM361 471h1v1h-1zM379 471h1v1h-1zM401 471h1v1h-1zM437 471h1v1h-1zM626 471h1v1h-1zM644 471h1v1h-1zM665 471h1v1h-1zM681 471h1v1h-1zM887 471h1v1h-1zM904 471h1v1h-1zM915 471h1v1h-1zM932 471h1v1h-1zM1150 471h1v1h-1zM1168 471h1v1h-1zM1186 471h1v1h-1zM1192 471h1v1h-1zM1414 471h1v1h-1zM1432 471h1v1h-1zM1460 471h1v1h-1zM89 472h1v1h-1zM107 472h1v1h-1zM128 472h1v1h-1zM166 472h1v1h-1zM177 472h1v1h-1zM361 472h1v1h-1zM379 472h1v1h-1zM400 472h1v1h-1zM437 472h1v1h-1zM626 472h1v1h-1zM644 472h1v1h-1zM665 472h1v1h-1zM681 472h1v1h-1zM887 472h1v1h-1zM904 472h1v1h-1zM916 472h1v1h-1zM932 472h1v1h-1zM1150 472h1v1h-1zM1168 472h1v1h-1zM1186 472h1v1h-1zM1192 472h1v1h-1zM1414 472h1v1h-1zM1432 472h1v1h-1zM1460 472h1v1h-1zM90 473h1v1h-1zM106 473h1v1h-1zM127 473h1v1h-1zM165 473h1v1h-1zM362 473h1v1h-1zM378 473h1v1h-1zM399 473h1v1h-1zM436 473h1v1h-1zM627 473h1v1h-1zM643 473h1v1h-1zM665 473h1v1h-1zM680 473h2v1h-2zM888 473h1v1h-1zM903 473h1v1h-1zM916 473h1v1h-1zM931 473h1v1h-1zM1151 473h1v1h-1zM1167 473h1v1h-1zM1185 473h1v1h-1zM1192 473h1v1h-1zM1415 473h1v1h-1zM1431 473h1v1h-1zM1460 473h1v1h-1zM90 474h1v1h-1zM106 474h1v1h-1zM127 474h1v1h-1zM165 474h1v1h-1zM362 474h1v1h-1zM378 474h1v1h-1zM399 474h1v1h-1zM436 474h1v1h-1zM627 474h1v1h-1zM643 474h1v1h-1zM665 474h1v1h-1zM680 474h1v1h-1zM888 474h1v1h-1zM903 474h1v1h-1zM917 474h2v1h-2zM929 474h2v1h-2zM1151 474h1v1h-1zM1167 474h1v1h-1zM1184 474h1v1h-1zM1192 474h1v1h-1zM1415 474h1v1h-1zM1431 474h1v1h-1zM1459 474h1v1h-1zM91 475h1v1h-1zM105 475h1v1h-1zM126 475h7v1h-7zM164 475h1v1h-1zM363 475h1v1h-1zM377 475h1v1h-1zM398 475h7v1h-7zM435 475h1v1h-1zM628 475h1v1h-1zM642 475h1v1h-1zM665 475h1v1h-1zM680 475h1v1h-1zM687 475h6v1h-6zM889 475h1v1h-1zM903 475h1v1h-1zM919 475h3v1h-3zM925 475h4v1h-4zM1152 475h1v1h-1zM1166 475h1v1h-1zM1183 475h1v1h-1zM1192 475h1v1h-1zM1416 475h1v1h-1zM1430 475h1v1h-1zM1458 475h1v1h-1zM91 476h1v1h-1zM105 476h1v1h-1zM133 476h2v1h-2zM163 476h1v1h-1zM363 476h1v1h-1zM377 476h1v1h-1zM405 476h2v1h-2zM434 476h1v1h-1zM628 476h1v1h-1zM642 476h1v1h-1zM665 476h1v1h-1zM680 476h1v1h-1zM684 476h3v1h-3zM693 476h3v1h-3zM889 476h1v1h-1zM902 476h1v1h-1zM921 476h6v1h-6zM1152 476h1v1h-1zM1166 476h1v1h-1zM1183 476h1v1h-1zM1192 476h1v1h-1zM1416 476h1v1h-1zM1430 476h1v1h-1zM1457 476h1v1h-1zM91 477h1v1h-1zM105 477h1v1h-1zM135 477h1v1h-1zM162 477h1v1h-1zM363 477h1v1h-1zM377 477h1v1h-1zM407 477h1v1h-1zM433 477h1v1h-1zM628 477h1v1h-1zM642 477h1v1h-1zM665 477h1v1h-1zM680 477h1v1h-1zM683 477h1v1h-1zM696 477h1v1h-1zM889 477h1v1h-1zM902 477h1v1h-1zM919 477h2v1h-2zM927 477h2v1h-2zM1152 477h1v1h-1zM1166 477h1v1h-1zM1182 477h1v1h-1zM1192 477h1v1h-1zM1416 477h1v1h-1zM1430 477h1v1h-1zM1457 477h1v1h-1zM92 478h1v1h-1zM104 478h1v1h-1zM135 478h1v1h-1zM162 478h1v1h-1zM364 478h1v1h-1zM376 478h1v1h-1zM407 478h1v1h-1zM433 478h1v1h-1zM629 478h1v1h-1zM641 478h1v1h-1zM665 478h1v1h-1zM680 478h1v1h-1zM682 478h1v1h-1zM697 478h1v1h-1zM890 478h1v1h-1zM902 478h1v1h-1zM917 478h2v1h-2zM929 478h2v1h-2zM1153 478h1v1h-1zM1165 478h1v1h-1zM1181 478h1v1h-1zM1192 478h1v1h-1zM1417 478h1v1h-1zM1429 478h1v1h-1zM1456 478h1v1h-1zM92 479h1v1h-1zM104 479h1v1h-1zM136 479h1v1h-1zM161 479h1v1h-1zM364 479h1v1h-1zM376 479h1v1h-1zM408 479h1v1h-1zM432 479h1v1h-1zM629 479h1v1h-1zM641 479h1v1h-1zM665 479h1v1h-1zM680 479h2v1h-2zM698 479h1v1h-1zM890 479h1v1h-1zM901 479h1v1h-1zM916 479h1v1h-1zM931 479h1v1h-1zM1153 479h1v1h-1zM1165 479h1v1h-1zM1181 479h1v1h-1zM1192 479h1v1h-1zM1417 479h1v1h-1zM1429 479h1v1h-1zM1455 479h1v1h-1zM93 480h1v1h-1zM103 480h1v1h-1zM136 480h1v1h-1zM160 480h1v1h-1zM365 480h1v1h-1zM375 480h1v1h-1zM408 480h1v1h-1zM431 480h1v1h-1zM630 480h1v1h-1zM640 480h1v1h-1zM665 480h1v1h-1zM680 480h2v1h-2zM698 480h1v1h-1zM891 480h1v1h-1zM901 480h1v1h-1zM915 480h1v1h-1zM932 480h1v1h-1zM1154 480h1v1h-1zM1164 480h1v1h-1zM1180 480h1v1h-1zM1192 480h1v1h-1zM1418 480h1v1h-1zM1428 480h1v1h-1zM1454 480h1v1h-1zM93 481h1v1h-1zM103 481h1v1h-1zM137 481h1v1h-1zM159 481h1v1h-1zM365 481h1v1h-1zM375 481h1v1h-1zM409 481h1v1h-1zM430 481h1v1h-1zM630 481h1v1h-1zM640 481h1v1h-1zM665 481h1v1h-1zM680 481h1v1h-1zM699 481h1v1h-1zM891 481h1v1h-1zM901 481h1v1h-1zM914 481h1v1h-1zM933 481h1v1h-1zM1154 481h1v1h-1zM1164 481h1v1h-1zM1179 481h1v1h-1zM1192 481h1v1h-1zM1418 481h1v1h-1zM1428 481h1v1h-1zM1453 481h1v1h-1zM93 482h1v1h-1zM103 482h1v1h-1zM137 482h1v1h-1zM158 482h1v1h-1zM365 482h1v1h-1zM375 482h1v1h-1zM409 482h1v1h-1zM429 482h1v1h-1zM630 482h1v1h-1zM640 482h1v1h-1zM665 482h1v1h-1zM680 482h1v1h-1zM699 482h1v1h-1zM891 482h1v1h-1zM900 482h1v1h-1zM914 482h1v1h-1zM933 482h1v1h-1zM1154 482h1v1h-1zM1164 482h1v1h-1zM1178 482h1v1h-1zM1192 482h1v1h-1zM1418 482h1v1h-1zM1428 482h1v1h-1zM1452 482h1v1h-1zM94 483h1v1h-1zM102 483h1v1h-1zM137 483h1v1h-1zM157 483h1v1h-1zM366 483h1v1h-1zM374 483h1v1h-1zM409 483h1v1h-1zM428 483h1v1h-1zM631 483h1v1h-1zM639 483h1v1h-1zM665 483h1v1h-1zM680 483h1v1h-1zM699 483h1v1h-1zM892 483h1v1h-1zM900 483h1v1h-1zM913 483h1v1h-1zM934 483h1v1h-1zM1155 483h1v1h-1zM1163 483h1v1h-1zM1178 483h1v1h-1zM1192 483h1v1h-1zM1419 483h1v1h-1zM1427 483h1v1h-1zM1451 483h1v1h-1zM94 484h1v1h-1zM102 484h1v1h-1zM137 484h1v1h-1zM156 484h1v1h-1zM366 484h1v1h-1zM374 484h1v1h-1zM409 484h1v1h-1zM427 484h1v1h-1zM631 484h1v1h-1zM639 484h1v1h-1zM665 484h1v1h-1zM680 484h1v1h-1zM699 484h1v1h-1zM892 484h1v1h-1zM900 484h1v1h-1zM913 484h1v1h-1zM934 484h1v1h-1zM1155 484h1v1h-1zM1163 484h1v1h-1zM1177 484h23v1h-23zM1419 484h1v1h-1zM1427 484h1v1h-1zM1450 484h1v1h-1zM95 485h1v1h-1zM101 485h1v1h-1zM137 485h1v1h-1zM155 485h1v1h-1zM367 485h1v1h-1zM373 485h1v1h-1zM409 485h1v1h-1zM426 485h1v1h-1zM632 485h1v1h-1zM638 485h1v1h-1zM665 485h1v1h-1zM680 485h1v1h-1zM699 485h1v1h-1zM893 485h1v1h-1zM899 485h1v1h-1zM913 485h1v1h-1zM934 485h1v1h-1zM1156 485h1v1h-1zM1162 485h1v1h-1zM1192 485h1v1h-1zM1420 485h1v1h-1zM1426 485h1v1h-1zM1449 485h1v1h-1zM95 486h1v1h-1zM101 486h1v1h-1zM137 486h1v1h-1zM154 486h1v1h-1zM367 486h1v1h-1zM373 486h1v1h-1zM409 486h1v1h-1zM425 486h1v1h-1zM632 486h1v1h-1zM638 486h1v1h-1zM665 486h1v1h-1zM680 486h1v1h-1zM699 486h1v1h-1zM893 486h1v1h-1zM899 486h1v1h-1zM913 486h1v1h-1zM934 486h1v1h-1zM1156 486h1v1h-1zM1162 486h1v1h-1zM1192 486h1v1h-1zM1420 486h1v1h-1zM1426 486h1v1h-1zM1448 486h1v1h-1zM95 487h1v1h-1zM101 487h1v1h-1zM136 487h1v1h-1zM153 487h1v1h-1zM367 487h1v1h-1zM373 487h1v1h-1zM408 487h1v1h-1zM424 487h1v1h-1zM632 487h1v1h-1zM638 487h1v1h-1zM665 487h1v1h-1zM681 487h1v1h-1zM699 487h1v1h-1zM893 487h1v1h-1zM898 487h1v1h-1zM913 487h1v1h-1zM934 487h1v1h-1zM1156 487h1v1h-1zM1162 487h1v1h-1zM1192 487h1v1h-1zM1420 487h1v1h-1zM1426 487h1v1h-1zM1448 487h1v1h-1zM96 488h1v1h-1zM100 488h1v1h-1zM116 488h1v1h-1zM136 488h1v1h-1zM152 488h1v1h-1zM368 488h1v1h-1zM372 488h1v1h-1zM388 488h1v1h-1zM408 488h1v1h-1zM423 488h1v1h-1zM633 488h1v1h-1zM637 488h1v1h-1zM665 488h1v1h-1zM681 488h1v1h-1zM698 488h1v1h-1zM894 488h1v1h-1zM898 488h1v1h-1zM913 488h1v1h-1zM934 488h1v1h-1zM1157 488h1v1h-1zM1161 488h1v1h-1zM1192 488h1v1h-1zM1421 488h1v1h-1zM1425 488h1v1h-1zM1447 488h1v1h-1zM96 489h1v1h-1zM100 489h1v1h-1zM116 489h1v1h-1zM135 489h1v1h-1zM151 489h1v1h-1zM368 489h1v1h-1zM372 489h1v1h-1zM388 489h1v1h-1zM407 489h1v1h-1zM422 489h1v1h-1zM633 489h1v1h-1zM637 489h1v1h-1zM665 489h1v1h-1zM681 489h1v1h-1zM698 489h1v1h-1zM894 489h1v1h-1zM898 489h1v1h-1zM913 489h1v1h-1zM934 489h1v1h-1zM1157 489h1v1h-1zM1161 489h1v1h-1zM1192 489h1v1h-1zM1421 489h1v1h-1zM1425 489h1v1h-1zM1446 489h1v1h-1zM96 490h1v1h-1zM100 490h1v1h-1zM117 490h1v1h-1zM135 490h1v1h-1zM150 490h1v1h-1zM368 490h1v1h-1zM372 490h1v1h-1zM389 490h1v1h-1zM407 490h1v1h-1zM421 490h1v1h-1zM633 490h1v1h-1zM637 490h1v1h-1zM665 490h1v1h-1zM681 490h1v1h-1zM698 490h1v1h-1zM894 490h1v1h-1zM897 490h1v1h-1zM914 490h1v1h-1zM933 490h1v1h-1zM1157 490h1v1h-1zM1161 490h1v1h-1zM1192 490h1v1h-1zM1421 490h1v1h-1zM1425 490h1v1h-1zM1445 490h1v1h-1zM97 491h1v1h-1zM99 491h1v1h-1zM117 491h1v1h-1zM134 491h1v1h-1zM149 491h1v1h-1zM369 491h1v1h-1zM371 491h1v1h-1zM389 491h1v1h-1zM406 491h1v1h-1zM420 491h1v1h-1zM634 491h1v1h-1zM636 491h1v1h-1zM665 491h1v1h-1zM682 491h1v1h-1zM697 491h1v1h-1zM895 491h1v1h-1zM897 491h1v1h-1zM914 491h1v1h-1zM933 491h1v1h-1zM1158 491h1v1h-1zM1160 491h1v1h-1zM1192 491h1v1h-1zM1422 491h1v1h-1zM1424 491h1v1h-1zM1444 491h1v1h-1zM97 492h1v1h-1zM99 492h1v1h-1zM118 492h1v1h-1zM133 492h1v1h-1zM148 492h1v1h-1zM369 492h1v1h-1zM371 492h1v1h-1zM390 492h1v1h-1zM405 492h1v1h-1zM419 492h1v1h-1zM634 492h1v1h-1zM636 492h1v1h-1zM665 492h1v1h-1zM683 492h1v1h-1zM696 492h1v1h-1zM895 492h1v1h-1zM897 492h1v1h-1zM915 492h1v1h-1zM932 492h1v1h-1zM1158 492h1v1h-1zM1160 492h1v1h-1zM1192 492h1v1h-1zM1422 492h1v1h-1zM1424 492h1v1h-1zM1443 492h1v1h-1zM98 493h1v1h-1zM119 493h2v1h-2zM130 493h3v1h-3zM147 493h1v1h-1zM370 493h1v1h-1zM391 493h2v1h-2zM402 493h3v1h-3zM418 493h1v1h-1zM635 493h1v1h-1zM665 493h1v1h-1zM684 493h3v1h-3zM693 493h3v1h-3zM896 493h1v1h-1zM916 493h3v1h-3zM929 493h3v1h-3zM1159 493h1v1h-1zM1192 493h1v1h-1zM1423 493h1v1h-1zM1442 493h1v1h-1zM98 494h1v1h-1zM121 494h9v1h-9zM146 494h23v1h-23zM370 494h1v1h-1zM393 494h9v1h-9zM417 494h23v1h-23zM635 494h1v1h-1zM665 494h1v1h-1zM687 494h6v1h-6zM896 494h1v1h-1zM919 494h10v1h-10zM1159 494h1v1h-1zM1192 494h1v1h-1zM1423 494h1v1h-1zM1441 494h23v1h-23z"/>
</svg></body></html>
